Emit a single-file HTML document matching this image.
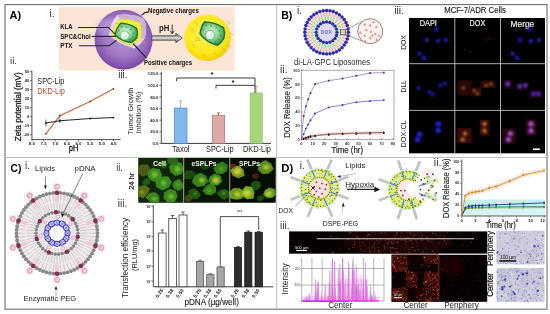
<!DOCTYPE html>
<html><head><meta charset="utf-8"><title>Liposome figure</title>
<style>
html,body{margin:0;padding:0;background:#fff;}
svg{display:block;font-family:'Liberation Sans', sans-serif;}
</style></head><body>
<svg width="550" height="314" viewBox="0 0 550 314">
<defs>
<filter id="b0" x="-5%" y="-5%" width="110%" height="110%"><feGaussianBlur stdDeviation="0.3"/></filter>
<filter id="b1" x="-20%" y="-20%" width="140%" height="140%"><feGaussianBlur stdDeviation="0.6"/></filter>
<filter id="b4" x="-40%" y="-40%" width="180%" height="180%"><feGaussianBlur stdDeviation="0.9"/></filter>
<filter id="b2" x="-20%" y="-20%" width="140%" height="140%"><feGaussianBlur stdDeviation="1.2"/></filter>
<filter id="b3" x="-20%" y="-20%" width="140%" height="140%"><feGaussianBlur stdDeviation="2.2"/></filter>
<radialGradient id="gPurple" cx="0.5" cy="0.45" r="0.55">
 <stop offset="0" stop-color="#b898d6"/><stop offset="0.6" stop-color="#a078c4"/><stop offset="0.9" stop-color="#8656b0"/><stop offset="1" stop-color="#7444a0"/>
</radialGradient>
<radialGradient id="gYellow" cx="0.45" cy="0.4" r="0.6">
 <stop offset="0" stop-color="#fff35a"/><stop offset="0.7" stop-color="#ffe81c"/><stop offset="1" stop-color="#f1d400"/>
</radialGradient>
<radialGradient id="gGreen" cx="0.45" cy="0.45" r="0.6">
 <stop offset="0" stop-color="#def4de"/><stop offset="0.4" stop-color="#a4dca0"/><stop offset="0.75" stop-color="#58b45e"/><stop offset="1" stop-color="#2c8a3e"/>
</radialGradient>
<linearGradient id="gArrow" x1="0" y1="0" x2="0" y2="1">
 <stop offset="0" stop-color="#555"/><stop offset="0.5" stop-color="#ddd"/><stop offset="1" stop-color="#555"/>
</linearGradient>
<clipPath id="cC1"><rect x="138.5" y="158" width="45" height="44.5"/></clipPath>
<clipPath id="cC2"><rect x="184" y="158" width="45.6" height="44.5"/></clipPath>
<clipPath id="cC3"><rect x="230" y="158" width="45.5" height="44.5"/></clipPath>
<clipPath id="cStrip"><rect x="289.1" y="231.4" width="198.2" height="22.3"/></clipPath>
<clipPath id="cCen"><rect x="391.5" y="254.8" width="47.4" height="47"/></clipPath>
<clipPath id="cPer"><rect x="439" y="254.8" width="48.2" height="47"/></clipPath>
<clipPath id="cM1"><rect x="496.4" y="230.8" width="48" height="33.5"/></clipPath>
<clipPath id="cM2"><rect x="496.5" y="268" width="48.5" height="34"/></clipPath>
<clipPath id="cInt"><rect x="302" y="257" width="82" height="45"/></clipPath>
</defs>
<rect x="0.00" y="0.00" width="550.00" height="314.00" fill="#fff" />
<rect x="5" y="4.6" width="542" height="304.6" fill="none" stroke="#6e6e6e" stroke-width="1.1"/>
<line x1="276.70" y1="5.00" x2="276.70" y2="309.00" stroke="#b9b9b9" stroke-width="0.9" />
<line x1="5.00" y1="157.50" x2="547.00" y2="157.50" stroke="#b9b9b9" stroke-width="0.9" />
<text font-size="11.4" fill="#000" font-weight="bold" textLength="11.6" lengthAdjust="spacingAndGlyphs" x="9.5" y="18.9" >A)</text>
<text font-size="10" fill="#333" x="49.6" y="16.5" >i.</text>
<rect x="59.00" y="7.00" width="175.80" height="63.50" fill="#fbe5d6" />
<ellipse cx="123.6" cy="39.6" rx="29" ry="29.8" fill="url(#gPurple)"/>
<g transform="translate(-2.6,-0.4) translate(124,40) scale(1.0,0.98) translate(-124,-40)">
<ellipse cx="112" cy="27" rx="14" ry="9" fill="#cdb6e6" opacity="0.45" filter="url(#b3)"/>
<path d="M111.5 35.5 Q113 22 120 15 Q133 12.5 146 18.5 Q151 28 147 39.5 Q143 45.5 137 49 Q122 45 111.5 35.5 Z" fill="#e6d9ee"/>
<path d="M120 15 Q133 12.5 146 18.5 Q151 28 147 39.5 L143 38 Q145 27 142 22.5 Q132 19 122.4 19.6 Z" fill="#cdb3df"/>
<path d="M114.5 36 Q116 26 122 19.3 Q133 18.5 142.5 23 Q145.5 31 143.3 38.6 Q140 43 135 45.6 Q123 43 114.5 36 Z" fill="#f1ee3c" stroke="#dcd028" stroke-width="0.5"/>
<path d="M117.6 35.6 Q118.6 28.5 123.4 23.3 Q132 23.5 139.3 28.5 Q141 33.5 139.3 38.6 Q137 41.5 133.8 43.2 Q124 41.5 117.6 35.6 Z" fill="url(#gGreen)" stroke="#1c6e30" stroke-width="1.3" stroke-linejoin="round"/>
<circle cx="127.30" cy="35.80" r="4.6" fill="#d9efe0" stroke="#5aa86a" stroke-width="0.7"/>
<circle cx="126.20" cy="34.60" r="2.2" fill="#f2faf4" opacity="0.8"/>
<circle cx="124.50" cy="27.20" r="0.7" fill="#2a78c8" />
<circle cx="129.00" cy="27.50" r="0.7" fill="#2a78c8" />
<circle cx="133.50" cy="29.50" r="0.7" fill="#2a78c8" />
<circle cx="135.80" cy="33.50" r="0.7" fill="#2a78c8" />
<circle cx="135.50" cy="37.50" r="0.7" fill="#2a78c8" />
<circle cx="132.50" cy="40.20" r="0.7" fill="#2a78c8" />
<circle cx="121.50" cy="31.00" r="0.7" fill="#2a78c8" />
<path d="M118 24 q1.5 -1.5 3 0 q1 1.5 -0.5 2.5" stroke="#d9a21a" stroke-width="0.6" fill="none"/>
<path d="M126 17 q1.5 -1.5 3 0 q1 1.5 -0.5 2.5" stroke="#d9a21a" stroke-width="0.6" fill="none"/>
<path d="M137 19 q1.5 -1.5 3 0 q1 1.5 -0.5 2.5" stroke="#d9a21a" stroke-width="0.6" fill="none"/>
<path d="M145 27 q1.5 -1.5 3 0 q1 1.5 -0.5 2.5" stroke="#d9a21a" stroke-width="0.6" fill="none"/>
<path d="M144 42 q1.5 -1.5 3 0 q1 1.5 -0.5 2.5" stroke="#d9a21a" stroke-width="0.6" fill="none"/>
<path d="M138 47 q1.5 -1.5 3 0 q1 1.5 -0.5 2.5" stroke="#d9a21a" stroke-width="0.6" fill="none"/>
</g>
<text font-size="6.3" fill="#111" font-weight="bold" textLength="12.2" lengthAdjust="spacingAndGlyphs" x="60.3" y="29.3" >KLA</text>
<text font-size="6.3" fill="#111" font-weight="bold" textLength="30.5" lengthAdjust="spacingAndGlyphs" x="60.3" y="38.7" >SPC&amp;Chol</text>
<text font-size="6.3" fill="#111" font-weight="bold" textLength="12.2" lengthAdjust="spacingAndGlyphs" x="60.3" y="48.3" >PTX</text>
<polyline points="77.90,27.50 108.50,27.50 114.80,33.90" fill="none" stroke="#2a2040" stroke-width="1.1" />
<polyline points="91.60,36.40 116.00,36.40" fill="none" stroke="#2a2040" stroke-width="1.1" />
<polyline points="79.00,45.80 109.40,45.80 116.50,40.30" fill="none" stroke="#2a2040" stroke-width="1.1" />
<text font-size="6.3" fill="#111" font-weight="bold" textLength="50.8" lengthAdjust="spacingAndGlyphs" x="148" y="13.2" >Negative charges</text>
<polyline points="148.30,11.90 145.00,12.60 141.50,15.30" fill="none" stroke="#2a2040" stroke-width="1.1" />
<text font-size="6.3" fill="#111" font-weight="bold" textLength="48" lengthAdjust="spacingAndGlyphs" x="144" y="64.8" >Positive charges</text>
<polyline points="146.40,57.80 133.00,43.50" fill="none" stroke="#2a2040" stroke-width="1.1" />
<path d="M151.8 35.8 L175.8 35.8 L175.8 33.4 L182.4 38 L175.8 42.6 L175.8 40.2 L151.8 40.2 Z" fill="url(#gArrow)" stroke="#333" stroke-width="0.7"/>
<text font-size="9.3" fill="#222" font-weight="bold" textLength="10.4" lengthAdjust="spacingAndGlyphs" x="159" y="31.2" >pH</text>
<path d="M172.2 24.5 L172.2 33.4 M170.2 30.8 L172.2 33.9 L174.2 30.8" stroke="#222" stroke-width="0.9" fill="none"/>
<circle cx="207.50" cy="37.80" r="23.2" fill="url(#gYellow)" />
<path d="M198.8 34 Q199.5 26 203.5 21 Q215 20.5 225.2 26.5 Q227.5 33 226 39.5 Q223 44.5 218.5 47.8 Q206 44 198.8 34 Z" fill="#dde35a" opacity="0.75"/>
<path d="M200 33.8 Q200.8 26.8 204.4 21.8 Q214.5 22 223.6 27.6 Q225.5 33 223.9 38.5 Q221.5 42.5 217.6 45.3 Q206.5 42.5 200 33.8 Z" fill="url(#gGreen)" stroke="#1c6e30" stroke-width="1.3" stroke-linejoin="round"/>
<circle cx="210.00" cy="35.00" r="4.8" fill="#d9efe0" stroke="#5aa86a" stroke-width="0.7"/>
<circle cx="209.00" cy="33.80" r="2.3" fill="#f2faf4" opacity="0.8"/>
<circle cx="206.00" cy="25.50" r="0.7" fill="#2a78c8" />
<circle cx="211.00" cy="26.00" r="0.7" fill="#2a78c8" />
<circle cx="216.00" cy="27.80" r="0.7" fill="#2a78c8" />
<circle cx="219.50" cy="31.00" r="0.7" fill="#2a78c8" />
<circle cx="220.50" cy="35.50" r="0.7" fill="#2a78c8" />
<circle cx="218.50" cy="39.50" r="0.7" fill="#2a78c8" />
<circle cx="215.50" cy="42.00" r="0.7" fill="#2a78c8" />
<circle cx="203.20" cy="29.50" r="0.7" fill="#2a78c8" />
<path d="M190 30 q1.5 -1.5 3 0 q1 1.5 -0.5 2.5" stroke="#e0a81a" stroke-width="0.6" fill="none"/>
<path d="M194 23 q1.5 -1.5 3 0 q1 1.5 -0.5 2.5" stroke="#e0a81a" stroke-width="0.6" fill="none"/>
<path d="M226 22 q1.5 -1.5 3 0 q1 1.5 -0.5 2.5" stroke="#e0a81a" stroke-width="0.6" fill="none"/>
<path d="M229 34 q1.5 -1.5 3 0 q1 1.5 -0.5 2.5" stroke="#e0a81a" stroke-width="0.6" fill="none"/>
<path d="M227 46 q1.5 -1.5 3 0 q1 1.5 -0.5 2.5" stroke="#e0a81a" stroke-width="0.6" fill="none"/>
<path d="M191 45 q1.5 -1.5 3 0 q1 1.5 -0.5 2.5" stroke="#e0a81a" stroke-width="0.6" fill="none"/>
<path d="M213 54 q1.5 -1.5 3 0 q1 1.5 -0.5 2.5" stroke="#e0a81a" stroke-width="0.6" fill="none"/>
<path d="M202 55 q1.5 -1.5 3 0 q1 1.5 -0.5 2.5" stroke="#e0a81a" stroke-width="0.6" fill="none"/>
<path d="M196 38 q1.5 -1.5 3 0 q1 1.5 -0.5 2.5" stroke="#e0a81a" stroke-width="0.6" fill="none"/>
<path d="M222 50 q1.5 -1.5 3 0 q1 1.5 -0.5 2.5" stroke="#e0a81a" stroke-width="0.6" fill="none"/>
<path d="M195 41 q3 -2 6 0" stroke="#9ad84a" stroke-width="0.8" fill="none"/>
<text font-size="9.5" fill="#333" textLength="7" lengthAdjust="spacingAndGlyphs" x="10" y="64.2" >ii.</text>
<line x1="31.90" y1="71.00" x2="31.90" y2="139.60" stroke="#222" stroke-width="0.8" />
<line x1="31.90" y1="139.60" x2="120.50" y2="139.60" stroke="#222" stroke-width="0.8" />
<line x1="29.90" y1="71.70" x2="31.90" y2="71.70" stroke="#222" stroke-width="0.6" />
<text font-size="4" fill="#222" font-weight="bold" text-anchor="end" x="29.2" y="73.2" >50</text>
<line x1="29.90" y1="80.70" x2="31.90" y2="80.70" stroke="#222" stroke-width="0.6" />
<text font-size="4" fill="#222" font-weight="bold" text-anchor="end" x="29.2" y="82.2" >40</text>
<line x1="29.90" y1="89.70" x2="31.90" y2="89.70" stroke="#222" stroke-width="0.6" />
<text font-size="4" fill="#222" font-weight="bold" text-anchor="end" x="29.2" y="91.2" >30</text>
<line x1="29.90" y1="98.70" x2="31.90" y2="98.70" stroke="#222" stroke-width="0.6" />
<text font-size="4" fill="#222" font-weight="bold" text-anchor="end" x="29.2" y="100.2" >20</text>
<line x1="29.90" y1="107.70" x2="31.90" y2="107.70" stroke="#222" stroke-width="0.6" />
<text font-size="4" fill="#222" font-weight="bold" text-anchor="end" x="29.2" y="109.2" >10</text>
<line x1="29.90" y1="116.70" x2="31.90" y2="116.70" stroke="#222" stroke-width="0.6" />
<text font-size="4" fill="#222" font-weight="bold" text-anchor="end" x="29.2" y="118.2" >0</text>
<line x1="29.90" y1="125.70" x2="31.90" y2="125.70" stroke="#222" stroke-width="0.6" />
<text font-size="4" fill="#222" font-weight="bold" text-anchor="end" x="29.2" y="127.2" >-10</text>
<line x1="29.90" y1="134.70" x2="31.90" y2="134.70" stroke="#222" stroke-width="0.6" />
<text font-size="4" fill="#222" font-weight="bold" text-anchor="end" x="29.2" y="136.2" >-20</text>
<line x1="31.90" y1="139.60" x2="31.90" y2="141.30" stroke="#222" stroke-width="0.6" />
<text font-size="4.4" fill="#222" font-weight="bold" text-anchor="middle" x="31.9" y="144.9" >8.0</text>
<line x1="43.55" y1="139.60" x2="43.55" y2="141.30" stroke="#222" stroke-width="0.6" />
<text font-size="4.4" fill="#222" font-weight="bold" text-anchor="middle" x="43.55" y="144.9" >7.5</text>
<line x1="55.20" y1="139.60" x2="55.20" y2="141.30" stroke="#222" stroke-width="0.6" />
<text font-size="4.4" fill="#222" font-weight="bold" text-anchor="middle" x="55.2" y="144.9" >7.0</text>
<line x1="66.85" y1="139.60" x2="66.85" y2="141.30" stroke="#222" stroke-width="0.6" />
<text font-size="4.4" fill="#222" font-weight="bold" text-anchor="middle" x="66.85" y="144.9" >6.5</text>
<line x1="78.50" y1="139.60" x2="78.50" y2="141.30" stroke="#222" stroke-width="0.6" />
<text font-size="4.4" fill="#222" font-weight="bold" text-anchor="middle" x="78.5" y="144.9" >6.0</text>
<line x1="90.15" y1="139.60" x2="90.15" y2="141.30" stroke="#222" stroke-width="0.6" />
<text font-size="4.4" fill="#222" font-weight="bold" text-anchor="middle" x="90.15" y="144.9" >5.5</text>
<line x1="101.80" y1="139.60" x2="101.80" y2="141.30" stroke="#222" stroke-width="0.6" />
<text font-size="4.4" fill="#222" font-weight="bold" text-anchor="middle" x="101.80000000000001" y="144.9" >5.0</text>
<line x1="113.45" y1="139.60" x2="113.45" y2="141.30" stroke="#222" stroke-width="0.6" />
<text font-size="4.4" fill="#222" font-weight="bold" text-anchor="middle" x="113.44999999999999" y="144.9" >4.5</text>
<polyline points="45.88,133.80 59.86,115.80 90.15,101.40 113.45,88.80" fill="none" stroke="#bf6a48" stroke-width="1.1" />
<polyline points="45.88,123.00 59.86,120.75 90.15,118.50 113.45,117.60" fill="none" stroke="#222" stroke-width="1.0" />
<circle cx="45.88" cy="123.00" r="0.9" fill="#111" />
<circle cx="59.86" cy="120.75" r="0.9" fill="#111" />
<circle cx="90.15" cy="118.50" r="0.9" fill="#111" />
<circle cx="113.45" cy="117.60" r="0.9" fill="#111" />
<circle cx="45.88" cy="133.80" r="0.9" fill="#8c2f14" />
<circle cx="59.86" cy="115.80" r="0.9" fill="#8c2f14" />
<circle cx="90.15" cy="101.40" r="0.9" fill="#8c2f14" />
<circle cx="113.45" cy="88.80" r="0.9" fill="#8c2f14" />
<line x1="45.88" y1="119.40" x2="45.88" y2="126.60" stroke="#222" stroke-width="0.6" />
<line x1="59.86" y1="118.50" x2="59.86" y2="123.00" stroke="#222" stroke-width="0.6" />
<line x1="59.86" y1="113.55" x2="59.86" y2="118.05" stroke="#b5532f" stroke-width="0.6" />
<text font-size="8.4" fill="#222" textLength="27" lengthAdjust="spacingAndGlyphs" x="37.3" y="83.7" >SPC-Lip</text>
<text font-size="8.4" fill="#b04a30" textLength="27.5" lengthAdjust="spacingAndGlyphs" x="37.3" y="94.3" >DKD-Lip</text>
<text font-size="8.4" fill="#222" textLength="69" lengthAdjust="spacingAndGlyphs" transform="translate(20.5,141.3) rotate(-90)" stroke="#222" stroke-width="0.3">Zeta potential (mV)</text>
<text font-size="9" fill="#222" textLength="9.7" lengthAdjust="spacingAndGlyphs" x="68.7" y="150.5" stroke="#222" stroke-width="0.35">pH</text>
<text font-size="10" fill="#333" textLength="9.2" lengthAdjust="spacingAndGlyphs" x="118.3" y="78" >iii.</text>
<line x1="161.30" y1="72.00" x2="161.30" y2="143.40" stroke="#222" stroke-width="0.8" />
<line x1="161.30" y1="143.40" x2="271.00" y2="143.40" stroke="#222" stroke-width="0.9" />
<line x1="159.30" y1="143.40" x2="161.30" y2="143.40" stroke="#222" stroke-width="0.6" />
<text font-size="4.2" fill="#222" font-weight="bold" text-anchor="end" x="158.3" y="144.9" >0.0</text>
<line x1="159.30" y1="131.80" x2="161.30" y2="131.80" stroke="#222" stroke-width="0.6" />
<text font-size="4.2" fill="#222" font-weight="bold" text-anchor="end" x="158.3" y="133.3" >20.0</text>
<line x1="159.30" y1="120.20" x2="161.30" y2="120.20" stroke="#222" stroke-width="0.6" />
<text font-size="4.2" fill="#222" font-weight="bold" text-anchor="end" x="158.3" y="121.7" >40.0</text>
<line x1="159.30" y1="108.60" x2="161.30" y2="108.60" stroke="#222" stroke-width="0.6" />
<text font-size="4.2" fill="#222" font-weight="bold" text-anchor="end" x="158.3" y="110.10000000000001" >60.0</text>
<line x1="159.30" y1="97.00" x2="161.30" y2="97.00" stroke="#222" stroke-width="0.6" />
<text font-size="4.2" fill="#222" font-weight="bold" text-anchor="end" x="158.3" y="98.5" >80.0</text>
<line x1="159.30" y1="85.40" x2="161.30" y2="85.40" stroke="#222" stroke-width="0.6" />
<text font-size="4.2" fill="#222" font-weight="bold" text-anchor="end" x="158.3" y="86.9" >100.0</text>
<line x1="159.30" y1="73.80" x2="161.30" y2="73.80" stroke="#222" stroke-width="0.6" />
<text font-size="4.2" fill="#222" font-weight="bold" text-anchor="end" x="158.3" y="75.30000000000001" >120.0</text>
<rect x="174.30" y="108.02" width="12.70" height="35.38" fill="#7db9ea" stroke="#5f7fd0" stroke-width="0.7"/>
<line x1="180.60" y1="108.02" x2="180.60" y2="101.06" stroke="#6aa9dc" stroke-width="0.8" />
<line x1="178.90" y1="101.06" x2="182.30" y2="101.06" stroke="#6aa9dc" stroke-width="0.8" />
<rect x="212.30" y="115.56" width="12.40" height="27.84" fill="#dcaaa4" stroke="#b56c66" stroke-width="0.7"/>
<line x1="218.50" y1="115.56" x2="218.50" y2="112.95" stroke="#c0392b" stroke-width="0.8" />
<line x1="216.80" y1="112.95" x2="220.20" y2="112.95" stroke="#c0392b" stroke-width="0.8" />
<rect x="250.00" y="92.94" width="12.40" height="50.46" fill="#a8d47c" stroke="#86b95a" stroke-width="0.5"/>
<line x1="256.20" y1="92.94" x2="256.20" y2="86.27" stroke="#8cc05e" stroke-width="0.8" />
<line x1="254.50" y1="86.27" x2="258.00" y2="86.27" stroke="#8cc05e" stroke-width="0.8" />
<polyline points="176.70,81.20 176.70,78.00 255.00,78.00 255.00,93.00" fill="none" stroke="#222" stroke-width="0.9" />
<polyline points="216.00,88.40 216.00,85.30 255.00,85.30" fill="none" stroke="#222" stroke-width="0.9" />
<text font-size="8" fill="#111" font-weight="bold" text-anchor="middle" x="212" y="77.2" >*</text>
<text font-size="8" fill="#111" font-weight="bold" text-anchor="middle" x="233" y="84.6" >*</text>
<text font-size="8.6" fill="#222" textLength="17.5" lengthAdjust="spacingAndGlyphs" x="172" y="152.2" >Taxol</text>
<text font-size="8.6" fill="#222" textLength="27.5" lengthAdjust="spacingAndGlyphs" x="206" y="152.2" >SPC-Lip</text>
<text font-size="8.6" fill="#222" textLength="28" lengthAdjust="spacingAndGlyphs" x="243" y="152.2" >DKD-Lip</text>
<text font-size="7.4" fill="#222" textLength="47" lengthAdjust="spacingAndGlyphs" transform="translate(133.4,134.7) rotate(-90)" >Tumor Growth</text>
<text font-size="7.4" fill="#222" textLength="41.5" lengthAdjust="spacingAndGlyphs" transform="translate(141.4,133.2) rotate(-90)" >Inhibition (%)</text>
<text font-size="11.2" fill="#000" font-weight="bold" textLength="11.2" lengthAdjust="spacingAndGlyphs" x="281.2" y="18.7" >B)</text>
<text font-size="10" fill="#333" x="296.9" y="13.8" >i.</text>
<text font-size="10" fill="#333" textLength="9.6" lengthAdjust="spacingAndGlyphs" x="394.2" y="14" >iii.</text>
<circle cx="326.60" cy="32.30" r="22" fill="#f6e3df" />
<circle cx="326.60" cy="32.30" r="16.2" fill="#dcecd0" />
<circle cx="326.60" cy="32.30" r="10.5" fill="#dedcf4" />
<line x1="346.90" y1="32.30" x2="343.00" y2="32.30" stroke="#e8a29c" stroke-width="1.0" />
<line x1="346.65" y1="35.48" x2="342.80" y2="34.87" stroke="#e8a29c" stroke-width="1.0" />
<line x1="345.91" y1="38.57" x2="342.20" y2="37.37" stroke="#e8a29c" stroke-width="1.0" />
<line x1="344.69" y1="41.52" x2="341.21" y2="39.75" stroke="#e8a29c" stroke-width="1.0" />
<line x1="343.02" y1="44.23" x2="339.87" y2="41.94" stroke="#e8a29c" stroke-width="1.0" />
<line x1="340.95" y1="46.65" x2="338.20" y2="43.90" stroke="#e8a29c" stroke-width="1.0" />
<line x1="338.53" y1="48.72" x2="336.24" y2="45.57" stroke="#e8a29c" stroke-width="1.0" />
<line x1="335.82" y1="50.39" x2="334.05" y2="46.91" stroke="#e8a29c" stroke-width="1.0" />
<line x1="332.87" y1="51.61" x2="331.67" y2="47.90" stroke="#e8a29c" stroke-width="1.0" />
<line x1="329.78" y1="52.35" x2="329.17" y2="48.50" stroke="#e8a29c" stroke-width="1.0" />
<line x1="326.60" y1="52.60" x2="326.60" y2="48.70" stroke="#e8a29c" stroke-width="1.0" />
<line x1="323.42" y1="52.35" x2="324.03" y2="48.50" stroke="#e8a29c" stroke-width="1.0" />
<line x1="320.33" y1="51.61" x2="321.53" y2="47.90" stroke="#e8a29c" stroke-width="1.0" />
<line x1="317.38" y1="50.39" x2="319.15" y2="46.91" stroke="#e8a29c" stroke-width="1.0" />
<line x1="314.67" y1="48.72" x2="316.96" y2="45.57" stroke="#e8a29c" stroke-width="1.0" />
<line x1="312.25" y1="46.65" x2="315.00" y2="43.90" stroke="#e8a29c" stroke-width="1.0" />
<line x1="310.18" y1="44.23" x2="313.33" y2="41.94" stroke="#e8a29c" stroke-width="1.0" />
<line x1="308.51" y1="41.52" x2="311.99" y2="39.75" stroke="#e8a29c" stroke-width="1.0" />
<line x1="307.29" y1="38.57" x2="311.00" y2="37.37" stroke="#e8a29c" stroke-width="1.0" />
<line x1="306.55" y1="35.48" x2="310.40" y2="34.87" stroke="#e8a29c" stroke-width="1.0" />
<line x1="306.30" y1="32.30" x2="310.20" y2="32.30" stroke="#e8a29c" stroke-width="1.0" />
<line x1="306.55" y1="29.12" x2="310.40" y2="29.73" stroke="#e8a29c" stroke-width="1.0" />
<line x1="307.29" y1="26.03" x2="311.00" y2="27.23" stroke="#e8a29c" stroke-width="1.0" />
<line x1="308.51" y1="23.08" x2="311.99" y2="24.85" stroke="#e8a29c" stroke-width="1.0" />
<line x1="310.18" y1="20.37" x2="313.33" y2="22.66" stroke="#e8a29c" stroke-width="1.0" />
<line x1="312.25" y1="17.95" x2="315.00" y2="20.70" stroke="#e8a29c" stroke-width="1.0" />
<line x1="314.67" y1="15.88" x2="316.96" y2="19.03" stroke="#e8a29c" stroke-width="1.0" />
<line x1="317.38" y1="14.21" x2="319.15" y2="17.69" stroke="#e8a29c" stroke-width="1.0" />
<line x1="320.33" y1="12.99" x2="321.53" y2="16.70" stroke="#e8a29c" stroke-width="1.0" />
<line x1="323.42" y1="12.25" x2="324.03" y2="16.10" stroke="#e8a29c" stroke-width="1.0" />
<line x1="326.60" y1="12.00" x2="326.60" y2="15.90" stroke="#e8a29c" stroke-width="1.0" />
<line x1="329.78" y1="12.25" x2="329.17" y2="16.10" stroke="#e8a29c" stroke-width="1.0" />
<line x1="332.87" y1="12.99" x2="331.67" y2="16.70" stroke="#e8a29c" stroke-width="1.0" />
<line x1="335.82" y1="14.21" x2="334.05" y2="17.69" stroke="#e8a29c" stroke-width="1.0" />
<line x1="338.53" y1="15.88" x2="336.24" y2="19.03" stroke="#e8a29c" stroke-width="1.0" />
<line x1="340.95" y1="17.95" x2="338.20" y2="20.70" stroke="#e8a29c" stroke-width="1.0" />
<line x1="343.02" y1="20.37" x2="339.87" y2="22.66" stroke="#e8a29c" stroke-width="1.0" />
<line x1="344.69" y1="23.08" x2="341.21" y2="24.85" stroke="#e8a29c" stroke-width="1.0" />
<line x1="345.91" y1="26.03" x2="342.20" y2="27.23" stroke="#e8a29c" stroke-width="1.0" />
<line x1="346.65" y1="29.12" x2="342.80" y2="29.73" stroke="#e8a29c" stroke-width="1.0" />
<line x1="342.60" y1="32.30" x2="338.80" y2="32.30" stroke="#9fcb8e" stroke-width="1.0" />
<line x1="342.25" y1="35.63" x2="338.53" y2="34.84" stroke="#9fcb8e" stroke-width="1.0" />
<line x1="341.22" y1="38.81" x2="337.75" y2="37.26" stroke="#9fcb8e" stroke-width="1.0" />
<line x1="339.54" y1="41.70" x2="336.47" y2="39.47" stroke="#9fcb8e" stroke-width="1.0" />
<line x1="337.31" y1="44.19" x2="334.76" y2="41.37" stroke="#9fcb8e" stroke-width="1.0" />
<line x1="334.60" y1="46.16" x2="332.70" y2="42.87" stroke="#9fcb8e" stroke-width="1.0" />
<line x1="331.54" y1="47.52" x2="330.37" y2="43.90" stroke="#9fcb8e" stroke-width="1.0" />
<line x1="328.27" y1="48.21" x2="327.88" y2="44.43" stroke="#9fcb8e" stroke-width="1.0" />
<line x1="324.93" y1="48.21" x2="325.32" y2="44.43" stroke="#9fcb8e" stroke-width="1.0" />
<line x1="321.66" y1="47.52" x2="322.83" y2="43.90" stroke="#9fcb8e" stroke-width="1.0" />
<line x1="318.60" y1="46.16" x2="320.50" y2="42.87" stroke="#9fcb8e" stroke-width="1.0" />
<line x1="315.89" y1="44.19" x2="318.44" y2="41.37" stroke="#9fcb8e" stroke-width="1.0" />
<line x1="313.66" y1="41.70" x2="316.73" y2="39.47" stroke="#9fcb8e" stroke-width="1.0" />
<line x1="311.98" y1="38.81" x2="315.45" y2="37.26" stroke="#9fcb8e" stroke-width="1.0" />
<line x1="310.95" y1="35.63" x2="314.67" y2="34.84" stroke="#9fcb8e" stroke-width="1.0" />
<line x1="310.60" y1="32.30" x2="314.40" y2="32.30" stroke="#9fcb8e" stroke-width="1.0" />
<line x1="310.95" y1="28.97" x2="314.67" y2="29.76" stroke="#9fcb8e" stroke-width="1.0" />
<line x1="311.98" y1="25.79" x2="315.45" y2="27.34" stroke="#9fcb8e" stroke-width="1.0" />
<line x1="313.66" y1="22.90" x2="316.73" y2="25.13" stroke="#9fcb8e" stroke-width="1.0" />
<line x1="315.89" y1="20.41" x2="318.44" y2="23.23" stroke="#9fcb8e" stroke-width="1.0" />
<line x1="318.60" y1="18.44" x2="320.50" y2="21.73" stroke="#9fcb8e" stroke-width="1.0" />
<line x1="321.66" y1="17.08" x2="322.83" y2="20.70" stroke="#9fcb8e" stroke-width="1.0" />
<line x1="324.93" y1="16.39" x2="325.32" y2="20.17" stroke="#9fcb8e" stroke-width="1.0" />
<line x1="328.27" y1="16.39" x2="327.88" y2="20.17" stroke="#9fcb8e" stroke-width="1.0" />
<line x1="331.54" y1="17.08" x2="330.37" y2="20.70" stroke="#9fcb8e" stroke-width="1.0" />
<line x1="334.60" y1="18.44" x2="332.70" y2="21.73" stroke="#9fcb8e" stroke-width="1.0" />
<line x1="337.31" y1="20.41" x2="334.76" y2="23.23" stroke="#9fcb8e" stroke-width="1.0" />
<line x1="339.54" y1="22.90" x2="336.47" y2="25.13" stroke="#9fcb8e" stroke-width="1.0" />
<line x1="341.22" y1="25.79" x2="337.75" y2="27.34" stroke="#9fcb8e" stroke-width="1.0" />
<line x1="342.25" y1="28.97" x2="338.53" y2="29.76" stroke="#9fcb8e" stroke-width="1.0" />
<circle cx="348.40" cy="32.30" r="1.75" fill="#2a2ab4" />
<circle cx="348.13" cy="35.71" r="1.75" fill="#2a2ab4" />
<circle cx="347.33" cy="39.04" r="1.75" fill="#2a2ab4" />
<circle cx="346.02" cy="42.20" r="1.75" fill="#2a2ab4" />
<circle cx="344.24" cy="45.11" r="1.75" fill="#2a2ab4" />
<circle cx="342.01" cy="47.71" r="1.75" fill="#2a2ab4" />
<circle cx="339.41" cy="49.94" r="1.75" fill="#2a2ab4" />
<circle cx="336.50" cy="51.72" r="1.75" fill="#2a2ab4" />
<circle cx="333.34" cy="53.03" r="1.75" fill="#2a2ab4" />
<circle cx="330.01" cy="53.83" r="1.75" fill="#2a2ab4" />
<circle cx="326.60" cy="54.10" r="1.75" fill="#2a2ab4" />
<circle cx="323.19" cy="53.83" r="1.75" fill="#2a2ab4" />
<circle cx="319.86" cy="53.03" r="1.75" fill="#2a2ab4" />
<circle cx="316.70" cy="51.72" r="1.75" fill="#2a2ab4" />
<circle cx="313.79" cy="49.94" r="1.75" fill="#2a2ab4" />
<circle cx="311.19" cy="47.71" r="1.75" fill="#2a2ab4" />
<circle cx="308.96" cy="45.11" r="1.75" fill="#2a2ab4" />
<circle cx="307.18" cy="42.20" r="1.75" fill="#2a2ab4" />
<circle cx="305.87" cy="39.04" r="1.75" fill="#2a2ab4" />
<circle cx="305.07" cy="35.71" r="1.75" fill="#2a2ab4" />
<circle cx="304.80" cy="32.30" r="1.75" fill="#2a2ab4" />
<circle cx="305.07" cy="28.89" r="1.75" fill="#2a2ab4" />
<circle cx="305.87" cy="25.56" r="1.75" fill="#2a2ab4" />
<circle cx="307.18" cy="22.40" r="1.75" fill="#2a2ab4" />
<circle cx="308.96" cy="19.49" r="1.75" fill="#2a2ab4" />
<circle cx="311.19" cy="16.89" r="1.75" fill="#2a2ab4" />
<circle cx="313.79" cy="14.66" r="1.75" fill="#2a2ab4" />
<circle cx="316.70" cy="12.88" r="1.75" fill="#2a2ab4" />
<circle cx="319.86" cy="11.57" r="1.75" fill="#2a2ab4" />
<circle cx="323.19" cy="10.77" r="1.75" fill="#2a2ab4" />
<circle cx="326.60" cy="10.50" r="1.75" fill="#2a2ab4" />
<circle cx="330.01" cy="10.77" r="1.75" fill="#2a2ab4" />
<circle cx="333.34" cy="11.57" r="1.75" fill="#2a2ab4" />
<circle cx="336.50" cy="12.88" r="1.75" fill="#2a2ab4" />
<circle cx="339.41" cy="14.66" r="1.75" fill="#2a2ab4" />
<circle cx="342.01" cy="16.89" r="1.75" fill="#2a2ab4" />
<circle cx="344.24" cy="19.49" r="1.75" fill="#2a2ab4" />
<circle cx="346.02" cy="22.40" r="1.75" fill="#2a2ab4" />
<circle cx="347.33" cy="25.56" r="1.75" fill="#2a2ab4" />
<circle cx="348.13" cy="28.89" r="1.75" fill="#2a2ab4" />
<circle cx="337.00" cy="32.30" r="1.65" fill="#2a2ab4" />
<circle cx="336.49" cy="35.51" r="1.65" fill="#2a2ab4" />
<circle cx="335.01" cy="38.41" r="1.65" fill="#2a2ab4" />
<circle cx="332.71" cy="40.71" r="1.65" fill="#2a2ab4" />
<circle cx="329.81" cy="42.19" r="1.65" fill="#2a2ab4" />
<circle cx="326.60" cy="42.70" r="1.65" fill="#2a2ab4" />
<circle cx="323.39" cy="42.19" r="1.65" fill="#2a2ab4" />
<circle cx="320.49" cy="40.71" r="1.65" fill="#2a2ab4" />
<circle cx="318.19" cy="38.41" r="1.65" fill="#2a2ab4" />
<circle cx="316.71" cy="35.51" r="1.65" fill="#2a2ab4" />
<circle cx="316.20" cy="32.30" r="1.65" fill="#2a2ab4" />
<circle cx="316.71" cy="29.09" r="1.65" fill="#2a2ab4" />
<circle cx="318.19" cy="26.19" r="1.65" fill="#2a2ab4" />
<circle cx="320.49" cy="23.89" r="1.65" fill="#2a2ab4" />
<circle cx="323.39" cy="22.41" r="1.65" fill="#2a2ab4" />
<circle cx="326.60" cy="21.90" r="1.65" fill="#2a2ab4" />
<circle cx="329.81" cy="22.41" r="1.65" fill="#2a2ab4" />
<circle cx="332.71" cy="23.89" r="1.65" fill="#2a2ab4" />
<circle cx="335.01" cy="26.19" r="1.65" fill="#2a2ab4" />
<circle cx="336.49" cy="29.09" r="1.65" fill="#2a2ab4" />
<text font-size="4.8" fill="#6a6ad0" font-weight="bold" text-anchor="middle" textLength="11" lengthAdjust="spacingAndGlyphs" x="326.3" y="34.099999999999994" >DOX</text>
<rect x="340.5" y="29.9" width="5.2" height="4.6" fill="none" stroke="#333" stroke-width="0.6"/>
<line x1="345.70" y1="29.90" x2="362.50" y2="21.20" stroke="#555" stroke-width="0.6" />
<line x1="345.70" y1="34.50" x2="362.50" y2="41.20" stroke="#555" stroke-width="0.6" />
<circle cx="370.2" cy="31.2" r="12.5" fill="#fdf1ef" stroke="#555" stroke-width="0.7"/>
<path d="M363.7 25.4 l1 -2.2 l1 2.2 z" fill="#dd8d80" stroke="#cf7468" stroke-width="0.3"/>
<path d="M369.2 26.2 l1 -2.2 l1 2.2 z" fill="#dd8d80" stroke="#cf7468" stroke-width="0.3"/>
<path d="M372.4 23.0 l1 -2.2 l1 2.2 z" fill="#dd8d80" stroke="#cf7468" stroke-width="0.3"/>
<path d="M375.3 27.8 l1 -2.2 l1 2.2 z" fill="#dd8d80" stroke="#cf7468" stroke-width="0.3"/>
<path d="M359.4 33.4 l1 -2.2 l1 2.2 z" fill="#dd8d80" stroke="#cf7468" stroke-width="0.3"/>
<path d="M365.3 31.0 l1 -2.2 l1 2.2 z" fill="#dd8d80" stroke="#cf7468" stroke-width="0.3"/>
<path d="M370.0 32.6 l1 -2.2 l1 2.2 z" fill="#dd8d80" stroke="#cf7468" stroke-width="0.3"/>
<path d="M374.3 35.0 l1 -2.2 l1 2.2 z" fill="#dd8d80" stroke="#cf7468" stroke-width="0.3"/>
<path d="M378.0 36.6 l1 -2.2 l1 2.2 z" fill="#dd8d80" stroke="#cf7468" stroke-width="0.3"/>
<path d="M363.7 36.6 l1 -2.2 l1 2.2 z" fill="#dd8d80" stroke="#cf7468" stroke-width="0.3"/>
<path d="M369.2 39.0 l1 -2.2 l1 2.2 z" fill="#dd8d80" stroke="#cf7468" stroke-width="0.3"/>
<path d="M375.6 40.5 l1 -2.2 l1 2.2 z" fill="#dd8d80" stroke="#cf7468" stroke-width="0.3"/>
<path d="M364.1 42.1 l1 -2.2 l1 2.2 z" fill="#dd8d80" stroke="#cf7468" stroke-width="0.3"/>
<path d="M371.3 36.6 l1 -2.2 l1 2.2 z" fill="#dd8d80" stroke="#cf7468" stroke-width="0.3"/>
<text font-size="8.8" fill="#222" textLength="76" lengthAdjust="spacingAndGlyphs" x="294" y="65" >di-LA-GPC Liposomes</text>
<text font-size="10.3" fill="#333" textLength="7.4" lengthAdjust="spacingAndGlyphs" x="280.1" y="73.2" >ii.</text>
<rect x="301.3" y="70.2" width="92.69999999999999" height="69.49999999999999" fill="#fff" stroke="#8a7fa8" stroke-width="0.7"/>
<line x1="301.30" y1="139.70" x2="303.10" y2="139.70" stroke="#555" stroke-width="0.5" />
<text font-size="4" fill="#333" font-weight="bold" text-anchor="end" x="299.8" y="141.1" >0</text>
<line x1="301.30" y1="125.80" x2="303.10" y2="125.80" stroke="#555" stroke-width="0.5" />
<text font-size="4" fill="#333" font-weight="bold" text-anchor="end" x="299.8" y="127.19999999999999" >20</text>
<line x1="301.30" y1="111.90" x2="303.10" y2="111.90" stroke="#555" stroke-width="0.5" />
<text font-size="4" fill="#333" font-weight="bold" text-anchor="end" x="299.8" y="113.3" >40</text>
<line x1="301.30" y1="98.00" x2="303.10" y2="98.00" stroke="#555" stroke-width="0.5" />
<text font-size="4" fill="#333" font-weight="bold" text-anchor="end" x="299.8" y="99.4" >60</text>
<line x1="301.30" y1="84.10" x2="303.10" y2="84.10" stroke="#555" stroke-width="0.5" />
<text font-size="4" fill="#333" font-weight="bold" text-anchor="end" x="299.8" y="85.5" >80</text>
<line x1="301.30" y1="70.20" x2="303.10" y2="70.20" stroke="#555" stroke-width="0.5" />
<text font-size="4" fill="#333" font-weight="bold" text-anchor="end" x="299.8" y="71.6" >100</text>
<line x1="301.30" y1="139.70" x2="301.30" y2="137.90" stroke="#555" stroke-width="0.5" />
<text font-size="4" fill="#333" font-weight="bold" text-anchor="middle" x="301.3" y="144.89999999999998" >0</text>
<line x1="312.76" y1="139.70" x2="312.76" y2="137.90" stroke="#555" stroke-width="0.5" />
<text font-size="4" fill="#333" font-weight="bold" text-anchor="middle" x="312.76" y="144.89999999999998" >10</text>
<line x1="324.22" y1="139.70" x2="324.22" y2="137.90" stroke="#555" stroke-width="0.5" />
<text font-size="4" fill="#333" font-weight="bold" text-anchor="middle" x="324.22" y="144.89999999999998" >20</text>
<line x1="335.68" y1="139.70" x2="335.68" y2="137.90" stroke="#555" stroke-width="0.5" />
<text font-size="4" fill="#333" font-weight="bold" text-anchor="middle" x="335.68" y="144.89999999999998" >30</text>
<line x1="347.14" y1="139.70" x2="347.14" y2="137.90" stroke="#555" stroke-width="0.5" />
<text font-size="4" fill="#333" font-weight="bold" text-anchor="middle" x="347.14" y="144.89999999999998" >40</text>
<line x1="358.60" y1="139.70" x2="358.60" y2="137.90" stroke="#555" stroke-width="0.5" />
<text font-size="4" fill="#333" font-weight="bold" text-anchor="middle" x="358.6" y="144.89999999999998" >50</text>
<line x1="370.06" y1="139.70" x2="370.06" y2="137.90" stroke="#555" stroke-width="0.5" />
<text font-size="4" fill="#333" font-weight="bold" text-anchor="middle" x="370.06" y="144.89999999999998" >60</text>
<line x1="381.52" y1="139.70" x2="381.52" y2="137.90" stroke="#555" stroke-width="0.5" />
<text font-size="4" fill="#333" font-weight="bold" text-anchor="middle" x="381.52" y="144.89999999999998" >70</text>
<line x1="392.98" y1="139.70" x2="392.98" y2="137.90" stroke="#555" stroke-width="0.5" />
<text font-size="4" fill="#333" font-weight="bold" text-anchor="middle" x="392.98" y="144.89999999999998" >80</text>
<polygon points="301.3,139.7 303.6,136.9 305.9,135.9 308.2,135.2 310.5,134.5 315.1,133.4 328.8,132.1 342.6,131.4 356.3,131.0 370.1,130.7 383.8,130.7 383.8,134.8 370.1,134.8 356.3,135.2 342.6,135.2 328.8,135.5 315.1,136.9 310.5,137.6 308.2,138.3 305.9,139.0 303.6,139.7 301.3,139.7" fill="#f7d9dc" opacity="0.7"/>
<polyline points="301.30,139.70 303.59,116.07 305.88,106.34 308.18,99.39 310.47,93.13 315.05,84.10 328.80,80.62 342.56,78.54 356.31,75.76 370.06,72.98 383.81,72.63" fill="none" stroke="#8068c8" stroke-width="0.7" />
<polyline points="301.30,139.70 303.59,134.14 305.88,128.58 308.18,124.41 310.47,120.24 315.05,113.43 328.80,107.38 342.56,104.95 356.31,102.17 370.06,101.06 383.81,100.08" fill="none" stroke="#4a50d8" stroke-width="0.7" />
<polyline points="301.30,139.70 303.59,138.31 305.88,137.61 308.18,136.92 310.47,136.22 315.05,135.53 328.80,134.14 342.56,133.44 356.31,133.10 370.06,132.75 383.81,132.40" fill="none" stroke="#a03030" stroke-width="0.6" />
<polyline points="301.30,139.70 303.59,138.66 305.88,137.96 308.18,137.27 310.47,136.57 315.05,135.88 328.80,134.49 342.56,133.79 356.31,133.44 370.06,133.10 383.81,132.75" fill="none" stroke="#555" stroke-width="0.5" />
<rect x="302.69" y="115.17" width="1.80" height="1.80" fill="#7a2a3a" />
<rect x="304.98" y="105.44" width="1.80" height="1.80" fill="#7a2a3a" />
<rect x="307.28" y="98.49" width="1.80" height="1.80" fill="#7a2a3a" />
<rect x="309.57" y="92.23" width="1.80" height="1.80" fill="#7a2a3a" />
<rect x="314.15" y="83.20" width="1.80" height="1.80" fill="#7a2a3a" />
<rect x="327.90" y="79.72" width="1.80" height="1.80" fill="#7a2a3a" />
<rect x="341.66" y="77.64" width="1.80" height="1.80" fill="#7a2a3a" />
<rect x="355.41" y="74.86" width="1.80" height="1.80" fill="#7a2a3a" />
<rect x="369.16" y="72.08" width="1.80" height="1.80" fill="#7a2a3a" />
<rect x="382.91" y="71.73" width="1.80" height="1.80" fill="#7a2a3a" />
<circle cx="303.59" cy="134.14" r="0.95" fill="#2a30c8" />
<circle cx="305.88" cy="128.58" r="0.95" fill="#2a30c8" />
<circle cx="308.18" cy="124.41" r="0.95" fill="#2a30c8" />
<circle cx="310.47" cy="120.24" r="0.95" fill="#2a30c8" />
<circle cx="315.05" cy="113.43" r="0.95" fill="#2a30c8" />
<circle cx="328.80" cy="107.38" r="0.95" fill="#2a30c8" />
<circle cx="342.56" cy="104.95" r="0.95" fill="#2a30c8" />
<circle cx="356.31" cy="102.17" r="0.95" fill="#2a30c8" />
<circle cx="370.06" cy="101.06" r="0.95" fill="#2a30c8" />
<circle cx="383.81" cy="100.08" r="0.95" fill="#2a30c8" />
<circle cx="303.59" cy="138.31" r="0.9" fill="#5a1a10" />
<path d="M302.6 139.9 l1 -1.8 l1 1.8 z" fill="#111"/>
<circle cx="305.88" cy="137.61" r="0.9" fill="#5a1a10" />
<path d="M304.9 139.2 l1 -1.8 l1 1.8 z" fill="#111"/>
<circle cx="308.18" cy="136.92" r="0.9" fill="#5a1a10" />
<path d="M307.2 138.6 l1 -1.8 l1 1.8 z" fill="#111"/>
<circle cx="310.47" cy="136.22" r="0.9" fill="#5a1a10" />
<path d="M309.5 137.9 l1 -1.8 l1 1.8 z" fill="#111"/>
<circle cx="315.05" cy="135.53" r="0.9" fill="#5a1a10" />
<path d="M314.1 137.2 l1 -1.8 l1 1.8 z" fill="#111"/>
<circle cx="328.80" cy="134.14" r="0.9" fill="#5a1a10" />
<path d="M327.8 135.8 l1 -1.8 l1 1.8 z" fill="#111"/>
<circle cx="342.56" cy="133.44" r="0.9" fill="#5a1a10" />
<path d="M341.6 135.1 l1 -1.8 l1 1.8 z" fill="#111"/>
<circle cx="356.31" cy="133.10" r="0.9" fill="#5a1a10" />
<path d="M355.3 134.7 l1 -1.8 l1 1.8 z" fill="#111"/>
<circle cx="370.06" cy="132.75" r="0.9" fill="#5a1a10" />
<path d="M369.1 134.4 l1 -1.8 l1 1.8 z" fill="#111"/>
<circle cx="383.81" cy="132.40" r="0.9" fill="#5a1a10" />
<path d="M382.8 134.0 l1 -1.8 l1 1.8 z" fill="#111"/>
<text font-size="8.3" fill="#222" textLength="60.4" lengthAdjust="spacingAndGlyphs" transform="translate(289.9,137.7) rotate(-90)" stroke="#222" stroke-width="0.12">DOX Release (%)</text>
<text font-size="9" fill="#222" textLength="31.5" lengthAdjust="spacingAndGlyphs" x="331.5" y="152.7" stroke="#222" stroke-width="0.2">Time (hr)</text>
<text font-size="8.5" fill="#1a1a1a" textLength="61.5" lengthAdjust="spacingAndGlyphs" x="444.3" y="13" stroke="#222" stroke-width="0.15">MCF-7/ADR Cells</text>
<rect x="409.00" y="18.00" width="136.00" height="135.30" fill="#000" />
<line x1="454.80" y1="18.00" x2="454.80" y2="153.30" stroke="#d8d8d8" stroke-width="0.8" />
<line x1="500.50" y1="18.00" x2="500.50" y2="153.30" stroke="#d8d8d8" stroke-width="0.8" />
<line x1="409.00" y1="63.70" x2="545.00" y2="63.70" stroke="#d8d8d8" stroke-width="0.8" />
<line x1="409.00" y1="110.40" x2="545.00" y2="110.40" stroke="#d8d8d8" stroke-width="0.8" />
<text font-size="8.6" fill="#eee" textLength="17.2" lengthAdjust="spacingAndGlyphs" x="419.7" y="26.4" stroke="#eee" stroke-width="0.2">DAPI</text>
<text font-size="8.6" fill="#eee" textLength="15.6" lengthAdjust="spacingAndGlyphs" x="469.6" y="26.4" stroke="#eee" stroke-width="0.2">DOX</text>
<text font-size="8.6" fill="#eee" textLength="23.6" lengthAdjust="spacingAndGlyphs" x="510.6" y="26.6" stroke="#eee" stroke-width="0.2">Merge</text>
<text font-size="7.4" fill="#222" text-anchor="middle" textLength="14.7" lengthAdjust="spacingAndGlyphs" transform="translate(406.3,42.5) rotate(-90)" >DOX</text>
<text font-size="7.4" fill="#222" text-anchor="middle" textLength="12.2" lengthAdjust="spacingAndGlyphs" transform="translate(406.3,86.3) rotate(-90)" >DLL</text>
<text font-size="7.4" fill="#222" text-anchor="middle" textLength="27.3" lengthAdjust="spacingAndGlyphs" transform="translate(406.3,133.8) rotate(-90)" >DOX-CL</text>
<circle cx="436.3" cy="29.5" r="2.2" fill="#1e1eb8" filter="url(#b4)"/>
<circle cx="529.3" cy="29.5" r="2.2" fill="#261eb8" filter="url(#b4)"/>
<circle cx="427.0" cy="40.0" r="2.2" fill="#1e1eb8" filter="url(#b4)"/>
<circle cx="520.0" cy="40.0" r="2.2" fill="#261eb8" filter="url(#b4)"/>
<circle cx="438.0" cy="41.0" r="2.2" fill="#1e1eb8" filter="url(#b4)"/>
<circle cx="531.0" cy="41.0" r="2.2" fill="#261eb8" filter="url(#b4)"/>
<circle cx="446.0" cy="40.0" r="2.2" fill="#1e1eb8" filter="url(#b4)"/>
<circle cx="539.0" cy="40.0" r="2.2" fill="#261eb8" filter="url(#b4)"/>
<circle cx="419.6" cy="53.7" r="2.2" fill="#1e1eb8" filter="url(#b4)"/>
<circle cx="512.6" cy="53.7" r="2.2" fill="#261eb8" filter="url(#b4)"/>
<circle cx="424.0" cy="58.0" r="2.2" fill="#1e1eb8" filter="url(#b4)"/>
<circle cx="517.0" cy="58.0" r="2.2" fill="#261eb8" filter="url(#b4)"/>
<circle cx="486.0" cy="40.0" r="1.6" fill="#1c0c04" filter="url(#b1)"/>
<circle cx="489.5" cy="38.5" r="1.6" fill="#1c0c04" filter="url(#b1)"/>
<circle cx="465.0" cy="50.0" r="1.6" fill="#1c0c04" filter="url(#b1)"/>
<circle cx="470.0" cy="52.0" r="1.6" fill="#1c0c04" filter="url(#b1)"/>
<circle cx="418.5" cy="88.0" r="2.1" fill="#1c1cac" filter="url(#b4)"/>
<circle cx="429.5" cy="92.0" r="2.1" fill="#1c1cac" filter="url(#b4)"/>
<circle cx="432.5" cy="94.3" r="2.1" fill="#1c1cac" filter="url(#b4)"/>
<circle cx="440.4" cy="85.4" r="2.1" fill="#1c1cac" filter="url(#b4)"/>
<circle cx="445.0" cy="83.7" r="2.1" fill="#1c1cac" filter="url(#b4)"/>
<rect x="457.30" y="80.50" width="14.20" height="15.00" fill="#2a0706" />
<rect x="471.50" y="87.30" width="9.80" height="9.00" fill="#2a0706" />
<rect x="480.40" y="80.50" width="15.00" height="7.50" fill="#2a0706" />
<circle cx="463.3" cy="88.0" r="1.7" fill="#8e5c1c" filter="url(#b4)"/>
<circle cx="474.2" cy="90.8" r="1.7" fill="#8e5c1c" filter="url(#b4)"/>
<circle cx="477.7" cy="93.5" r="1.7" fill="#8e5c1c" filter="url(#b4)"/>
<circle cx="486.0" cy="85.4" r="1.7" fill="#8e5c1c" filter="url(#b4)"/>
<circle cx="490.8" cy="84.0" r="1.7" fill="#8e5c1c" filter="url(#b4)"/>
<rect x="504.00" y="80.00" width="8.50" height="9.00" fill="#16040c" />
<rect x="516.00" y="83.00" width="12.00" height="7.00" fill="#16040c" />
<rect x="529.00" y="90.00" width="13.00" height="8.00" fill="#16040c" />
<circle cx="507.7" cy="84.0" r="2.4" fill="#8030c0" filter="url(#b4)"/>
<circle cx="520.0" cy="86.5" r="2.4" fill="#6228b8" filter="url(#b4)"/>
<circle cx="525.4" cy="85.4" r="2.4" fill="#6228b8" filter="url(#b4)"/>
<circle cx="533.6" cy="94.0" r="2.4" fill="#5224b8" filter="url(#b4)"/>
<circle cx="538.5" cy="94.0" r="2.4" fill="#5224b8" filter="url(#b4)"/>
<circle cx="438.2" cy="124.0" r="2.8" fill="#2222d0" filter="url(#b4)"/>
<circle cx="438.2" cy="130.4" r="2.8" fill="#2222d0" filter="url(#b4)"/>
<circle cx="419.6" cy="134.4" r="2.8" fill="#2222d0" filter="url(#b4)"/>
<circle cx="417.7" cy="139.6" r="2.8" fill="#2222d0" filter="url(#b4)"/>
<rect x="479.60" y="120.00" width="9.80" height="15.50" fill="#3a0a08" />
<rect x="457.30" y="128.00" width="14.20" height="15.00" fill="#3a0a08" />
<circle cx="484.5" cy="124.0" r="2.2" fill="#b07428" filter="url(#b4)"/>
<circle cx="484.5" cy="130.7" r="2.2" fill="#b07428" filter="url(#b4)"/>
<circle cx="465.0" cy="133.6" r="2.2" fill="#b07428" filter="url(#b4)"/>
<circle cx="462.7" cy="139.6" r="2.2" fill="#b07428" filter="url(#b4)"/>
<rect x="526.00" y="119.50" width="10.00" height="15.50" fill="#2a0612" />
<rect x="503.00" y="128.50" width="13.00" height="15.00" fill="#2a0612" />
<circle cx="531.0" cy="124.0" r="2.7" fill="#a048c8" filter="url(#b4)"/>
<circle cx="531.0" cy="130.7" r="2.7" fill="#a048c8" filter="url(#b4)"/>
<circle cx="510.4" cy="133.6" r="2.7" fill="#a048c8" filter="url(#b4)"/>
<circle cx="508.5" cy="139.6" r="2.7" fill="#a048c8" filter="url(#b4)"/>
<rect x="533.00" y="148.40" width="6.80" height="1.70" fill="#fff" />
<text font-size="11.6" fill="#000" font-weight="bold" textLength="10.8" lengthAdjust="spacingAndGlyphs" x="10.6" y="171.8" >C)</text>
<text font-size="10" fill="#333" x="24.9" y="169.2" >i.</text>
<text font-size="7.8" fill="#222" textLength="20" lengthAdjust="spacingAndGlyphs" x="35.1" y="171" >Lipids</text>
<text font-size="7.8" fill="#222" textLength="21" lengthAdjust="spacingAndGlyphs" x="74.6" y="171" >pDNA</text>
<circle cx="57.00" cy="233.20" r="40.5" fill="#efe9ec" />
<circle cx="57.00" cy="233.20" r="23" fill="#fff" />
<circle cx="57.00" cy="233.20" r="21" fill="#efe9ec" />
<circle cx="57.00" cy="233.20" r="14.5" fill="#fff" />
<line x1="96.00" y1="233.20" x2="89.00" y2="233.20" stroke="#b4aeb2" stroke-width="0.5" />
<line x1="79.50" y1="233.20" x2="87.50" y2="233.20" stroke="#b4aeb2" stroke-width="0.5" />
<line x1="95.79" y1="237.28" x2="88.82" y2="236.54" stroke="#b4aeb2" stroke-width="0.5" />
<line x1="79.38" y1="235.55" x2="87.33" y2="236.39" stroke="#b4aeb2" stroke-width="0.5" />
<line x1="95.15" y1="241.31" x2="88.30" y2="239.85" stroke="#b4aeb2" stroke-width="0.5" />
<line x1="79.01" y1="237.88" x2="86.83" y2="239.54" stroke="#b4aeb2" stroke-width="0.5" />
<line x1="94.09" y1="245.25" x2="87.43" y2="243.09" stroke="#b4aeb2" stroke-width="0.5" />
<line x1="78.40" y1="240.15" x2="86.01" y2="242.63" stroke="#b4aeb2" stroke-width="0.5" />
<line x1="92.63" y1="249.06" x2="86.23" y2="246.22" stroke="#b4aeb2" stroke-width="0.5" />
<line x1="77.55" y1="242.35" x2="84.86" y2="245.61" stroke="#b4aeb2" stroke-width="0.5" />
<line x1="90.77" y1="252.70" x2="84.71" y2="249.20" stroke="#b4aeb2" stroke-width="0.5" />
<line x1="76.49" y1="244.45" x2="83.41" y2="248.45" stroke="#b4aeb2" stroke-width="0.5" />
<line x1="88.55" y1="256.12" x2="82.89" y2="252.01" stroke="#b4aeb2" stroke-width="0.5" />
<line x1="75.20" y1="246.43" x2="81.68" y2="251.13" stroke="#b4aeb2" stroke-width="0.5" />
<line x1="85.98" y1="259.30" x2="80.78" y2="254.61" stroke="#b4aeb2" stroke-width="0.5" />
<line x1="73.72" y1="248.26" x2="79.67" y2="253.61" stroke="#b4aeb2" stroke-width="0.5" />
<line x1="83.10" y1="262.18" x2="78.41" y2="256.98" stroke="#b4aeb2" stroke-width="0.5" />
<line x1="72.06" y1="249.92" x2="77.41" y2="255.87" stroke="#b4aeb2" stroke-width="0.5" />
<line x1="79.92" y1="264.75" x2="75.81" y2="259.09" stroke="#b4aeb2" stroke-width="0.5" />
<line x1="70.23" y1="251.40" x2="74.93" y2="257.88" stroke="#b4aeb2" stroke-width="0.5" />
<line x1="76.50" y1="266.97" x2="73.00" y2="260.91" stroke="#b4aeb2" stroke-width="0.5" />
<line x1="68.25" y1="252.69" x2="72.25" y2="259.61" stroke="#b4aeb2" stroke-width="0.5" />
<line x1="72.86" y1="268.83" x2="70.02" y2="262.43" stroke="#b4aeb2" stroke-width="0.5" />
<line x1="66.15" y1="253.75" x2="69.41" y2="261.06" stroke="#b4aeb2" stroke-width="0.5" />
<line x1="69.05" y1="270.29" x2="66.89" y2="263.63" stroke="#b4aeb2" stroke-width="0.5" />
<line x1="63.95" y1="254.60" x2="66.43" y2="262.21" stroke="#b4aeb2" stroke-width="0.5" />
<line x1="65.11" y1="271.35" x2="63.65" y2="264.50" stroke="#b4aeb2" stroke-width="0.5" />
<line x1="61.68" y1="255.21" x2="63.34" y2="263.03" stroke="#b4aeb2" stroke-width="0.5" />
<line x1="61.08" y1="271.99" x2="60.34" y2="265.02" stroke="#b4aeb2" stroke-width="0.5" />
<line x1="59.35" y1="255.58" x2="60.19" y2="263.53" stroke="#b4aeb2" stroke-width="0.5" />
<line x1="57.00" y1="272.20" x2="57.00" y2="265.20" stroke="#b4aeb2" stroke-width="0.5" />
<line x1="57.00" y1="255.70" x2="57.00" y2="263.70" stroke="#b4aeb2" stroke-width="0.5" />
<line x1="52.92" y1="271.99" x2="53.66" y2="265.02" stroke="#b4aeb2" stroke-width="0.5" />
<line x1="54.65" y1="255.58" x2="53.81" y2="263.53" stroke="#b4aeb2" stroke-width="0.5" />
<line x1="48.89" y1="271.35" x2="50.35" y2="264.50" stroke="#b4aeb2" stroke-width="0.5" />
<line x1="52.32" y1="255.21" x2="50.66" y2="263.03" stroke="#b4aeb2" stroke-width="0.5" />
<line x1="44.95" y1="270.29" x2="47.11" y2="263.63" stroke="#b4aeb2" stroke-width="0.5" />
<line x1="50.05" y1="254.60" x2="47.57" y2="262.21" stroke="#b4aeb2" stroke-width="0.5" />
<line x1="41.14" y1="268.83" x2="43.98" y2="262.43" stroke="#b4aeb2" stroke-width="0.5" />
<line x1="47.85" y1="253.75" x2="44.59" y2="261.06" stroke="#b4aeb2" stroke-width="0.5" />
<line x1="37.50" y1="266.97" x2="41.00" y2="260.91" stroke="#b4aeb2" stroke-width="0.5" />
<line x1="45.75" y1="252.69" x2="41.75" y2="259.61" stroke="#b4aeb2" stroke-width="0.5" />
<line x1="34.08" y1="264.75" x2="38.19" y2="259.09" stroke="#b4aeb2" stroke-width="0.5" />
<line x1="43.77" y1="251.40" x2="39.07" y2="257.88" stroke="#b4aeb2" stroke-width="0.5" />
<line x1="30.90" y1="262.18" x2="35.59" y2="256.98" stroke="#b4aeb2" stroke-width="0.5" />
<line x1="41.94" y1="249.92" x2="36.59" y2="255.87" stroke="#b4aeb2" stroke-width="0.5" />
<line x1="28.02" y1="259.30" x2="33.22" y2="254.61" stroke="#b4aeb2" stroke-width="0.5" />
<line x1="40.28" y1="248.26" x2="34.33" y2="253.61" stroke="#b4aeb2" stroke-width="0.5" />
<line x1="25.45" y1="256.12" x2="31.11" y2="252.01" stroke="#b4aeb2" stroke-width="0.5" />
<line x1="38.80" y1="246.43" x2="32.32" y2="251.13" stroke="#b4aeb2" stroke-width="0.5" />
<line x1="23.23" y1="252.70" x2="29.29" y2="249.20" stroke="#b4aeb2" stroke-width="0.5" />
<line x1="37.51" y1="244.45" x2="30.59" y2="248.45" stroke="#b4aeb2" stroke-width="0.5" />
<line x1="21.37" y1="249.06" x2="27.77" y2="246.22" stroke="#b4aeb2" stroke-width="0.5" />
<line x1="36.45" y1="242.35" x2="29.14" y2="245.61" stroke="#b4aeb2" stroke-width="0.5" />
<line x1="19.91" y1="245.25" x2="26.57" y2="243.09" stroke="#b4aeb2" stroke-width="0.5" />
<line x1="35.60" y1="240.15" x2="27.99" y2="242.63" stroke="#b4aeb2" stroke-width="0.5" />
<line x1="18.85" y1="241.31" x2="25.70" y2="239.85" stroke="#b4aeb2" stroke-width="0.5" />
<line x1="34.99" y1="237.88" x2="27.17" y2="239.54" stroke="#b4aeb2" stroke-width="0.5" />
<line x1="18.21" y1="237.28" x2="25.18" y2="236.54" stroke="#b4aeb2" stroke-width="0.5" />
<line x1="34.62" y1="235.55" x2="26.67" y2="236.39" stroke="#b4aeb2" stroke-width="0.5" />
<line x1="18.00" y1="233.20" x2="25.00" y2="233.20" stroke="#b4aeb2" stroke-width="0.5" />
<line x1="34.50" y1="233.20" x2="26.50" y2="233.20" stroke="#b4aeb2" stroke-width="0.5" />
<line x1="18.21" y1="229.12" x2="25.18" y2="229.86" stroke="#b4aeb2" stroke-width="0.5" />
<line x1="34.62" y1="230.85" x2="26.67" y2="230.01" stroke="#b4aeb2" stroke-width="0.5" />
<line x1="18.85" y1="225.09" x2="25.70" y2="226.55" stroke="#b4aeb2" stroke-width="0.5" />
<line x1="34.99" y1="228.52" x2="27.17" y2="226.86" stroke="#b4aeb2" stroke-width="0.5" />
<line x1="19.91" y1="221.15" x2="26.57" y2="223.31" stroke="#b4aeb2" stroke-width="0.5" />
<line x1="35.60" y1="226.25" x2="27.99" y2="223.77" stroke="#b4aeb2" stroke-width="0.5" />
<line x1="21.37" y1="217.34" x2="27.77" y2="220.18" stroke="#b4aeb2" stroke-width="0.5" />
<line x1="36.45" y1="224.05" x2="29.14" y2="220.79" stroke="#b4aeb2" stroke-width="0.5" />
<line x1="23.23" y1="213.70" x2="29.29" y2="217.20" stroke="#b4aeb2" stroke-width="0.5" />
<line x1="37.51" y1="221.95" x2="30.59" y2="217.95" stroke="#b4aeb2" stroke-width="0.5" />
<line x1="25.45" y1="210.28" x2="31.11" y2="214.39" stroke="#b4aeb2" stroke-width="0.5" />
<line x1="38.80" y1="219.97" x2="32.32" y2="215.27" stroke="#b4aeb2" stroke-width="0.5" />
<line x1="28.02" y1="207.10" x2="33.22" y2="211.79" stroke="#b4aeb2" stroke-width="0.5" />
<line x1="40.28" y1="218.14" x2="34.33" y2="212.79" stroke="#b4aeb2" stroke-width="0.5" />
<line x1="30.90" y1="204.22" x2="35.59" y2="209.42" stroke="#b4aeb2" stroke-width="0.5" />
<line x1="41.94" y1="216.48" x2="36.59" y2="210.53" stroke="#b4aeb2" stroke-width="0.5" />
<line x1="34.08" y1="201.65" x2="38.19" y2="207.31" stroke="#b4aeb2" stroke-width="0.5" />
<line x1="43.77" y1="215.00" x2="39.07" y2="208.52" stroke="#b4aeb2" stroke-width="0.5" />
<line x1="37.50" y1="199.43" x2="41.00" y2="205.49" stroke="#b4aeb2" stroke-width="0.5" />
<line x1="45.75" y1="213.71" x2="41.75" y2="206.79" stroke="#b4aeb2" stroke-width="0.5" />
<line x1="41.14" y1="197.57" x2="43.98" y2="203.97" stroke="#b4aeb2" stroke-width="0.5" />
<line x1="47.85" y1="212.65" x2="44.59" y2="205.34" stroke="#b4aeb2" stroke-width="0.5" />
<line x1="44.95" y1="196.11" x2="47.11" y2="202.77" stroke="#b4aeb2" stroke-width="0.5" />
<line x1="50.05" y1="211.80" x2="47.57" y2="204.19" stroke="#b4aeb2" stroke-width="0.5" />
<line x1="48.89" y1="195.05" x2="50.35" y2="201.90" stroke="#b4aeb2" stroke-width="0.5" />
<line x1="52.32" y1="211.19" x2="50.66" y2="203.37" stroke="#b4aeb2" stroke-width="0.5" />
<line x1="52.92" y1="194.41" x2="53.66" y2="201.38" stroke="#b4aeb2" stroke-width="0.5" />
<line x1="54.65" y1="210.82" x2="53.81" y2="202.87" stroke="#b4aeb2" stroke-width="0.5" />
<line x1="57.00" y1="194.20" x2="57.00" y2="201.20" stroke="#b4aeb2" stroke-width="0.5" />
<line x1="57.00" y1="210.70" x2="57.00" y2="202.70" stroke="#b4aeb2" stroke-width="0.5" />
<line x1="61.08" y1="194.41" x2="60.34" y2="201.38" stroke="#b4aeb2" stroke-width="0.5" />
<line x1="59.35" y1="210.82" x2="60.19" y2="202.87" stroke="#b4aeb2" stroke-width="0.5" />
<line x1="65.11" y1="195.05" x2="63.65" y2="201.90" stroke="#b4aeb2" stroke-width="0.5" />
<line x1="61.68" y1="211.19" x2="63.34" y2="203.37" stroke="#b4aeb2" stroke-width="0.5" />
<line x1="69.05" y1="196.11" x2="66.89" y2="202.77" stroke="#b4aeb2" stroke-width="0.5" />
<line x1="63.95" y1="211.80" x2="66.43" y2="204.19" stroke="#b4aeb2" stroke-width="0.5" />
<line x1="72.86" y1="197.57" x2="70.02" y2="203.97" stroke="#b4aeb2" stroke-width="0.5" />
<line x1="66.15" y1="212.65" x2="69.41" y2="205.34" stroke="#b4aeb2" stroke-width="0.5" />
<line x1="76.50" y1="199.43" x2="73.00" y2="205.49" stroke="#b4aeb2" stroke-width="0.5" />
<line x1="68.25" y1="213.71" x2="72.25" y2="206.79" stroke="#b4aeb2" stroke-width="0.5" />
<line x1="79.92" y1="201.65" x2="75.81" y2="207.31" stroke="#b4aeb2" stroke-width="0.5" />
<line x1="70.23" y1="215.00" x2="74.93" y2="208.52" stroke="#b4aeb2" stroke-width="0.5" />
<line x1="83.10" y1="204.22" x2="78.41" y2="209.42" stroke="#b4aeb2" stroke-width="0.5" />
<line x1="72.06" y1="216.48" x2="77.41" y2="210.53" stroke="#b4aeb2" stroke-width="0.5" />
<line x1="85.98" y1="207.10" x2="80.78" y2="211.79" stroke="#b4aeb2" stroke-width="0.5" />
<line x1="73.72" y1="218.14" x2="79.67" y2="212.79" stroke="#b4aeb2" stroke-width="0.5" />
<line x1="88.55" y1="210.28" x2="82.89" y2="214.39" stroke="#b4aeb2" stroke-width="0.5" />
<line x1="75.20" y1="219.97" x2="81.68" y2="215.27" stroke="#b4aeb2" stroke-width="0.5" />
<line x1="90.77" y1="213.70" x2="84.71" y2="217.20" stroke="#b4aeb2" stroke-width="0.5" />
<line x1="76.49" y1="221.95" x2="83.41" y2="217.95" stroke="#b4aeb2" stroke-width="0.5" />
<line x1="92.63" y1="217.34" x2="86.23" y2="220.18" stroke="#b4aeb2" stroke-width="0.5" />
<line x1="77.55" y1="224.05" x2="84.86" y2="220.79" stroke="#b4aeb2" stroke-width="0.5" />
<line x1="94.09" y1="221.15" x2="87.43" y2="223.31" stroke="#b4aeb2" stroke-width="0.5" />
<line x1="78.40" y1="226.25" x2="86.01" y2="223.77" stroke="#b4aeb2" stroke-width="0.5" />
<line x1="95.15" y1="225.09" x2="88.30" y2="226.55" stroke="#b4aeb2" stroke-width="0.5" />
<line x1="79.01" y1="228.52" x2="86.83" y2="226.86" stroke="#b4aeb2" stroke-width="0.5" />
<line x1="95.79" y1="229.12" x2="88.82" y2="229.86" stroke="#b4aeb2" stroke-width="0.5" />
<line x1="79.38" y1="230.85" x2="87.33" y2="230.01" stroke="#b4aeb2" stroke-width="0.5" />
<circle cx="57.00" cy="186.70" r="4.2" fill="#f9d6e4" opacity="0.75" filter="url(#b1)"/>
<circle cx="57.0" cy="186.7" r="2.3" fill="#fbeaf1" stroke="#c0708f" stroke-width="0.7"/>
<circle cx="56.5" cy="186.4" r="0.8" fill="none" stroke="#c97a9a" stroke-width="0.4"/>
<line x1="55.62" y1="193.72" x2="55.93" y2="202.72" stroke="#f0a0c0" stroke-width="0.6" />
<line x1="58.38" y1="193.72" x2="58.07" y2="202.72" stroke="#f0a0c0" stroke-width="0.6" />
<circle cx="84.33" cy="195.58" r="4.2" fill="#f9d6e4" opacity="0.75" filter="url(#b1)"/>
<circle cx="84.3" cy="195.6" r="2.3" fill="#fbeaf1" stroke="#c0708f" stroke-width="0.7"/>
<circle cx="83.8" cy="195.3" r="0.8" fill="none" stroke="#c97a9a" stroke-width="0.4"/>
<line x1="79.09" y1="200.45" x2="74.05" y2="207.91" stroke="#f0a0c0" stroke-width="0.6" />
<line x1="81.32" y1="202.08" x2="75.78" y2="209.17" stroke="#f0a0c0" stroke-width="0.6" />
<circle cx="101.22" cy="218.83" r="4.2" fill="#f9d6e4" opacity="0.75" filter="url(#b1)"/>
<circle cx="101.2" cy="218.8" r="2.3" fill="#fbeaf1" stroke="#c0708f" stroke-width="0.7"/>
<circle cx="100.7" cy="218.5" r="0.8" fill="none" stroke="#c97a9a" stroke-width="0.4"/>
<line x1="94.12" y1="219.69" x2="85.66" y2="222.77" stroke="#f0a0c0" stroke-width="0.6" />
<line x1="94.97" y1="222.32" x2="86.32" y2="224.80" stroke="#f0a0c0" stroke-width="0.6" />
<circle cx="101.22" cy="247.57" r="4.2" fill="#f9d6e4" opacity="0.75" filter="url(#b1)"/>
<circle cx="101.2" cy="247.6" r="2.3" fill="#fbeaf1" stroke="#c0708f" stroke-width="0.7"/>
<circle cx="100.7" cy="247.3" r="0.8" fill="none" stroke="#c97a9a" stroke-width="0.4"/>
<line x1="94.97" y1="244.08" x2="86.32" y2="241.60" stroke="#f0a0c0" stroke-width="0.6" />
<line x1="94.12" y1="246.71" x2="85.66" y2="243.63" stroke="#f0a0c0" stroke-width="0.6" />
<circle cx="84.33" cy="270.82" r="4.2" fill="#f9d6e4" opacity="0.75" filter="url(#b1)"/>
<circle cx="84.3" cy="270.8" r="2.3" fill="#fbeaf1" stroke="#c0708f" stroke-width="0.7"/>
<circle cx="83.8" cy="270.5" r="0.8" fill="none" stroke="#c97a9a" stroke-width="0.4"/>
<line x1="81.32" y1="264.32" x2="75.78" y2="257.23" stroke="#f0a0c0" stroke-width="0.6" />
<line x1="79.09" y1="265.95" x2="74.05" y2="258.49" stroke="#f0a0c0" stroke-width="0.6" />
<circle cx="57.00" cy="279.70" r="4.2" fill="#f9d6e4" opacity="0.75" filter="url(#b1)"/>
<circle cx="57.0" cy="279.7" r="2.3" fill="#fbeaf1" stroke="#c0708f" stroke-width="0.7"/>
<circle cx="56.5" cy="279.4" r="0.8" fill="none" stroke="#c97a9a" stroke-width="0.4"/>
<line x1="58.38" y1="272.68" x2="58.07" y2="263.68" stroke="#f0a0c0" stroke-width="0.6" />
<line x1="55.62" y1="272.68" x2="55.93" y2="263.68" stroke="#f0a0c0" stroke-width="0.6" />
<circle cx="29.67" cy="270.82" r="4.2" fill="#f9d6e4" opacity="0.75" filter="url(#b1)"/>
<circle cx="29.7" cy="270.8" r="2.3" fill="#fbeaf1" stroke="#c0708f" stroke-width="0.7"/>
<circle cx="29.2" cy="270.5" r="0.8" fill="none" stroke="#c97a9a" stroke-width="0.4"/>
<line x1="34.91" y1="265.95" x2="39.95" y2="258.49" stroke="#f0a0c0" stroke-width="0.6" />
<line x1="32.68" y1="264.32" x2="38.22" y2="257.23" stroke="#f0a0c0" stroke-width="0.6" />
<circle cx="12.78" cy="247.57" r="4.2" fill="#f9d6e4" opacity="0.75" filter="url(#b1)"/>
<circle cx="12.8" cy="247.6" r="2.3" fill="#fbeaf1" stroke="#c0708f" stroke-width="0.7"/>
<circle cx="12.3" cy="247.3" r="0.8" fill="none" stroke="#c97a9a" stroke-width="0.4"/>
<line x1="19.88" y1="246.71" x2="28.34" y2="243.63" stroke="#f0a0c0" stroke-width="0.6" />
<line x1="19.03" y1="244.08" x2="27.68" y2="241.60" stroke="#f0a0c0" stroke-width="0.6" />
<circle cx="12.78" cy="218.83" r="4.2" fill="#f9d6e4" opacity="0.75" filter="url(#b1)"/>
<circle cx="12.8" cy="218.8" r="2.3" fill="#fbeaf1" stroke="#c0708f" stroke-width="0.7"/>
<circle cx="12.3" cy="218.5" r="0.8" fill="none" stroke="#c97a9a" stroke-width="0.4"/>
<line x1="19.03" y1="222.32" x2="27.68" y2="224.80" stroke="#f0a0c0" stroke-width="0.6" />
<line x1="19.88" y1="219.69" x2="28.34" y2="222.77" stroke="#f0a0c0" stroke-width="0.6" />
<circle cx="29.67" cy="195.58" r="4.2" fill="#f9d6e4" opacity="0.75" filter="url(#b1)"/>
<circle cx="29.7" cy="195.6" r="2.3" fill="#fbeaf1" stroke="#c0708f" stroke-width="0.7"/>
<circle cx="29.2" cy="195.3" r="0.8" fill="none" stroke="#c97a9a" stroke-width="0.4"/>
<line x1="32.68" y1="202.08" x2="38.22" y2="209.17" stroke="#f0a0c0" stroke-width="0.6" />
<line x1="34.91" y1="200.45" x2="39.95" y2="207.91" stroke="#f0a0c0" stroke-width="0.6" />
<circle cx="97.50" cy="233.20" r="1.9" fill="#878787" />
<circle cx="97.35" cy="236.73" r="1.9" fill="#878787" />
<circle cx="96.88" cy="240.23" r="1.9" fill="#878787" />
<circle cx="96.12" cy="243.68" r="1.9" fill="#878787" />
<circle cx="95.06" cy="247.05" r="1.9" fill="#878787" />
<circle cx="93.71" cy="250.32" r="1.9" fill="#878787" />
<circle cx="92.07" cy="253.45" r="1.9" fill="#878787" />
<circle cx="90.18" cy="256.43" r="1.9" fill="#878787" />
<circle cx="88.02" cy="259.23" r="1.9" fill="#878787" />
<circle cx="85.64" cy="261.84" r="1.9" fill="#878787" />
<circle cx="83.03" cy="264.22" r="1.9" fill="#878787" />
<circle cx="80.23" cy="266.38" r="1.9" fill="#878787" />
<circle cx="77.25" cy="268.27" r="1.9" fill="#878787" />
<circle cx="74.12" cy="269.91" r="1.9" fill="#878787" />
<circle cx="70.85" cy="271.26" r="1.9" fill="#878787" />
<circle cx="67.48" cy="272.32" r="1.9" fill="#878787" />
<circle cx="64.03" cy="273.08" r="1.9" fill="#878787" />
<circle cx="60.53" cy="273.55" r="1.9" fill="#878787" />
<circle cx="57.00" cy="273.70" r="1.9" fill="#878787" />
<circle cx="53.47" cy="273.55" r="1.9" fill="#878787" />
<circle cx="49.97" cy="273.08" r="1.9" fill="#878787" />
<circle cx="46.52" cy="272.32" r="1.9" fill="#878787" />
<circle cx="43.15" cy="271.26" r="1.9" fill="#878787" />
<circle cx="39.88" cy="269.91" r="1.9" fill="#878787" />
<circle cx="36.75" cy="268.27" r="1.9" fill="#878787" />
<circle cx="33.77" cy="266.38" r="1.9" fill="#878787" />
<circle cx="30.97" cy="264.22" r="1.9" fill="#878787" />
<circle cx="28.36" cy="261.84" r="1.9" fill="#878787" />
<circle cx="25.98" cy="259.23" r="1.9" fill="#878787" />
<circle cx="23.82" cy="256.43" r="1.9" fill="#878787" />
<circle cx="21.93" cy="253.45" r="1.9" fill="#878787" />
<circle cx="20.29" cy="250.32" r="1.9" fill="#878787" />
<circle cx="18.94" cy="247.05" r="1.9" fill="#878787" />
<circle cx="17.88" cy="243.68" r="1.9" fill="#878787" />
<circle cx="17.12" cy="240.23" r="1.9" fill="#878787" />
<circle cx="16.65" cy="236.73" r="1.9" fill="#878787" />
<circle cx="16.50" cy="233.20" r="1.9" fill="#878787" />
<circle cx="16.65" cy="229.67" r="1.9" fill="#878787" />
<circle cx="17.12" cy="226.17" r="1.9" fill="#878787" />
<circle cx="17.88" cy="222.72" r="1.9" fill="#878787" />
<circle cx="18.94" cy="219.35" r="1.9" fill="#878787" />
<circle cx="20.29" cy="216.08" r="1.9" fill="#878787" />
<circle cx="21.93" cy="212.95" r="1.9" fill="#878787" />
<circle cx="23.82" cy="209.97" r="1.9" fill="#878787" />
<circle cx="25.98" cy="207.17" r="1.9" fill="#878787" />
<circle cx="28.36" cy="204.56" r="1.9" fill="#878787" />
<circle cx="30.97" cy="202.18" r="1.9" fill="#878787" />
<circle cx="33.77" cy="200.02" r="1.9" fill="#878787" />
<circle cx="36.75" cy="198.13" r="1.9" fill="#878787" />
<circle cx="39.88" cy="196.49" r="1.9" fill="#878787" />
<circle cx="43.15" cy="195.14" r="1.9" fill="#878787" />
<circle cx="46.52" cy="194.08" r="1.9" fill="#878787" />
<circle cx="49.97" cy="193.32" r="1.9" fill="#878787" />
<circle cx="53.47" cy="192.85" r="1.9" fill="#878787" />
<circle cx="57.00" cy="192.70" r="1.9" fill="#878787" />
<circle cx="60.53" cy="192.85" r="1.9" fill="#878787" />
<circle cx="64.03" cy="193.32" r="1.9" fill="#878787" />
<circle cx="67.48" cy="194.08" r="1.9" fill="#878787" />
<circle cx="70.85" cy="195.14" r="1.9" fill="#878787" />
<circle cx="74.12" cy="196.49" r="1.9" fill="#878787" />
<circle cx="77.25" cy="198.13" r="1.9" fill="#878787" />
<circle cx="80.23" cy="200.02" r="1.9" fill="#878787" />
<circle cx="83.03" cy="202.18" r="1.9" fill="#878787" />
<circle cx="85.64" cy="204.56" r="1.9" fill="#878787" />
<circle cx="88.02" cy="207.17" r="1.9" fill="#878787" />
<circle cx="90.18" cy="209.97" r="1.9" fill="#878787" />
<circle cx="92.07" cy="212.95" r="1.9" fill="#878787" />
<circle cx="93.71" cy="216.08" r="1.9" fill="#878787" />
<circle cx="95.06" cy="219.35" r="1.9" fill="#878787" />
<circle cx="96.12" cy="222.72" r="1.9" fill="#878787" />
<circle cx="96.88" cy="226.17" r="1.9" fill="#878787" />
<circle cx="97.35" cy="229.67" r="1.9" fill="#878787" />
<circle cx="57.00" cy="192.70" r="2.3" fill="#8a2a52" />
<circle cx="80.81" cy="200.43" r="2.3" fill="#8a2a52" />
<circle cx="95.52" cy="220.68" r="2.3" fill="#8a2a52" />
<circle cx="95.52" cy="245.72" r="2.3" fill="#8a2a52" />
<circle cx="80.81" cy="265.97" r="2.3" fill="#8a2a52" />
<circle cx="57.00" cy="273.70" r="2.3" fill="#8a2a52" />
<circle cx="33.19" cy="265.97" r="2.3" fill="#8a2a52" />
<circle cx="18.48" cy="245.72" r="2.3" fill="#8a2a52" />
<circle cx="18.48" cy="220.68" r="2.3" fill="#8a2a52" />
<circle cx="33.19" cy="200.43" r="2.3" fill="#8a2a52" />
<circle cx="78.00" cy="233.20" r="1.8" fill="#878787" />
<line x1="76.40" y1="233.20" x2="72.00" y2="233.20" stroke="#cfc8cc" stroke-width="0.4" />
<circle cx="77.71" cy="236.66" r="1.8" fill="#878787" />
<line x1="76.14" y1="236.39" x2="71.80" y2="235.67" stroke="#cfc8cc" stroke-width="0.4" />
<circle cx="76.86" cy="240.02" r="1.8" fill="#878787" />
<line x1="75.35" y1="239.50" x2="71.19" y2="238.07" stroke="#cfc8cc" stroke-width="0.4" />
<circle cx="75.47" cy="243.19" r="1.8" fill="#878787" />
<line x1="74.06" y1="242.43" x2="70.19" y2="240.34" stroke="#cfc8cc" stroke-width="0.4" />
<circle cx="73.57" cy="246.10" r="1.8" fill="#878787" />
<line x1="72.31" y1="245.12" x2="68.84" y2="242.41" stroke="#cfc8cc" stroke-width="0.4" />
<circle cx="71.22" cy="248.65" r="1.8" fill="#878787" />
<line x1="70.14" y1="247.47" x2="67.16" y2="244.24" stroke="#cfc8cc" stroke-width="0.4" />
<circle cx="68.49" cy="250.78" r="1.8" fill="#878787" />
<line x1="67.61" y1="249.44" x2="65.20" y2="245.76" stroke="#cfc8cc" stroke-width="0.4" />
<circle cx="65.44" cy="252.43" r="1.8" fill="#878787" />
<line x1="64.79" y1="250.97" x2="63.03" y2="246.94" stroke="#cfc8cc" stroke-width="0.4" />
<circle cx="62.16" cy="253.56" r="1.8" fill="#878787" />
<line x1="61.76" y1="252.01" x2="60.68" y2="247.74" stroke="#cfc8cc" stroke-width="0.4" />
<circle cx="58.73" cy="254.13" r="1.8" fill="#878787" />
<line x1="58.60" y1="252.53" x2="58.24" y2="248.15" stroke="#cfc8cc" stroke-width="0.4" />
<circle cx="55.27" cy="254.13" r="1.8" fill="#878787" />
<line x1="55.40" y1="252.53" x2="55.76" y2="248.15" stroke="#cfc8cc" stroke-width="0.4" />
<circle cx="51.84" cy="253.56" r="1.8" fill="#878787" />
<line x1="52.24" y1="252.01" x2="53.32" y2="247.74" stroke="#cfc8cc" stroke-width="0.4" />
<circle cx="48.56" cy="252.43" r="1.8" fill="#878787" />
<line x1="49.21" y1="250.97" x2="50.97" y2="246.94" stroke="#cfc8cc" stroke-width="0.4" />
<circle cx="45.51" cy="250.78" r="1.8" fill="#878787" />
<line x1="46.39" y1="249.44" x2="48.80" y2="245.76" stroke="#cfc8cc" stroke-width="0.4" />
<circle cx="42.78" cy="248.65" r="1.8" fill="#878787" />
<line x1="43.86" y1="247.47" x2="46.84" y2="244.24" stroke="#cfc8cc" stroke-width="0.4" />
<circle cx="40.43" cy="246.10" r="1.8" fill="#878787" />
<line x1="41.69" y1="245.12" x2="45.16" y2="242.41" stroke="#cfc8cc" stroke-width="0.4" />
<circle cx="38.53" cy="243.19" r="1.8" fill="#878787" />
<line x1="39.94" y1="242.43" x2="43.81" y2="240.34" stroke="#cfc8cc" stroke-width="0.4" />
<circle cx="37.14" cy="240.02" r="1.8" fill="#878787" />
<line x1="38.65" y1="239.50" x2="42.81" y2="238.07" stroke="#cfc8cc" stroke-width="0.4" />
<circle cx="36.29" cy="236.66" r="1.8" fill="#878787" />
<line x1="37.86" y1="236.39" x2="42.20" y2="235.67" stroke="#cfc8cc" stroke-width="0.4" />
<circle cx="36.00" cy="233.20" r="1.8" fill="#878787" />
<line x1="37.60" y1="233.20" x2="42.00" y2="233.20" stroke="#cfc8cc" stroke-width="0.4" />
<circle cx="36.29" cy="229.74" r="1.8" fill="#878787" />
<line x1="37.86" y1="230.01" x2="42.20" y2="230.73" stroke="#cfc8cc" stroke-width="0.4" />
<circle cx="37.14" cy="226.38" r="1.8" fill="#878787" />
<line x1="38.65" y1="226.90" x2="42.81" y2="228.33" stroke="#cfc8cc" stroke-width="0.4" />
<circle cx="38.53" cy="223.21" r="1.8" fill="#878787" />
<line x1="39.94" y1="223.97" x2="43.81" y2="226.06" stroke="#cfc8cc" stroke-width="0.4" />
<circle cx="40.43" cy="220.30" r="1.8" fill="#878787" />
<line x1="41.69" y1="221.28" x2="45.16" y2="223.99" stroke="#cfc8cc" stroke-width="0.4" />
<circle cx="42.78" cy="217.75" r="1.8" fill="#878787" />
<line x1="43.86" y1="218.93" x2="46.84" y2="222.16" stroke="#cfc8cc" stroke-width="0.4" />
<circle cx="45.51" cy="215.62" r="1.8" fill="#878787" />
<line x1="46.39" y1="216.96" x2="48.80" y2="220.64" stroke="#cfc8cc" stroke-width="0.4" />
<circle cx="48.56" cy="213.97" r="1.8" fill="#878787" />
<line x1="49.21" y1="215.43" x2="50.97" y2="219.46" stroke="#cfc8cc" stroke-width="0.4" />
<circle cx="51.84" cy="212.84" r="1.8" fill="#878787" />
<line x1="52.24" y1="214.39" x2="53.32" y2="218.66" stroke="#cfc8cc" stroke-width="0.4" />
<circle cx="55.27" cy="212.27" r="1.8" fill="#878787" />
<line x1="55.40" y1="213.87" x2="55.76" y2="218.25" stroke="#cfc8cc" stroke-width="0.4" />
<circle cx="58.73" cy="212.27" r="1.8" fill="#878787" />
<line x1="58.60" y1="213.87" x2="58.24" y2="218.25" stroke="#cfc8cc" stroke-width="0.4" />
<circle cx="62.16" cy="212.84" r="1.8" fill="#878787" />
<line x1="61.76" y1="214.39" x2="60.68" y2="218.66" stroke="#cfc8cc" stroke-width="0.4" />
<circle cx="65.44" cy="213.97" r="1.8" fill="#878787" />
<line x1="64.79" y1="215.43" x2="63.03" y2="219.46" stroke="#cfc8cc" stroke-width="0.4" />
<circle cx="68.49" cy="215.62" r="1.8" fill="#878787" />
<line x1="67.61" y1="216.96" x2="65.20" y2="220.64" stroke="#cfc8cc" stroke-width="0.4" />
<circle cx="71.22" cy="217.75" r="1.8" fill="#878787" />
<line x1="70.14" y1="218.93" x2="67.16" y2="222.16" stroke="#cfc8cc" stroke-width="0.4" />
<circle cx="73.57" cy="220.30" r="1.8" fill="#878787" />
<line x1="72.31" y1="221.28" x2="68.84" y2="223.99" stroke="#cfc8cc" stroke-width="0.4" />
<circle cx="75.47" cy="223.21" r="1.8" fill="#878787" />
<line x1="74.06" y1="223.97" x2="70.19" y2="226.06" stroke="#cfc8cc" stroke-width="0.4" />
<circle cx="76.86" cy="226.38" r="1.8" fill="#878787" />
<line x1="75.35" y1="226.90" x2="71.19" y2="228.33" stroke="#cfc8cc" stroke-width="0.4" />
<circle cx="77.71" cy="229.74" r="1.8" fill="#878787" />
<line x1="76.14" y1="230.01" x2="71.80" y2="230.73" stroke="#cfc8cc" stroke-width="0.4" />
<circle cx="55.95" cy="212.23" r="2.2" fill="#8a2a52" />
<circle cx="58.15" cy="216.84" r="2.6" fill="#f9d6e4" opacity="0.7"/>
<circle cx="58.1" cy="216.8" r="1.6" fill="#fbeaf1" stroke="#c97a9a" stroke-width="0.5"/>
<circle cx="72.74" cy="219.30" r="2.2" fill="#8a2a52" />
<circle cx="70.51" cy="223.90" r="2.6" fill="#f9d6e4" opacity="0.7"/>
<circle cx="70.5" cy="223.9" r="1.6" fill="#fbeaf1" stroke="#c97a9a" stroke-width="0.5"/>
<circle cx="77.68" cy="236.84" r="2.2" fill="#8a2a52" />
<circle cx="72.69" cy="237.96" r="2.6" fill="#f9d6e4" opacity="0.7"/>
<circle cx="72.7" cy="238.0" r="1.6" fill="#fbeaf1" stroke="#c97a9a" stroke-width="0.5"/>
<circle cx="67.05" cy="251.64" r="2.2" fill="#8a2a52" />
<circle cx="63.06" cy="248.44" r="2.6" fill="#f9d6e4" opacity="0.7"/>
<circle cx="63.1" cy="248.4" r="1.6" fill="#fbeaf1" stroke="#c97a9a" stroke-width="0.5"/>
<circle cx="48.85" cy="252.55" r="2.2" fill="#8a2a52" />
<circle cx="48.87" cy="247.44" r="2.6" fill="#f9d6e4" opacity="0.7"/>
<circle cx="48.9" cy="247.4" r="1.6" fill="#fbeaf1" stroke="#c97a9a" stroke-width="0.5"/>
<circle cx="36.79" cy="238.89" r="2.2" fill="#8a2a52" />
<circle cx="40.80" cy="235.72" r="2.6" fill="#f9d6e4" opacity="0.7"/>
<circle cx="40.8" cy="235.7" r="1.6" fill="#fbeaf1" stroke="#c97a9a" stroke-width="0.5"/>
<circle cx="39.95" cy="220.94" r="2.2" fill="#8a2a52" />
<circle cx="44.92" cy="222.10" r="2.6" fill="#f9d6e4" opacity="0.7"/>
<circle cx="44.9" cy="222.1" r="1.6" fill="#fbeaf1" stroke="#c97a9a" stroke-width="0.5"/>
<ellipse cx="67.6" cy="233.2" rx="3.2" ry="2.6" transform="rotate(90 67.6 233.2)" fill="#e4e4ff" stroke="#2626cc" stroke-width="1"/>
<path d="M66.0 231.6 L69.2 234.8 M69.2 231.6 L66.0 234.8" stroke="#2626cc" stroke-width="0.6"/>
<ellipse cx="66.2" cy="238.5" rx="3.2" ry="2.6" transform="rotate(120 66.2 238.5)" fill="#e4e4ff" stroke="#2626cc" stroke-width="1"/>
<path d="M64.6 236.9 L67.8 240.1 M67.8 236.9 L64.6 240.1" stroke="#2626cc" stroke-width="0.6"/>
<ellipse cx="62.3" cy="242.4" rx="3.2" ry="2.6" transform="rotate(150 62.3 242.4)" fill="#e4e4ff" stroke="#2626cc" stroke-width="1"/>
<path d="M60.7 240.8 L63.9 244.0 M63.9 240.8 L60.7 244.0" stroke="#2626cc" stroke-width="0.6"/>
<ellipse cx="57.0" cy="243.8" rx="3.2" ry="2.6" transform="rotate(180 57.0 243.8)" fill="#e4e4ff" stroke="#2626cc" stroke-width="1"/>
<path d="M55.4 242.2 L58.6 245.4 M58.6 242.2 L55.4 245.4" stroke="#2626cc" stroke-width="0.6"/>
<ellipse cx="51.7" cy="242.4" rx="3.2" ry="2.6" transform="rotate(210 51.7 242.4)" fill="#e4e4ff" stroke="#2626cc" stroke-width="1"/>
<path d="M50.1 240.8 L53.3 244.0 M53.3 240.8 L50.1 244.0" stroke="#2626cc" stroke-width="0.6"/>
<ellipse cx="47.8" cy="238.5" rx="3.2" ry="2.6" transform="rotate(240 47.8 238.5)" fill="#e4e4ff" stroke="#2626cc" stroke-width="1"/>
<path d="M46.2 236.9 L49.4 240.1 M49.4 236.9 L46.2 240.1" stroke="#2626cc" stroke-width="0.6"/>
<ellipse cx="46.4" cy="233.2" rx="3.2" ry="2.6" transform="rotate(270 46.4 233.2)" fill="#e4e4ff" stroke="#2626cc" stroke-width="1"/>
<path d="M44.8 231.6 L48.0 234.8 M48.0 231.6 L44.8 234.8" stroke="#2626cc" stroke-width="0.6"/>
<ellipse cx="47.8" cy="227.9" rx="3.2" ry="2.6" transform="rotate(300 47.8 227.9)" fill="#e4e4ff" stroke="#2626cc" stroke-width="1"/>
<path d="M46.2 226.3 L49.4 229.5 M49.4 226.3 L46.2 229.5" stroke="#2626cc" stroke-width="0.6"/>
<ellipse cx="51.7" cy="224.0" rx="3.2" ry="2.6" transform="rotate(330 51.7 224.0)" fill="#e4e4ff" stroke="#2626cc" stroke-width="1"/>
<path d="M50.1 222.4 L53.3 225.6 M53.3 222.4 L50.1 225.6" stroke="#2626cc" stroke-width="0.6"/>
<ellipse cx="57.0" cy="222.6" rx="3.2" ry="2.6" transform="rotate(360 57.0 222.6)" fill="#e4e4ff" stroke="#2626cc" stroke-width="1"/>
<path d="M55.4 221.0 L58.6 224.2 M58.6 221.0 L55.4 224.2" stroke="#2626cc" stroke-width="0.6"/>
<ellipse cx="62.3" cy="224.0" rx="3.2" ry="2.6" transform="rotate(390 62.3 224.0)" fill="#e4e4ff" stroke="#2626cc" stroke-width="1"/>
<path d="M60.7 222.4 L63.9 225.6 M63.9 222.4 L60.7 225.6" stroke="#2626cc" stroke-width="0.6"/>
<ellipse cx="66.2" cy="227.9" rx="3.2" ry="2.6" transform="rotate(420 66.2 227.9)" fill="#e4e4ff" stroke="#2626cc" stroke-width="1"/>
<path d="M64.6 226.3 L67.8 229.5 M67.8 226.3 L64.6 229.5" stroke="#2626cc" stroke-width="0.6"/>
<circle cx="57.00" cy="233.20" r="7" fill="#fff" />
<line x1="45.40" y1="176.40" x2="45.40" y2="186.50" stroke="#333" stroke-width="0.6" />
<path d="M43.9 185.5 L45.4 189.5 L46.9 185.5 Z" fill="#222"/>
<line x1="82.80" y1="173.50" x2="63.20" y2="213.50" stroke="#333" stroke-width="0.6" />
<path d="M61 213.6 L62 217.6 L64.4 214.6 Z" fill="#222"/>
<line x1="56.00" y1="287.50" x2="56.00" y2="296.30" stroke="#333" stroke-width="0.6" stroke-dasharray="1 0.6"/>
<path d="M54.6 289.4 L56 285.8 L57.4 289.4 Z" fill="#222"/>
<text font-size="8" fill="#222" textLength="52.7" lengthAdjust="spacingAndGlyphs" x="23.5" y="301" >Enzymatic PEG</text>
<text font-size="10" fill="#333" textLength="6.6" lengthAdjust="spacingAndGlyphs" x="116.3" y="170.6" >ii.</text>
<text font-size="7.6" fill="#222" text-anchor="middle" textLength="17" lengthAdjust="spacingAndGlyphs" transform="translate(134.2,181.3) rotate(-90)" stroke="#222" stroke-width="0.2">24 hr</text>
<rect x="138.50" y="158.00" width="137.00" height="44.50" fill="#030501" />
<g clip-path="url(#cC1)">
<rect x="137.50" y="158.00" width="47.00" height="45.00" fill="#10260a" />
<polygon points="148.6,175.1 142.2,176.6 138.0,172.7 137.2,167.6 141.7,164.2 147.7,164.7 151.0,169.6" fill="#5a6a14" opacity="0.8" filter="url(#b1)"/>
<polygon points="147.6,194.1 143.2,198.4 137.3,195.4 134.6,190.0 139.4,186.3 145.1,184.9 150.0,188.8" fill="#6a7a18" opacity="0.85" filter="url(#b1)"/>
<polygon points="143.7,190.8 143.9,192.7 142.2,194.2 139.6,193.4 139.8,191.0 141.7,189.9" fill="#98a828" opacity="0.85" filter="url(#b4)"/>
<polygon points="148.3,178.0 147.5,172.3 152.3,167.9 159.5,168.9 162.1,174.7 159.5,180.2 153.1,181.7" fill="#3c8e1e" opacity="0.95" filter="url(#b1)"/>
<polygon points="158.3,175.1 155.8,177.6 152.2,177.2 151.3,174.2 152.9,171.2 156.8,171.8" fill="#7cc43c" opacity="0.85" filter="url(#b4)"/>
<polygon points="168.9,187.6 162.8,190.6 156.5,187.2 154.9,180.5 160.8,176.6 168.0,176.2 171.8,182.0" fill="#3c8e1e" opacity="0.95" filter="url(#b1)"/>
<polygon points="165.6,181.1 166.0,184.0 163.8,185.9 161.3,184.7 160.5,182.4 162.4,180.3" fill="#7cc43c" opacity="0.85" filter="url(#b4)"/>
<polygon points="170.5,172.2 169.0,166.5 173.9,161.8 181.1,162.7 184.0,168.4 181.8,174.0 175.4,176.0" fill="#3c8e1e" opacity="0.95" filter="url(#b1)"/>
<polygon points="174.6,170.8 174.6,168.2 176.7,166.6 179.7,167.1 180.5,170.3 177.5,172.0" fill="#7cc43c" opacity="0.85" filter="url(#b4)"/>
<polygon points="168.5,163.9 166.9,159.8 169.6,155.5 175.3,155.9 178.2,159.8 177.6,164.7 172.5,165.7" fill="#2a6e16" opacity="0.9" filter="url(#b1)"/>
<polygon points="145.6,197.4 149.6,192.8 155.5,192.2 159.4,196.0 159.5,201.2 154.6,205.1 149.6,201.7" fill="#3c8e1e" opacity="0.9" filter="url(#b1)"/>
<polygon points="156.2,197.0 156.8,199.5 154.6,201.0 152.1,200.2 151.7,197.9 153.6,196.7" fill="#7cc43c" opacity="0.85" filter="url(#b4)"/>
<polygon points="176.0,190.7 177.5,196.5 174.9,201.9 168.2,202.7 163.5,198.4 164.1,192.6 169.3,188.9" fill="#3c8e1e" opacity="0.95" filter="url(#b1)"/>
<polygon points="168.2,196.9 168.7,194.4 171.5,193.8 173.9,195.4 173.3,198.5 169.8,199.3" fill="#7cc43c" opacity="0.85" filter="url(#b4)"/>
<polygon points="179.5,179.0 182.8,183.1 183.6,188.1 178.5,190.9 173.9,188.6 172.3,184.7 174.5,181.1" fill="#3c8e1e" opacity="0.9" filter="url(#b1)"/>
<polygon points="180.0,186.0 177.6,186.6 176.0,185.2 176.3,183.2 178.4,182.3 180.1,183.8" fill="#58aa2c" opacity="0.85" filter="url(#b4)"/>
<polygon points="162.8,168.5 159.5,166.1 159.4,162.6 162.1,160.0 165.7,161.1 168.0,163.7 166.6,167.0" fill="#2a6e16" opacity="0.8" filter="url(#b1)"/>
<polygon points="147.9,185.0 144.2,185.8 142.3,182.6 143.7,179.7 146.8,178.1 150.3,179.6 149.9,182.9" fill="#2a6e16" opacity="0.7" filter="url(#b1)"/>
</g>
<g clip-path="url(#cC2)">
<rect x="183.30" y="158.00" width="47.00" height="45.00" fill="#081604" />
<polygon points="195.7,173.3 193.3,177.5 189.6,179.4 184.5,178.9 183.1,174.1 186.3,170.2 191.4,170.5" fill="#2a6e16" opacity="0.6" filter="url(#b1)"/>
<polygon points="194.4,175.5 200.7,172.7 206.2,176.1 208.3,181.5 204.2,186.1 197.2,186.9 191.8,181.9" fill="#3c8e1e" opacity="0.9" filter="url(#b1)"/>
<polygon points="198.9,181.0 199.6,178.5 202.2,177.7 204.7,179.1 204.0,181.8 201.2,182.8" fill="#c8cc34" opacity="0.85" filter="url(#b4)"/>
<polygon points="220.6,175.8 222.1,181.4 217.8,185.4 212.2,185.0 208.1,181.4 209.7,176.4 214.7,173.4" fill="#3c8e1e" opacity="0.95" filter="url(#b1)"/>
<polygon points="217.4,183.5 213.6,183.1 212.1,180.0 214.2,177.2 217.9,177.6 219.5,180.7" fill="#d4d038" opacity="0.85" filter="url(#b4)"/>
<polygon points="216.4,173.7 213.3,168.2 217.3,163.8 222.7,161.4 227.7,165.0 227.3,170.5 222.9,174.0" fill="#3c8e1e" opacity="0.85" filter="url(#b1)"/>
<polygon points="218.3,168.8 220.0,166.9 222.7,166.6 224.1,168.9 222.5,170.9 219.8,170.9" fill="#58aa2c" opacity="0.85" filter="url(#b4)"/>
<polygon points="216.1,186.8 216.0,192.3 211.4,195.3 206.0,194.7 202.4,190.4 205.7,186.0 211.0,183.1" fill="#3c8e1e" opacity="0.85" filter="url(#b1)"/>
<polygon points="208.2,193.2 206.7,191.2 207.7,189.1 210.1,188.8 211.7,190.5 210.8,192.6" fill="#58aa2c" opacity="0.85" filter="url(#b4)"/>
<polygon points="192.2,198.7 188.2,195.6 188.4,190.2 193.9,188.1 198.3,190.8 201.2,195.0 197.6,199.3" fill="#2a6e16" opacity="0.7" filter="url(#b1)"/>
<polygon points="195.1,191.9 196.9,192.4 196.7,194.2 195.2,195.0 193.2,194.5 193.6,192.7" fill="#5a9a22" opacity="0.85" filter="url(#b4)"/>
<polygon points="216.7,193.1 220.8,189.6 225.7,189.2 230.5,192.0 228.8,197.1 224.3,200.1 219.9,197.3" fill="#2a6e16" opacity="0.75" filter="url(#b1)"/>
<polygon points="222.6,192.0 224.7,191.6 225.1,193.4 224.4,195.1 222.5,194.6 221.6,193.3" fill="#6aa828" opacity="0.85" filter="url(#b4)"/>
<polygon points="205.9,162.5 208.3,165.0 208.4,168.6 204.5,170.1 201.3,168.4 198.8,165.2 202.3,162.7" fill="#2a6e16" opacity="0.5" filter="url(#b1)"/>
<polygon points="192.2,198.8 190.2,201.5 186.3,201.7 184.8,198.7 185.2,195.8 188.3,194.8 191.5,195.7" fill="#6a6a18" opacity="0.6" filter="url(#b1)"/>
</g>
<g clip-path="url(#cC3)">
<rect x="229.70" y="158.00" width="47.00" height="45.00" fill="#050c02" />
<polygon points="238.4,178.2 232.7,175.8 230.3,170.5 234.0,165.5 240.1,166.3 243.6,169.9 244.6,175.7" fill="#8aa824" opacity="0.9" filter="url(#b1)"/>
<polygon points="241.1,170.9 239.6,174.2 235.5,174.0 233.3,171.1 235.6,168.4 239.2,167.8" fill="#d8d838" opacity="0.85" filter="url(#b4)"/>
<polygon points="234.8,163.9 236.1,166.2 234.6,168.5 231.9,168.3 229.5,167.2 229.9,164.6 232.2,163.4" fill="#7a2a10" opacity="0.7" filter="url(#b1)"/>
<polygon points="273.8,169.1 269.1,173.5 262.5,174.2 257.6,169.6 259.4,163.4 265.5,160.1 271.1,163.6" fill="#6aa020" opacity="0.85" filter="url(#b1)"/>
<polygon points="269.8,166.2 268.6,169.2 266.0,170.2 263.5,168.7 263.1,165.5 266.7,164.6" fill="#b8cc30" opacity="0.85" filter="url(#b4)"/>
<polygon points="253.3,173.8 256.1,172.7 258.7,174.3 259.0,177.1 256.9,179.2 253.7,178.9 251.5,176.4" fill="#6a2410" opacity="0.6" filter="url(#b1)"/>
<polygon points="233.3,188.0 240.1,188.2 244.4,192.9 242.2,198.6 236.5,199.8 230.5,198.6 228.9,192.7" fill="#7aa822" opacity="0.9" filter="url(#b1)"/>
<polygon points="236.8,192.0 240.0,192.3 240.6,195.4 238.1,197.1 235.4,196.2 234.0,193.6" fill="#c4d432" opacity="0.85" filter="url(#b4)"/>
<polygon points="254.3,192.6 253.5,198.4 246.9,199.3 242.4,195.9 241.7,190.7 245.7,186.1 252.7,186.9" fill="#7ab024" opacity="0.95" filter="url(#b1)"/>
<polygon points="251.0,194.3 247.9,196.4 244.0,195.9 242.8,192.1 246.2,189.9 250.3,190.4" fill="#d8d838" opacity="0.85" filter="url(#b4)"/>
<polygon points="267.6,197.9 263.0,194.9 265.0,190.1 269.2,187.5 274.5,189.0 276.7,194.0 272.7,197.7" fill="#6aa822" opacity="0.9" filter="url(#b1)"/>
<polygon points="267.3,196.8 265.2,194.1 266.9,191.5 270.0,191.1 272.0,193.4 270.8,196.1" fill="#c4d432" opacity="0.85" filter="url(#b4)"/>
<polygon points="251.3,182.8 255.3,180.6 260.1,181.8 260.9,186.2 258.3,189.5 253.6,190.2 251.1,186.8" fill="#2a6e16" opacity="0.7" filter="url(#b1)"/>
<polygon points="259.4,201.7 257.2,199.2 257.5,196.3 260.3,195.3 263.2,195.7 264.5,198.3 262.4,200.3" fill="#2a6e16" opacity="0.6" filter="url(#b1)"/>
</g>
<line x1="183.70" y1="158.00" x2="183.70" y2="202.50" stroke="#e8e8e8" stroke-width="0.7" />
<line x1="229.80" y1="158.00" x2="229.80" y2="202.50" stroke="#e8e8e8" stroke-width="0.7" />
<text font-size="8" fill="#f4f4e8" font-weight="bold" textLength="13" lengthAdjust="spacingAndGlyphs" x="153" y="165.6" >Cell</text>
<text font-size="8" fill="#f4f4e8" font-weight="bold" textLength="25" lengthAdjust="spacingAndGlyphs" x="191.6" y="165.6" >eSPLPs</text>
<text font-size="8" fill="#f4f4e8" font-weight="bold" textLength="21" lengthAdjust="spacingAndGlyphs" x="239" y="165.6" >SPLPs</text>
<text font-size="10" fill="#333" textLength="9.5" lengthAdjust="spacingAndGlyphs" x="117.8" y="206.9" >iii.</text>
<line x1="153.30" y1="205.00" x2="153.30" y2="286.80" stroke="#222" stroke-width="0.8" />
<line x1="153.30" y1="286.80" x2="273.00" y2="286.80" stroke="#222" stroke-width="0.9" />
<line x1="151.30" y1="206.50" x2="153.30" y2="206.50" stroke="#222" stroke-width="0.6" />
<text font-size="3.4" fill="#222" font-weight="bold" text-anchor="end" x="150.10000000000002" y="207.8" >10</text>
<text font-size="2" fill="#222" x="150.10000000000002" y="205.9" >9</text>
<line x1="151.30" y1="221.90" x2="153.30" y2="221.90" stroke="#222" stroke-width="0.6" />
<text font-size="3.4" fill="#222" font-weight="bold" text-anchor="end" x="150.10000000000002" y="223.20000000000002" >10</text>
<text font-size="2" fill="#222" x="150.10000000000002" y="221.3" >8</text>
<line x1="151.30" y1="236.60" x2="153.30" y2="236.60" stroke="#222" stroke-width="0.6" />
<text font-size="3.4" fill="#222" font-weight="bold" text-anchor="end" x="150.10000000000002" y="237.9" >10</text>
<text font-size="2" fill="#222" x="150.10000000000002" y="236.0" >7</text>
<line x1="151.30" y1="251.10" x2="153.30" y2="251.10" stroke="#222" stroke-width="0.6" />
<text font-size="3.4" fill="#222" font-weight="bold" text-anchor="end" x="150.10000000000002" y="252.4" >10</text>
<text font-size="2" fill="#222" x="150.10000000000002" y="250.5" >6</text>
<line x1="151.30" y1="266.30" x2="153.30" y2="266.30" stroke="#222" stroke-width="0.6" />
<text font-size="3.4" fill="#222" font-weight="bold" text-anchor="end" x="150.10000000000002" y="267.6" >10</text>
<text font-size="2" fill="#222" x="150.10000000000002" y="265.7" >5</text>
<line x1="151.30" y1="281.20" x2="153.30" y2="281.20" stroke="#222" stroke-width="0.6" />
<text font-size="3.4" fill="#222" font-weight="bold" text-anchor="end" x="150.10000000000002" y="282.5" >10</text>
<text font-size="2" fill="#222" x="150.10000000000002" y="280.59999999999997" >4</text>
<rect x="158.6" y="233" width="7.5" height="53.8" fill="#fff" stroke="#222" stroke-width="0.7"/>
<line x1="162.35" y1="233.00" x2="162.35" y2="230.00" stroke="#222" stroke-width="0.7" />
<line x1="160.65" y1="230.00" x2="164.05" y2="230.00" stroke="#222" stroke-width="0.7" />
<rect x="168.8" y="218.5" width="7.6" height="68.3" fill="#fff" stroke="#222" stroke-width="0.7"/>
<line x1="172.60" y1="218.50" x2="172.60" y2="215.50" stroke="#222" stroke-width="0.7" />
<line x1="170.90" y1="215.50" x2="174.30" y2="215.50" stroke="#222" stroke-width="0.7" />
<rect x="179" y="215" width="8" height="71.8" fill="#fff" stroke="#222" stroke-width="0.7"/>
<line x1="183.00" y1="215.00" x2="183.00" y2="212.00" stroke="#222" stroke-width="0.7" />
<line x1="181.30" y1="212.00" x2="184.70" y2="212.00" stroke="#222" stroke-width="0.7" />
<rect x="196.5" y="261.4" width="7.2" height="25.4" fill="#a6a6a6" stroke="#444" stroke-width="0.7"/>
<line x1="200.10" y1="261.40" x2="200.10" y2="260.20" stroke="#444" stroke-width="0.7" />
<line x1="198.40" y1="260.20" x2="201.80" y2="260.20" stroke="#444" stroke-width="0.7" />
<rect x="206.7" y="274.7" width="7.3" height="12.1" fill="#a6a6a6" stroke="#444" stroke-width="0.7"/>
<line x1="210.35" y1="274.70" x2="210.35" y2="273.70" stroke="#444" stroke-width="0.7" />
<line x1="208.65" y1="273.70" x2="212.05" y2="273.70" stroke="#444" stroke-width="0.7" />
<rect x="217" y="267" width="7.2" height="19.8" fill="#a6a6a6" stroke="#444" stroke-width="0.7"/>
<line x1="220.60" y1="267.00" x2="220.60" y2="266.20" stroke="#444" stroke-width="0.7" />
<line x1="218.90" y1="266.20" x2="222.30" y2="266.20" stroke="#444" stroke-width="0.7" />
<rect x="234.4" y="247.4" width="7.2" height="39.4" fill="#2e2e2e" stroke="#111" stroke-width="0.7"/>
<line x1="238.00" y1="247.40" x2="238.00" y2="246.60" stroke="#111" stroke-width="0.7" />
<line x1="236.30" y1="246.60" x2="239.70" y2="246.60" stroke="#111" stroke-width="0.7" />
<rect x="244.7" y="232.2" width="7.2" height="54.6" fill="#2e2e2e" stroke="#111" stroke-width="0.7"/>
<line x1="248.30" y1="232.20" x2="248.30" y2="231.00" stroke="#111" stroke-width="0.7" />
<line x1="246.60" y1="231.00" x2="250.00" y2="231.00" stroke="#111" stroke-width="0.7" />
<rect x="255" y="232.2" width="7.5" height="54.6" fill="#2e2e2e" stroke="#111" stroke-width="0.7"/>
<line x1="258.75" y1="232.20" x2="258.75" y2="231.60" stroke="#111" stroke-width="0.7" />
<line x1="257.05" y1="231.60" x2="260.45" y2="231.60" stroke="#111" stroke-width="0.7" />
<polyline points="220.30,265.00 220.30,216.60 258.70,216.60 258.70,230.00" fill="none" stroke="#222" stroke-width="0.8" />
<text font-size="4.5" fill="#333" text-anchor="middle" x="239.7" y="213.5" >***</text>
<text font-size="5" fill="#222" font-weight="bold" text-anchor="end" transform="translate(163.5,290.2) rotate(-55)" >0.25</text>
<text font-size="5" fill="#222" font-weight="bold" text-anchor="end" transform="translate(173.79999999999998,290.2) rotate(-55)" >0.38</text>
<text font-size="5" fill="#222" font-weight="bold" text-anchor="end" transform="translate(184.2,290.2) rotate(-55)" >0.50</text>
<text font-size="5" fill="#222" font-weight="bold" text-anchor="end" transform="translate(201.29999999999998,290.2) rotate(-55)" >0.25</text>
<text font-size="5" fill="#222" font-weight="bold" text-anchor="end" transform="translate(211.5,290.2) rotate(-55)" >0.38</text>
<text font-size="5" fill="#222" font-weight="bold" text-anchor="end" transform="translate(221.79999999999998,290.2) rotate(-55)" >0.50</text>
<text font-size="5" fill="#222" font-weight="bold" text-anchor="end" transform="translate(239.2,290.2) rotate(-55)" >0.25</text>
<text font-size="5" fill="#222" font-weight="bold" text-anchor="end" transform="translate(249.5,290.2) rotate(-55)" >0.38</text>
<text font-size="5" fill="#222" font-weight="bold" text-anchor="end" transform="translate(259.9,290.2) rotate(-55)" >0.50</text>
<text font-size="8.4" fill="#222" textLength="54.5" lengthAdjust="spacingAndGlyphs" x="184.4" y="305.3" stroke="#222" stroke-width="0.12">pDNA (µg/well)</text>
<text font-size="8.2" fill="#222" textLength="80" lengthAdjust="spacingAndGlyphs" transform="translate(128.3,298) rotate(-90)" >Transfection efficiency</text>
<text font-size="7.9" fill="#222" textLength="32" lengthAdjust="spacingAndGlyphs" transform="translate(137.2,271) rotate(-90)" >(RLU/mg)</text>
<text font-size="11.6" fill="#000" font-weight="bold" textLength="12" lengthAdjust="spacingAndGlyphs" x="281.2" y="171.5" >D)</text>
<text font-size="10" fill="#333" x="299.8" y="168.8" >i.</text>
<line x1="312.86" y1="172.55" x2="307.39" y2="159.66" stroke="#d6d9dc" stroke-width="2.6" />
<line x1="312.86" y1="172.55" x2="307.39" y2="159.66" stroke="#b0b4ba" stroke-width="2.6" stroke-dasharray="0.75 0.5"/>
<line x1="326.14" y1="172.55" x2="331.61" y2="159.66" stroke="#d6d9dc" stroke-width="2.6" />
<line x1="326.14" y1="172.55" x2="331.61" y2="159.66" stroke="#b0b4ba" stroke-width="2.6" stroke-dasharray="0.75 0.5"/>
<line x1="335.26" y1="181.83" x2="348.24" y2="176.59" stroke="#d6d9dc" stroke-width="2.6" />
<line x1="335.26" y1="181.83" x2="348.24" y2="176.59" stroke="#b0b4ba" stroke-width="2.6" stroke-dasharray="0.75 0.5"/>
<line x1="335.47" y1="194.01" x2="348.63" y2="198.80" stroke="#d6d9dc" stroke-width="2.6" />
<line x1="335.47" y1="194.01" x2="348.63" y2="198.80" stroke="#b0b4ba" stroke-width="2.6" stroke-dasharray="0.75 0.5"/>
<line x1="326.41" y1="203.73" x2="332.11" y2="216.52" stroke="#d6d9dc" stroke-width="2.6" />
<line x1="326.41" y1="203.73" x2="332.11" y2="216.52" stroke="#b0b4ba" stroke-width="2.6" stroke-dasharray="0.75 0.5"/>
<line x1="313.13" y1="203.96" x2="307.89" y2="216.94" stroke="#d6d9dc" stroke-width="2.6" />
<line x1="313.13" y1="203.96" x2="307.89" y2="216.94" stroke="#b0b4ba" stroke-width="2.6" stroke-dasharray="0.75 0.5"/>
<line x1="303.74" y1="194.57" x2="290.76" y2="199.81" stroke="#d6d9dc" stroke-width="2.6" />
<line x1="303.74" y1="194.57" x2="290.76" y2="199.81" stroke="#b0b4ba" stroke-width="2.6" stroke-dasharray="0.75 0.5"/>
<line x1="303.63" y1="182.11" x2="290.56" y2="177.09" stroke="#d6d9dc" stroke-width="2.6" />
<line x1="303.63" y1="182.11" x2="290.56" y2="177.09" stroke="#b0b4ba" stroke-width="2.6" stroke-dasharray="0.75 0.5"/>
<path d="M334.1 188.5 A14.6 14.6 0 1 1 334.1 187.9 Z" fill="none" stroke="#e4f6f4" stroke-width="11.6"/>
<circle cx="338.09" cy="188.81" r="2.6" fill="#c6f0ee" opacity="0.9"/>
<circle cx="331.92" cy="202.04" r="2.6" fill="#c6f0ee" opacity="0.9"/>
<circle cx="317.27" cy="206.67" r="2.6" fill="#c6f0ee" opacity="0.9"/>
<circle cx="302.08" cy="194.72" r="2.6" fill="#c6f0ee" opacity="0.9"/>
<circle cx="301.76" cy="182.62" r="2.6" fill="#c6f0ee" opacity="0.9"/>
<circle cx="316.30" cy="169.88" r="2.6" fill="#c6f0ee" opacity="0.9"/>
<circle cx="330.47" cy="173.18" r="2.6" fill="#c6f0ee" opacity="0.9"/>
<circle cx="337.80" cy="188.20" r="1.55" fill="#dde754" />
<circle cx="330.04" cy="189.31" r="1.3" fill="#dde754" />
<circle cx="337.40" cy="192.00" r="1.55" fill="#dde754" />
<circle cx="329.58" cy="191.48" r="1.3" fill="#dde754" />
<circle cx="336.22" cy="195.64" r="1.55" fill="#dde754" />
<circle cx="328.68" cy="193.50" r="1.3" fill="#dde754" />
<circle cx="334.31" cy="198.96" r="1.55" fill="#dde754" />
<circle cx="327.38" cy="195.29" r="1.3" fill="#dde754" />
<circle cx="331.75" cy="201.80" r="1.55" fill="#dde754" />
<circle cx="325.73" cy="196.78" r="1.3" fill="#dde754" />
<circle cx="328.65" cy="204.05" r="1.55" fill="#dde754" />
<circle cx="323.81" cy="197.88" r="1.3" fill="#dde754" />
<circle cx="325.16" cy="205.60" r="1.55" fill="#dde754" />
<circle cx="321.70" cy="198.57" r="1.3" fill="#dde754" />
<circle cx="321.41" cy="206.40" r="1.55" fill="#dde754" />
<circle cx="319.50" cy="198.80" r="1.3" fill="#dde754" />
<circle cx="317.59" cy="206.40" r="1.55" fill="#dde754" />
<circle cx="317.30" cy="198.57" r="1.3" fill="#dde754" />
<circle cx="313.84" cy="205.60" r="1.55" fill="#dde754" />
<circle cx="315.19" cy="197.88" r="1.3" fill="#dde754" />
<circle cx="310.35" cy="204.05" r="1.55" fill="#dde754" />
<circle cx="313.27" cy="196.78" r="1.3" fill="#dde754" />
<circle cx="307.25" cy="201.80" r="1.55" fill="#dde754" />
<circle cx="311.62" cy="195.29" r="1.3" fill="#dde754" />
<circle cx="304.69" cy="198.96" r="1.55" fill="#dde754" />
<circle cx="310.32" cy="193.50" r="1.3" fill="#dde754" />
<circle cx="302.78" cy="195.64" r="1.55" fill="#dde754" />
<circle cx="309.42" cy="191.48" r="1.3" fill="#dde754" />
<circle cx="301.60" cy="192.00" r="1.55" fill="#dde754" />
<circle cx="308.96" cy="189.31" r="1.3" fill="#dde754" />
<circle cx="301.20" cy="188.20" r="1.55" fill="#dde754" />
<circle cx="308.96" cy="187.09" r="1.3" fill="#dde754" />
<circle cx="301.60" cy="184.40" r="1.55" fill="#dde754" />
<circle cx="309.42" cy="184.92" r="1.3" fill="#dde754" />
<circle cx="302.78" cy="180.76" r="1.55" fill="#dde754" />
<circle cx="310.32" cy="182.90" r="1.3" fill="#dde754" />
<circle cx="304.69" cy="177.44" r="1.55" fill="#dde754" />
<circle cx="311.62" cy="181.11" r="1.3" fill="#dde754" />
<circle cx="307.25" cy="174.60" r="1.55" fill="#dde754" />
<circle cx="313.27" cy="179.62" r="1.3" fill="#dde754" />
<circle cx="310.35" cy="172.35" r="1.55" fill="#dde754" />
<circle cx="315.19" cy="178.52" r="1.3" fill="#dde754" />
<circle cx="313.84" cy="170.80" r="1.55" fill="#dde754" />
<circle cx="317.30" cy="177.83" r="1.3" fill="#dde754" />
<circle cx="317.59" cy="170.00" r="1.55" fill="#dde754" />
<circle cx="319.50" cy="177.60" r="1.3" fill="#dde754" />
<circle cx="321.41" cy="170.00" r="1.55" fill="#dde754" />
<circle cx="321.70" cy="177.83" r="1.3" fill="#dde754" />
<circle cx="325.16" cy="170.80" r="1.55" fill="#dde754" />
<circle cx="323.81" cy="178.52" r="1.3" fill="#dde754" />
<circle cx="328.65" cy="172.35" r="1.55" fill="#dde754" />
<circle cx="325.73" cy="179.62" r="1.3" fill="#dde754" />
<circle cx="331.75" cy="174.60" r="1.55" fill="#dde754" />
<circle cx="327.38" cy="181.11" r="1.3" fill="#dde754" />
<circle cx="334.31" cy="177.44" r="1.55" fill="#dde754" />
<circle cx="328.68" cy="182.90" r="1.3" fill="#dde754" />
<circle cx="336.22" cy="180.76" r="1.55" fill="#dde754" />
<circle cx="329.58" cy="184.92" r="1.3" fill="#dde754" />
<circle cx="337.40" cy="184.40" r="1.55" fill="#dde754" />
<circle cx="330.04" cy="187.09" r="1.3" fill="#dde754" />
<path d="M334.1 188.5 A14.6 14.6 0 1 1 334.1 187.9 Z" fill="none" stroke="#dde754" stroke-width="8.6" stroke-dasharray="1.9 0.9"/>
<path d="M337.7 188.5 A18.2 18.2 0 1 1 337.7 187.9 Z" fill="none" stroke="#4a5520" stroke-width="1.2" stroke-dasharray="0.9 2.45"/>
<path d="M330.5 188.4 A11 11 0 1 1 330.5 188.0 Z" fill="none" stroke="#4a5520" stroke-width="1.1" stroke-dasharray="0.8 1.22"/>
<circle cx="327.16" cy="203.95" r="1.3732831285809328" fill="#c4efec" opacity="0.85"/>
<circle cx="304.28" cy="184.50" r="1.2596381816265294" fill="#c4efec" opacity="0.85"/>
<circle cx="310.08" cy="178.82" r="1.3452808064877166" fill="#c4efec" opacity="0.85"/>
<circle cx="331.86" cy="198.50" r="1.4574871873949273" fill="#c4efec" opacity="0.85"/>
<circle cx="335.21" cy="182.58" r="1.259089343346891" fill="#c4efec" opacity="0.85"/>
<circle cx="326.92" cy="202.88" r="1.0212447404508855" fill="#c4efec" opacity="0.85"/>
<circle cx="334.40" cy="183.84" r="1.2610437214575665" fill="#c4efec" opacity="0.85"/>
<circle cx="334.42" cy="188.33" r="1.4670621598406768" fill="#c4efec" opacity="0.85"/>
<circle cx="305.27" cy="188.28" r="1.1389560854612777" fill="#c4efec" opacity="0.85"/>
<circle cx="330.61" cy="182.89" r="1.2013238802366524" fill="#c4efec" opacity="0.85"/>
<circle cx="334.24" cy="186.89" r="1.0139249938336379" fill="#c4efec" opacity="0.85"/>
<circle cx="309.27" cy="196.51" r="1.23010391002977" fill="#c4efec" opacity="0.85"/>
<circle cx="316.67" cy="175.57" r="1.0529659509736924" fill="#c4efec" opacity="0.85"/>
<circle cx="303.32" cy="181.97" r="1.4615144761645227" fill="#c4efec" opacity="0.85"/>
<circle cx="308.43" cy="174.45" r="1.0929791377793137" fill="#c4efec" opacity="0.85"/>
<circle cx="317.25" cy="172.14" r="1.388551093003295" fill="#c4efec" opacity="0.85"/>
<circle cx="306.39" cy="195.48" r="0.55" fill="#3e4a1c" />
<circle cx="331.23" cy="182.00" r="0.55" fill="#3e4a1c" />
<circle cx="332.48" cy="183.75" r="0.55" fill="#3e4a1c" />
<circle cx="329.38" cy="175.00" r="0.55" fill="#3e4a1c" />
<circle cx="334.66" cy="189.05" r="0.55" fill="#3e4a1c" />
<circle cx="322.72" cy="171.67" r="0.55" fill="#3e4a1c" />
<circle cx="331.82" cy="192.23" r="0.55" fill="#3e4a1c" />
<circle cx="331.27" cy="177.04" r="0.55" fill="#3e4a1c" />
<circle cx="311.19" cy="196.83" r="0.55" fill="#3e4a1c" />
<circle cx="332.21" cy="187.18" r="0.55" fill="#3e4a1c" />
<circle cx="307.08" cy="199.44" r="0.55" fill="#3e4a1c" />
<circle cx="307.25" cy="197.81" r="0.55" fill="#3e4a1c" />
<circle cx="328.89" cy="174.22" r="0.55" fill="#3e4a1c" />
<circle cx="307.24" cy="181.61" r="0.55" fill="#3e4a1c" />
<circle cx="303.83" cy="180.21" r="0.55" fill="#3e4a1c" />
<circle cx="331.49" cy="189.40" r="0.55" fill="#3e4a1c" />
<circle cx="331.85" cy="195.38" r="0.55" fill="#3e4a1c" />
<circle cx="308.92" cy="196.35" r="0.55" fill="#3e4a1c" />
<circle cx="316.32" cy="202.77" r="0.55" fill="#3e4a1c" />
<circle cx="310.17" cy="176.18" r="0.55" fill="#3e4a1c" />
<circle cx="320.69" cy="200.23" r="0.55" fill="#3e4a1c" />
<circle cx="309.55" cy="202.64" r="0.55" fill="#3e4a1c" />
<circle cx="337.33" cy="192.57" r="0.55" fill="#3e4a1c" />
<circle cx="321.02" cy="199.86" r="0.55" fill="#3e4a1c" />
<circle cx="336.90" cy="192.64" r="0.55" fill="#3e4a1c" />
<circle cx="329.98" cy="196.11" r="0.55" fill="#3e4a1c" />
<circle cx="331.45" cy="181.53" r="0.55" fill="#3e4a1c" />
<circle cx="321.03" cy="170.53" r="0.55" fill="#3e4a1c" />
<circle cx="305.11" cy="192.87" r="0.55" fill="#3e4a1c" />
<circle cx="305.34" cy="189.49" r="0.55" fill="#3e4a1c" />
<line x1="315.01" y1="177.61" x2="311.88" y2="170.25" stroke="#4f86d0" stroke-width="1.2" />
<line x1="323.99" y1="177.61" x2="327.12" y2="170.25" stroke="#4f86d0" stroke-width="1.2" />
<line x1="330.16" y1="183.89" x2="337.58" y2="180.90" stroke="#4f86d0" stroke-width="1.2" />
<line x1="330.31" y1="192.13" x2="337.82" y2="194.87" stroke="#4f86d0" stroke-width="1.2" />
<line x1="324.18" y1="198.71" x2="327.43" y2="206.01" stroke="#4f86d0" stroke-width="1.2" />
<line x1="315.19" y1="198.86" x2="312.20" y2="206.28" stroke="#4f86d0" stroke-width="1.2" />
<line x1="308.84" y1="192.51" x2="301.42" y2="195.50" stroke="#4f86d0" stroke-width="1.2" />
<line x1="308.76" y1="184.08" x2="301.30" y2="181.21" stroke="#4f86d0" stroke-width="1.2" />
<circle cx="319.50" cy="188.20" r="9.7" fill="#fde2e6" />
<circle cx="316.40" cy="182.20" r="0.95" fill="#a0401a" />
<circle cx="322.00" cy="183.60" r="0.95" fill="#a0401a" />
<circle cx="314.20" cy="187.00" r="0.95" fill="#a0401a" />
<circle cx="319.80" cy="188.20" r="0.95" fill="#a0401a" />
<circle cx="325.40" cy="189.20" r="0.95" fill="#a0401a" />
<circle cx="316.40" cy="191.40" r="0.95" fill="#a0401a" />
<circle cx="322.00" cy="193.70" r="0.95" fill="#a0401a" />
<circle cx="314.20" cy="194.80" r="0.95" fill="#a0401a" />
<circle cx="326.40" cy="184.80" r="0.95" fill="#a0401a" />
<circle cx="318.70" cy="197.00" r="0.95" fill="#a0401a" />
<path d="M311.3 186.3 l3.4 3.4 M314.7 186.3 l-3.4 3.4" stroke="#111" stroke-width="0.9"/>
<line x1="402.55" y1="173.63" x2="398.22" y2="160.32" stroke="#d6d9dc" stroke-width="2.6" />
<line x1="402.55" y1="173.63" x2="398.22" y2="160.32" stroke="#b0b4ba" stroke-width="2.6" stroke-dasharray="0.75 0.5"/>
<line x1="414.44" y1="174.15" x2="419.91" y2="161.26" stroke="#d6d9dc" stroke-width="2.6" />
<line x1="414.44" y1="174.15" x2="419.91" y2="161.26" stroke="#b0b4ba" stroke-width="2.6" stroke-dasharray="0.75 0.5"/>
<line x1="423.87" y1="184.27" x2="437.11" y2="179.71" stroke="#d6d9dc" stroke-width="2.6" />
<line x1="423.87" y1="184.27" x2="437.11" y2="179.71" stroke="#b0b4ba" stroke-width="2.6" stroke-dasharray="0.75 0.5"/>
<line x1="423.87" y1="195.33" x2="437.11" y2="199.89" stroke="#d6d9dc" stroke-width="2.6" />
<line x1="423.87" y1="195.33" x2="437.11" y2="199.89" stroke="#b0b4ba" stroke-width="2.6" stroke-dasharray="0.75 0.5"/>
<line x1="412.77" y1="206.06" x2="416.86" y2="219.45" stroke="#d6d9dc" stroke-width="2.6" />
<line x1="412.77" y1="206.06" x2="416.86" y2="219.45" stroke="#b0b4ba" stroke-width="2.6" stroke-dasharray="0.75 0.5"/>
<line x1="402.27" y1="205.87" x2="397.71" y2="219.11" stroke="#d6d9dc" stroke-width="2.6" />
<line x1="402.27" y1="205.87" x2="397.71" y2="219.11" stroke="#b0b4ba" stroke-width="2.6" stroke-dasharray="0.75 0.5"/>
<line x1="391.83" y1="195.61" x2="378.67" y2="200.40" stroke="#d6d9dc" stroke-width="2.6" />
<line x1="391.83" y1="195.61" x2="378.67" y2="200.40" stroke="#b0b4ba" stroke-width="2.6" stroke-dasharray="0.75 0.5"/>
<line x1="391.83" y1="183.99" x2="378.67" y2="179.20" stroke="#d6d9dc" stroke-width="2.6" />
<line x1="391.83" y1="183.99" x2="378.67" y2="179.20" stroke="#b0b4ba" stroke-width="2.6" stroke-dasharray="0.75 0.5"/>
<path d="M418.3 199.9 A14.6 14.6 0 1 1 416.8 178.3" fill="none" stroke="#e4f6f4" stroke-width="11.6"/>
<circle cx="418.28" cy="205.16" r="2.6" fill="#c6f0ee" opacity="0.9"/>
<circle cx="404.51" cy="208.11" r="2.6" fill="#c6f0ee" opacity="0.9"/>
<circle cx="393.97" cy="202.24" r="2.6" fill="#c6f0ee" opacity="0.9"/>
<circle cx="389.21" cy="189.32" r="2.6" fill="#c6f0ee" opacity="0.9"/>
<circle cx="394.17" cy="177.15" r="2.6" fill="#c6f0ee" opacity="0.9"/>
<circle cx="405.97" cy="171.29" r="2.6" fill="#c6f0ee" opacity="0.9"/>
<circle cx="416.86" cy="173.56" r="2.6" fill="#c6f0ee" opacity="0.9"/>
<circle cx="420.05" cy="203.40" r="1.55" fill="#dde754" />
<circle cx="414.03" cy="198.38" r="1.3" fill="#dde754" />
<circle cx="416.95" cy="205.65" r="1.55" fill="#dde754" />
<circle cx="412.11" cy="199.48" r="1.3" fill="#dde754" />
<circle cx="413.46" cy="207.20" r="1.55" fill="#dde754" />
<circle cx="410.00" cy="200.17" r="1.3" fill="#dde754" />
<circle cx="409.71" cy="208.00" r="1.55" fill="#dde754" />
<circle cx="407.80" cy="200.40" r="1.3" fill="#dde754" />
<circle cx="405.89" cy="208.00" r="1.55" fill="#dde754" />
<circle cx="405.60" cy="200.17" r="1.3" fill="#dde754" />
<circle cx="402.14" cy="207.20" r="1.55" fill="#dde754" />
<circle cx="403.49" cy="199.48" r="1.3" fill="#dde754" />
<circle cx="398.65" cy="205.65" r="1.55" fill="#dde754" />
<circle cx="401.57" cy="198.38" r="1.3" fill="#dde754" />
<circle cx="395.55" cy="203.40" r="1.55" fill="#dde754" />
<circle cx="399.92" cy="196.89" r="1.3" fill="#dde754" />
<circle cx="392.99" cy="200.56" r="1.55" fill="#dde754" />
<circle cx="398.62" cy="195.10" r="1.3" fill="#dde754" />
<circle cx="391.08" cy="197.24" r="1.55" fill="#dde754" />
<circle cx="397.72" cy="193.08" r="1.3" fill="#dde754" />
<circle cx="389.90" cy="193.60" r="1.55" fill="#dde754" />
<circle cx="397.26" cy="190.91" r="1.3" fill="#dde754" />
<circle cx="389.50" cy="189.80" r="1.55" fill="#dde754" />
<circle cx="397.26" cy="188.69" r="1.3" fill="#dde754" />
<circle cx="389.90" cy="186.00" r="1.55" fill="#dde754" />
<circle cx="397.72" cy="186.52" r="1.3" fill="#dde754" />
<circle cx="391.08" cy="182.36" r="1.55" fill="#dde754" />
<circle cx="398.62" cy="184.50" r="1.3" fill="#dde754" />
<circle cx="392.99" cy="179.04" r="1.55" fill="#dde754" />
<circle cx="399.92" cy="182.71" r="1.3" fill="#dde754" />
<circle cx="395.55" cy="176.20" r="1.55" fill="#dde754" />
<circle cx="401.57" cy="181.22" r="1.3" fill="#dde754" />
<circle cx="398.65" cy="173.95" r="1.55" fill="#dde754" />
<circle cx="403.49" cy="180.12" r="1.3" fill="#dde754" />
<circle cx="402.14" cy="172.40" r="1.55" fill="#dde754" />
<circle cx="405.60" cy="179.43" r="1.3" fill="#dde754" />
<circle cx="405.89" cy="171.60" r="1.55" fill="#dde754" />
<circle cx="407.80" cy="179.20" r="1.3" fill="#dde754" />
<circle cx="409.71" cy="171.60" r="1.55" fill="#dde754" />
<circle cx="410.00" cy="179.43" r="1.3" fill="#dde754" />
<circle cx="413.46" cy="172.40" r="1.55" fill="#dde754" />
<circle cx="412.11" cy="180.12" r="1.3" fill="#dde754" />
<circle cx="416.95" cy="173.95" r="1.55" fill="#dde754" />
<circle cx="414.03" cy="181.22" r="1.3" fill="#dde754" />
<path d="M418.3 199.9 A14.6 14.6 0 1 1 416.8 178.3" fill="none" stroke="#dde754" stroke-width="8.6" stroke-dasharray="1.9 0.9"/>
<path d="M421.3 202.0 A18.2 18.2 0 1 1 419.5 175.9" fill="none" stroke="#4a5520" stroke-width="1.2" stroke-dasharray="0.9 2.45"/>
<path d="M415.4 197.7 A11 11 0 1 1 414.3 180.9" fill="none" stroke="#4a5520" stroke-width="1.1" stroke-dasharray="0.8 1.22"/>
<circle cx="398.53" cy="181.24" r="1.391747855931408" fill="#c4efec" opacity="0.85"/>
<circle cx="393.88" cy="186.99" r="1.3488244926557997" fill="#c4efec" opacity="0.85"/>
<circle cx="397.93" cy="178.46" r="0.942280788945544" fill="#c4efec" opacity="0.85"/>
<circle cx="392.16" cy="183.82" r="1.4463781166248655" fill="#c4efec" opacity="0.85"/>
<circle cx="413.41" cy="175.82" r="1.1761422512767856" fill="#c4efec" opacity="0.85"/>
<circle cx="404.76" cy="202.74" r="1.1450952979643239" fill="#c4efec" opacity="0.85"/>
<circle cx="405.18" cy="203.31" r="1.3520288897686819" fill="#c4efec" opacity="0.85"/>
<circle cx="391.73" cy="184.38" r="1.3030682174395154" fill="#c4efec" opacity="0.85"/>
<circle cx="404.28" cy="202.17" r="1.1189800210399319" fill="#c4efec" opacity="0.85"/>
<circle cx="407.50" cy="177.18" r="1.2527340066593404" fill="#c4efec" opacity="0.85"/>
<circle cx="413.59" cy="178.03" r="1.0541866359898564" fill="#c4efec" opacity="0.85"/>
<circle cx="395.36" cy="193.39" r="1.4715577002089453" fill="#c4efec" opacity="0.85"/>
<circle cx="403.82" cy="177.45" r="0.9380558010519069" fill="#c4efec" opacity="0.85"/>
<circle cx="405.43" cy="173.67" r="1.1035054920775622" fill="#c4efec" opacity="0.85"/>
<circle cx="415.22" cy="199.72" r="1.1197003322265693" fill="#c4efec" opacity="0.85"/>
<circle cx="415.99" cy="177.01" r="1.0019827468850295" fill="#c4efec" opacity="0.85"/>
<circle cx="402.67" cy="204.80" r="0.55" fill="#3e4a1c" />
<circle cx="399.16" cy="200.78" r="0.55" fill="#3e4a1c" />
<circle cx="417.47" cy="177.57" r="0.55" fill="#3e4a1c" />
<circle cx="397.56" cy="196.54" r="0.55" fill="#3e4a1c" />
<circle cx="395.05" cy="192.27" r="0.55" fill="#3e4a1c" />
<circle cx="413.18" cy="176.77" r="0.55" fill="#3e4a1c" />
<circle cx="396.99" cy="176.73" r="0.55" fill="#3e4a1c" />
<circle cx="411.26" cy="205.23" r="0.55" fill="#3e4a1c" />
<circle cx="415.69" cy="180.74" r="0.55" fill="#3e4a1c" />
<circle cx="410.63" cy="203.09" r="0.55" fill="#3e4a1c" />
<circle cx="402.07" cy="176.39" r="0.55" fill="#3e4a1c" />
<circle cx="394.29" cy="183.54" r="0.55" fill="#3e4a1c" />
<circle cx="415.27" cy="180.21" r="0.55" fill="#3e4a1c" />
<circle cx="397.23" cy="184.09" r="0.55" fill="#3e4a1c" />
<circle cx="412.63" cy="202.61" r="0.55" fill="#3e4a1c" />
<circle cx="405.72" cy="176.88" r="0.55" fill="#3e4a1c" />
<circle cx="396.16" cy="181.76" r="0.55" fill="#3e4a1c" />
<circle cx="419.82" cy="202.11" r="0.55" fill="#3e4a1c" />
<circle cx="395.86" cy="192.45" r="0.55" fill="#3e4a1c" />
<circle cx="403.28" cy="202.30" r="0.55" fill="#3e4a1c" />
<circle cx="391.46" cy="197.54" r="0.55" fill="#3e4a1c" />
<circle cx="395.79" cy="185.75" r="0.55" fill="#3e4a1c" />
<circle cx="403.18" cy="204.46" r="0.55" fill="#3e4a1c" />
<circle cx="401.10" cy="206.75" r="0.55" fill="#3e4a1c" />
<circle cx="391.56" cy="188.73" r="0.55" fill="#3e4a1c" />
<circle cx="407.70" cy="206.31" r="0.55" fill="#3e4a1c" />
<circle cx="403.58" cy="175.92" r="0.55" fill="#3e4a1c" />
<circle cx="415.06" cy="175.93" r="0.55" fill="#3e4a1c" />
<circle cx="396.10" cy="188.42" r="0.55" fill="#3e4a1c" />
<circle cx="414.89" cy="205.55" r="0.55" fill="#3e4a1c" />
<line x1="404.25" y1="178.86" x2="401.77" y2="171.25" stroke="#4f86d0" stroke-width="1.2" />
<line x1="412.29" y1="179.21" x2="415.42" y2="171.85" stroke="#4f86d0" stroke-width="1.2" />
<line x1="418.67" y1="186.06" x2="426.24" y2="183.45" stroke="#4f86d0" stroke-width="1.2" />
<line x1="418.67" y1="193.54" x2="426.24" y2="196.15" stroke="#4f86d0" stroke-width="1.2" />
<line x1="411.16" y1="200.80" x2="413.50" y2="208.45" stroke="#4f86d0" stroke-width="1.2" />
<line x1="404.06" y1="200.67" x2="401.45" y2="208.24" stroke="#4f86d0" stroke-width="1.2" />
<line x1="396.99" y1="193.73" x2="389.48" y2="196.47" stroke="#4f86d0" stroke-width="1.2" />
<line x1="396.99" y1="185.87" x2="389.48" y2="183.13" stroke="#4f86d0" stroke-width="1.2" />
<circle cx="407.30" cy="189.80" r="9.6" fill="#fde6ea" />
<circle cx="412.80" cy="188.80" r="6.5" fill="#fff" />
<circle cx="400.90" cy="190.60" r="0.95" fill="#8a3414" />
<circle cx="404.70" cy="190.60" r="0.95" fill="#8a3414" />
<circle cx="402.80" cy="195.40" r="0.95" fill="#8a3414" />
<circle cx="408.90" cy="199.20" r="0.95" fill="#8a3414" />
<ellipse cx="428" cy="173.5" rx="6" ry="5" fill="#fde6e8" opacity="0.8"/>
<ellipse cx="429" cy="181" rx="4.5" ry="2.5" fill="#cdf2f0" opacity="0.8"/>
<ellipse cx="430" cy="196" rx="4.5" ry="3" fill="#cdf2f0" opacity="0.7"/>
<line x1="424.50" y1="178.20" x2="427.98" y2="179.13" stroke="#dde754" stroke-width="1.7" />
<circle cx="424.50" cy="178.20" r="0.7" fill="#4a5520" />
<line x1="427.50" y1="181.50" x2="430.76" y2="179.98" stroke="#dde754" stroke-width="1.7" />
<circle cx="427.50" cy="181.50" r="0.7" fill="#4a5520" />
<line x1="431.00" y1="185.50" x2="433.76" y2="183.19" stroke="#dde754" stroke-width="1.7" />
<circle cx="431.00" cy="185.50" r="0.7" fill="#4a5520" />
<line x1="426.00" y1="193.00" x2="429.12" y2="194.80" stroke="#dde754" stroke-width="1.7" />
<circle cx="426.00" cy="193.00" r="0.7" fill="#4a5520" />
<line x1="429.00" y1="197.00" x2="432.38" y2="195.77" stroke="#dde754" stroke-width="1.7" />
<circle cx="429.00" cy="197.00" r="0.7" fill="#4a5520" />
<line x1="433.00" y1="199.50" x2="435.76" y2="201.81" stroke="#dde754" stroke-width="1.7" />
<circle cx="433.00" cy="199.50" r="0.7" fill="#4a5520" />
<line x1="423.00" y1="199.00" x2="424.23" y2="202.38" stroke="#dde754" stroke-width="1.7" />
<circle cx="423.00" cy="199.00" r="0.7" fill="#4a5520" />
<line x1="434.50" y1="180.50" x2="438.05" y2="181.13" stroke="#dde754" stroke-width="1.7" />
<circle cx="434.50" cy="180.50" r="0.7" fill="#4a5520" />
<line x1="430.00" y1="188.00" x2="433.12" y2="186.20" stroke="#4a9a3a" stroke-width="0.9" />
<line x1="434.50" y1="194.00" x2="436.30" y2="197.12" stroke="#4a9a3a" stroke-width="0.9" />
<line x1="426.50" y1="176.80" x2="430.09" y2="177.11" stroke="#4a9a3a" stroke-width="0.9" />
<circle cx="427.20" cy="174.30" r="0.95" fill="#8a3414" />
<circle cx="433.00" cy="174.30" r="0.95" fill="#8a3414" />
<circle cx="421.30" cy="180.00" r="0.95" fill="#8a3414" />
<circle cx="423.40" cy="183.90" r="0.95" fill="#8a3414" />
<circle cx="420.40" cy="189.60" r="0.95" fill="#8a3414" />
<circle cx="428.60" cy="190.20" r="0.95" fill="#8a3414" />
<circle cx="436.20" cy="192.90" r="0.95" fill="#8a3414" />
<circle cx="421.90" cy="195.40" r="0.95" fill="#8a3414" />
<circle cx="420.40" cy="201.10" r="0.95" fill="#8a3414" />
<circle cx="432.60" cy="186.50" r="0.95" fill="#8a3414" />
<text font-size="7.9" fill="#222" textLength="20.1" lengthAdjust="spacingAndGlyphs" x="345.3" y="168.3" >Lipids</text>
<line x1="355.60" y1="173.60" x2="340.50" y2="176.30" stroke="#444" stroke-width="0.5" stroke-dasharray="1.2 0.5"/>
<path d="M337 176.9 L340.4 175 L340.9 177.7 Z" fill="#222"/>
<text font-size="7.9" fill="#222" textLength="28.9" lengthAdjust="spacingAndGlyphs" x="345.3" y="186.8" >Hypoxia</text>
<line x1="345.30" y1="187.90" x2="374.20" y2="187.90" stroke="#222" stroke-width="0.5" />
<line x1="346.90" y1="189.50" x2="375.30" y2="189.50" stroke="#111" stroke-width="0.9" />
<path d="M374.4 186.8 L380.2 189.5 L374.4 192.2 Z" fill="#111"/>
<text font-size="8" fill="#222" textLength="14.5" lengthAdjust="spacingAndGlyphs" x="278.5" y="213.3" >DOX</text>
<line x1="295.30" y1="206.00" x2="312.00" y2="189.50" stroke="#333" stroke-width="0.5" />
<text font-size="8" fill="#222" textLength="35.5" lengthAdjust="spacingAndGlyphs" x="322.7" y="226" >DSPE-PEG</text>
<line x1="342.00" y1="212.60" x2="343.10" y2="205.50" stroke="#444" stroke-width="0.5" stroke-dasharray="1 0.7"/>
<path d="M341.7 206.3 L343.4 202.6 L344.5 206.7 Z" fill="#222"/>
<text font-size="10.3" fill="#333" textLength="7.6" lengthAdjust="spacingAndGlyphs" x="433.8" y="166.2" >ii.</text>
<rect x="463.30" y="199.59" width="81.70" height="16.41" fill="#d6f4f4" />
<rect x="463.30" y="199.59" width="81.70" height="7.66" fill="#c8f0f1" />
<line x1="461.80" y1="159.50" x2="461.80" y2="216.00" stroke="#333" stroke-width="0.8" />
<line x1="461.80" y1="216.00" x2="546.00" y2="216.00" stroke="#333" stroke-width="0.8" />
<line x1="460.00" y1="216.00" x2="461.80" y2="216.00" stroke="#333" stroke-width="0.5" />
<text font-size="3.6" fill="#222" font-weight="bold" text-anchor="end" x="459.3" y="217.3" >0</text>
<line x1="460.00" y1="205.06" x2="461.80" y2="205.06" stroke="#333" stroke-width="0.5" />
<text font-size="3.6" fill="#222" font-weight="bold" text-anchor="end" x="459.3" y="206.36" >20</text>
<line x1="460.00" y1="194.12" x2="461.80" y2="194.12" stroke="#333" stroke-width="0.5" />
<text font-size="3.6" fill="#222" font-weight="bold" text-anchor="end" x="459.3" y="195.42000000000002" >40</text>
<line x1="460.00" y1="183.18" x2="461.80" y2="183.18" stroke="#333" stroke-width="0.5" />
<text font-size="3.6" fill="#222" font-weight="bold" text-anchor="end" x="459.3" y="184.48000000000002" >60</text>
<line x1="460.00" y1="172.24" x2="461.80" y2="172.24" stroke="#333" stroke-width="0.5" />
<text font-size="3.6" fill="#222" font-weight="bold" text-anchor="end" x="459.3" y="173.54000000000002" >80</text>
<line x1="460.00" y1="161.30" x2="461.80" y2="161.30" stroke="#333" stroke-width="0.5" />
<text font-size="3.6" fill="#222" font-weight="bold" text-anchor="end" x="459.3" y="162.60000000000002" >100</text>
<line x1="461.80" y1="216.00" x2="461.80" y2="217.80" stroke="#333" stroke-width="0.5" />
<text font-size="4.3" fill="#222" font-weight="bold" text-anchor="middle" x="461.8" y="222.4" >0</text>
<line x1="475.52" y1="216.00" x2="475.52" y2="217.80" stroke="#333" stroke-width="0.5" />
<text font-size="4.3" fill="#222" font-weight="bold" text-anchor="middle" x="475.52000000000004" y="222.4" >2</text>
<line x1="489.24" y1="216.00" x2="489.24" y2="217.80" stroke="#333" stroke-width="0.5" />
<text font-size="4.3" fill="#222" font-weight="bold" text-anchor="middle" x="489.24" y="222.4" >4</text>
<line x1="502.96" y1="216.00" x2="502.96" y2="217.80" stroke="#333" stroke-width="0.5" />
<text font-size="4.3" fill="#222" font-weight="bold" text-anchor="middle" x="502.96000000000004" y="222.4" >6</text>
<line x1="516.68" y1="216.00" x2="516.68" y2="217.80" stroke="#333" stroke-width="0.5" />
<text font-size="4.3" fill="#222" font-weight="bold" text-anchor="middle" x="516.6800000000001" y="222.4" >8</text>
<line x1="530.40" y1="216.00" x2="530.40" y2="217.80" stroke="#333" stroke-width="0.5" />
<text font-size="4.3" fill="#222" font-weight="bold" text-anchor="middle" x="530.4" y="222.4" >10</text>
<line x1="544.12" y1="216.00" x2="544.12" y2="217.80" stroke="#333" stroke-width="0.5" />
<text font-size="4.3" fill="#222" font-weight="bold" text-anchor="middle" x="542.62" y="222.4" >12</text>
<polygon points="465.2,193.0 468.7,190.8 472.1,189.7 475.5,189.2 478.9,188.7 482.4,188.1 489.2,185.4 496.1,183.7 509.8,178.3 523.5,172.2 544.1,167.9 544.1,173.3 523.5,177.7 509.8,183.7 496.1,189.2 489.2,190.8 482.4,193.6 478.9,194.1 475.5,194.7 472.1,195.2 468.7,196.3 465.2,198.5" fill="#fde6df" opacity="0.8"/>
<polyline points="461.80,216.00 465.23,209.44 468.66,208.34 472.09,208.34 475.52,208.07 478.95,208.07 482.38,208.07 489.24,207.79 496.10,207.79 509.82,207.79 523.54,207.79 544.12,207.52" fill="none" stroke="#9a9a1a" stroke-width="0.8" />
<polyline points="461.80,216.00 465.23,208.62 468.66,207.79 472.09,207.52 475.52,207.25 478.95,207.25 482.38,207.25 489.24,206.97 496.10,206.97 509.82,206.70 523.54,206.43 544.12,206.43" fill="none" stroke="#2a9a5a" stroke-width="0.8" />
<polyline points="461.80,216.00 465.23,207.79 468.66,206.15 472.09,205.88 475.52,205.61 478.95,205.61 482.38,205.33 489.24,205.06 496.10,204.79 509.82,204.24 523.54,203.69 544.12,202.87" fill="none" stroke="#1a3a9a" stroke-width="0.9" />
<polyline points="461.80,216.00 465.23,195.76 468.66,193.57 472.09,192.48 475.52,191.93 478.95,191.38 482.38,190.84 489.24,188.10 496.10,186.46 509.82,180.99 523.54,174.97 544.12,170.60" fill="none" stroke="#e08a1a" stroke-width="0.9" />
<line x1="465.23" y1="193.57" x2="465.23" y2="197.95" stroke="#e8a040" stroke-width="0.5" />
<circle cx="465.23" cy="195.76" r="0.9" fill="#d87a10" />
<line x1="468.66" y1="191.38" x2="468.66" y2="195.76" stroke="#e8a040" stroke-width="0.5" />
<circle cx="468.66" cy="193.57" r="0.9" fill="#d87a10" />
<line x1="472.09" y1="190.29" x2="472.09" y2="194.67" stroke="#e8a040" stroke-width="0.5" />
<circle cx="472.09" cy="192.48" r="0.9" fill="#d87a10" />
<line x1="475.52" y1="189.74" x2="475.52" y2="194.12" stroke="#e8a040" stroke-width="0.5" />
<circle cx="475.52" cy="191.93" r="0.9" fill="#d87a10" />
<line x1="478.95" y1="189.20" x2="478.95" y2="193.57" stroke="#e8a040" stroke-width="0.5" />
<circle cx="478.95" cy="191.38" r="0.9" fill="#d87a10" />
<line x1="482.38" y1="188.65" x2="482.38" y2="193.03" stroke="#e8a040" stroke-width="0.5" />
<circle cx="482.38" cy="190.84" r="0.9" fill="#d87a10" />
<line x1="489.24" y1="185.91" x2="489.24" y2="190.29" stroke="#e8a040" stroke-width="0.5" />
<circle cx="489.24" cy="188.10" r="0.9" fill="#d87a10" />
<line x1="496.10" y1="184.27" x2="496.10" y2="188.65" stroke="#e8a040" stroke-width="0.5" />
<circle cx="496.10" cy="186.46" r="0.9" fill="#d87a10" />
<line x1="509.82" y1="178.80" x2="509.82" y2="183.18" stroke="#e8a040" stroke-width="0.5" />
<circle cx="509.82" cy="180.99" r="0.9" fill="#d87a10" />
<line x1="523.54" y1="172.79" x2="523.54" y2="177.16" stroke="#e8a040" stroke-width="0.5" />
<circle cx="523.54" cy="174.97" r="0.9" fill="#d87a10" />
<line x1="544.12" y1="168.41" x2="544.12" y2="172.79" stroke="#e8a040" stroke-width="0.5" />
<circle cx="544.12" cy="170.60" r="0.9" fill="#d87a10" />
<line x1="465.23" y1="205.88" x2="465.23" y2="209.71" stroke="#1a3a9a" stroke-width="0.5" />
<circle cx="465.23" cy="207.79" r="0.9" fill="#10287a" />
<line x1="468.66" y1="204.24" x2="468.66" y2="208.07" stroke="#1a3a9a" stroke-width="0.5" />
<circle cx="468.66" cy="206.15" r="0.9" fill="#10287a" />
<line x1="472.09" y1="203.97" x2="472.09" y2="207.79" stroke="#1a3a9a" stroke-width="0.5" />
<circle cx="472.09" cy="205.88" r="0.9" fill="#10287a" />
<line x1="475.52" y1="203.69" x2="475.52" y2="207.52" stroke="#1a3a9a" stroke-width="0.5" />
<circle cx="475.52" cy="205.61" r="0.9" fill="#10287a" />
<line x1="478.95" y1="203.69" x2="478.95" y2="207.52" stroke="#1a3a9a" stroke-width="0.5" />
<circle cx="478.95" cy="205.61" r="0.9" fill="#10287a" />
<line x1="482.38" y1="203.42" x2="482.38" y2="207.25" stroke="#1a3a9a" stroke-width="0.5" />
<circle cx="482.38" cy="205.33" r="0.9" fill="#10287a" />
<line x1="489.24" y1="203.15" x2="489.24" y2="206.97" stroke="#1a3a9a" stroke-width="0.5" />
<circle cx="489.24" cy="205.06" r="0.9" fill="#10287a" />
<line x1="496.10" y1="202.87" x2="496.10" y2="206.70" stroke="#1a3a9a" stroke-width="0.5" />
<circle cx="496.10" cy="204.79" r="0.9" fill="#10287a" />
<line x1="509.82" y1="202.32" x2="509.82" y2="206.15" stroke="#1a3a9a" stroke-width="0.5" />
<circle cx="509.82" cy="204.24" r="0.9" fill="#10287a" />
<line x1="523.54" y1="201.78" x2="523.54" y2="205.61" stroke="#1a3a9a" stroke-width="0.5" />
<circle cx="523.54" cy="203.69" r="0.9" fill="#10287a" />
<line x1="544.12" y1="200.96" x2="544.12" y2="204.79" stroke="#1a3a9a" stroke-width="0.5" />
<circle cx="544.12" cy="202.87" r="0.9" fill="#10287a" />
<circle cx="465.23" cy="208.62" r="0.8" fill="#1a7a4a" />
<circle cx="468.66" cy="207.79" r="0.8" fill="#1a7a4a" />
<circle cx="472.09" cy="207.52" r="0.8" fill="#1a7a4a" />
<circle cx="475.52" cy="207.25" r="0.8" fill="#1a7a4a" />
<circle cx="478.95" cy="207.25" r="0.8" fill="#1a7a4a" />
<circle cx="482.38" cy="207.25" r="0.8" fill="#1a7a4a" />
<circle cx="489.24" cy="206.97" r="0.8" fill="#1a7a4a" />
<circle cx="496.10" cy="206.97" r="0.8" fill="#1a7a4a" />
<circle cx="509.82" cy="206.70" r="0.8" fill="#1a7a4a" />
<circle cx="523.54" cy="206.43" r="0.8" fill="#1a7a4a" />
<circle cx="544.12" cy="206.43" r="0.8" fill="#1a7a4a" />
<circle cx="465.23" cy="209.44" r="0.7" fill="#7a7a10" />
<circle cx="468.66" cy="208.34" r="0.7" fill="#7a7a10" />
<circle cx="472.09" cy="208.34" r="0.7" fill="#7a7a10" />
<circle cx="475.52" cy="208.07" r="0.7" fill="#7a7a10" />
<circle cx="478.95" cy="208.07" r="0.7" fill="#7a7a10" />
<circle cx="482.38" cy="208.07" r="0.7" fill="#7a7a10" />
<circle cx="489.24" cy="207.79" r="0.7" fill="#7a7a10" />
<circle cx="496.10" cy="207.79" r="0.7" fill="#7a7a10" />
<circle cx="509.82" cy="207.79" r="0.7" fill="#7a7a10" />
<circle cx="523.54" cy="207.79" r="0.7" fill="#7a7a10" />
<circle cx="544.12" cy="207.52" r="0.7" fill="#7a7a10" />
<text font-size="8.3" fill="#222" textLength="59.5" lengthAdjust="spacingAndGlyphs" transform="translate(449.2,218) rotate(-90)" stroke="#222" stroke-width="0.12">DOX Release (%)</text>
<text font-size="9" fill="#222" textLength="30" lengthAdjust="spacingAndGlyphs" x="485.8" y="228" stroke="#222" stroke-width="0.2">Time (hr)</text>
<text font-size="10" fill="#333" textLength="9.5" lengthAdjust="spacingAndGlyphs" x="280.1" y="229.3" >iii.</text>
<rect x="289.10" y="231.40" width="198.20" height="22.30" fill="#060201" />
<g clip-path="url(#cStrip)">
<ellipse cx="398" cy="242" rx="55" ry="12" fill="#4a1008" opacity="0.3" filter="url(#b3)"/>
<circle cx="378.57" cy="251.79" r="0.55" fill="#c07a20" opacity="0.63"/>
<circle cx="405.30" cy="242.52" r="0.45" fill="#a03018" opacity="0.44"/>
<circle cx="349.07" cy="249.22" r="0.65" fill="#b03a1a" opacity="0.84"/>
<circle cx="410.88" cy="231.34" r="0.45" fill="#a03018" opacity="0.43"/>
<circle cx="391.79" cy="242.24" r="0.55" fill="#b03a1a" opacity="0.69"/>
<circle cx="369.54" cy="251.96" r="0.65" fill="#b03a1a" opacity="0.51"/>
<circle cx="346.60" cy="231.38" r="0.45" fill="#b03a1a" opacity="0.49"/>
<circle cx="446.81" cy="243.58" r="0.65" fill="#c07a20" opacity="0.49"/>
<circle cx="433.92" cy="245.48" r="0.55" fill="#b03a1a" opacity="0.59"/>
<circle cx="347.67" cy="233.03" r="0.65" fill="#a03018" opacity="0.51"/>
<circle cx="408.05" cy="241.20" r="0.55" fill="#a03018" opacity="0.77"/>
<circle cx="413.19" cy="236.14" r="0.45" fill="#a03018" opacity="0.73"/>
<circle cx="398.68" cy="239.73" r="0.65" fill="#c07a20" opacity="0.44"/>
<circle cx="390.45" cy="247.65" r="0.55" fill="#c07a20" opacity="0.59"/>
<circle cx="391.97" cy="252.99" r="0.45" fill="#c8501a" opacity="0.62"/>
<circle cx="418.39" cy="232.67" r="0.45" fill="#c8501a" opacity="0.74"/>
<circle cx="338.31" cy="237.34" r="0.65" fill="#a03018" opacity="0.84"/>
<circle cx="378.17" cy="247.49" r="0.65" fill="#a03018" opacity="0.83"/>
<circle cx="405.80" cy="241.68" r="0.65" fill="#8a2812" opacity="0.54"/>
<circle cx="350.59" cy="232.63" r="0.65" fill="#c07a20" opacity="0.57"/>
<circle cx="434.96" cy="252.68" r="0.55" fill="#8a2812" opacity="0.44"/>
<circle cx="382.71" cy="250.29" r="0.55" fill="#b03a1a" opacity="0.66"/>
<circle cx="412.74" cy="244.11" r="0.45" fill="#a03018" opacity="0.44"/>
<circle cx="404.03" cy="249.86" r="0.65" fill="#b03a1a" opacity="0.74"/>
<circle cx="384.23" cy="246.71" r="0.65" fill="#c07a20" opacity="0.70"/>
<circle cx="361.85" cy="244.76" r="0.45" fill="#a03018" opacity="0.74"/>
<circle cx="387.67" cy="240.11" r="0.45" fill="#8a2812" opacity="0.69"/>
<circle cx="423.29" cy="238.97" r="0.45" fill="#a03018" opacity="0.69"/>
<circle cx="369.23" cy="248.31" r="0.45" fill="#8a2812" opacity="0.75"/>
<circle cx="395.01" cy="239.30" r="0.65" fill="#b03a1a" opacity="0.49"/>
<circle cx="394.90" cy="236.10" r="0.65" fill="#8a2812" opacity="0.71"/>
<circle cx="392.04" cy="248.01" r="0.65" fill="#c07a20" opacity="0.81"/>
<circle cx="432.03" cy="241.20" r="0.55" fill="#b03a1a" opacity="0.65"/>
<circle cx="418.23" cy="249.44" r="0.55" fill="#8a2812" opacity="0.55"/>
<circle cx="372.44" cy="251.69" r="0.45" fill="#c8501a" opacity="0.59"/>
<circle cx="423.22" cy="250.80" r="0.65" fill="#a03018" opacity="0.44"/>
<circle cx="415.50" cy="249.98" r="0.55" fill="#a03018" opacity="0.54"/>
<circle cx="392.80" cy="235.52" r="0.45" fill="#a03018" opacity="0.63"/>
<circle cx="408.84" cy="252.81" r="0.55" fill="#a03018" opacity="0.64"/>
<circle cx="369.02" cy="242.09" r="0.55" fill="#8a2812" opacity="0.81"/>
<circle cx="392.95" cy="240.44" r="0.55" fill="#b03a1a" opacity="0.46"/>
<circle cx="443.30" cy="235.37" r="0.45" fill="#c8501a" opacity="0.71"/>
<circle cx="411.71" cy="247.45" r="0.65" fill="#b03a1a" opacity="0.68"/>
<circle cx="462.99" cy="245.24" r="0.65" fill="#a03018" opacity="0.47"/>
<circle cx="415.42" cy="250.15" r="0.65" fill="#a03018" opacity="0.79"/>
<circle cx="432.86" cy="233.18" r="0.65" fill="#c07a20" opacity="0.76"/>
<circle cx="424.67" cy="235.52" r="0.55" fill="#8a2812" opacity="0.45"/>
<circle cx="389.12" cy="242.31" r="0.45" fill="#c8501a" opacity="0.62"/>
<circle cx="384.29" cy="233.59" r="0.45" fill="#c8501a" opacity="0.85"/>
<circle cx="380.49" cy="238.35" r="0.55" fill="#c07a20" opacity="0.63"/>
<circle cx="374.16" cy="231.30" r="0.45" fill="#b03a1a" opacity="0.48"/>
<circle cx="378.88" cy="240.12" r="0.65" fill="#c8501a" opacity="0.47"/>
<circle cx="390.49" cy="251.10" r="0.65" fill="#c07a20" opacity="0.67"/>
<circle cx="381.83" cy="239.00" r="0.45" fill="#a03018" opacity="0.50"/>
<circle cx="401.78" cy="239.77" r="0.65" fill="#c07a20" opacity="0.50"/>
<circle cx="402.83" cy="233.43" r="0.55" fill="#c8501a" opacity="0.60"/>
<circle cx="388.94" cy="245.58" r="0.45" fill="#b03a1a" opacity="0.52"/>
<circle cx="396.02" cy="242.72" r="0.65" fill="#b03a1a" opacity="0.60"/>
<circle cx="416.64" cy="246.04" r="0.55" fill="#b03a1a" opacity="0.82"/>
<circle cx="410.01" cy="252.27" r="0.55" fill="#c07a20" opacity="0.64"/>
<circle cx="407.37" cy="237.43" r="0.65" fill="#8a2812" opacity="0.82"/>
<circle cx="404.99" cy="240.20" r="0.45" fill="#c07a20" opacity="0.80"/>
<circle cx="437.18" cy="253.25" r="0.45" fill="#8a2812" opacity="0.76"/>
<circle cx="359.63" cy="239.17" r="0.65" fill="#c8501a" opacity="0.59"/>
<circle cx="408.01" cy="246.35" r="0.65" fill="#8a2812" opacity="0.64"/>
<circle cx="434.39" cy="233.56" r="0.65" fill="#8a2812" opacity="0.68"/>
<circle cx="360.12" cy="246.41" r="0.65" fill="#a03018" opacity="0.67"/>
<circle cx="414.35" cy="235.27" r="0.65" fill="#c8501a" opacity="0.84"/>
<circle cx="412.42" cy="243.19" r="0.45" fill="#b03a1a" opacity="0.81"/>
<circle cx="359.11" cy="242.12" r="0.45" fill="#c8501a" opacity="0.76"/>
<circle cx="366.24" cy="234.45" r="0.55" fill="#a03018" opacity="0.53"/>
<circle cx="403.96" cy="238.29" r="0.45" fill="#a03018" opacity="0.59"/>
<circle cx="401.46" cy="241.43" r="0.45" fill="#b03a1a" opacity="0.54"/>
<circle cx="426.63" cy="248.19" r="0.55" fill="#8a2812" opacity="0.80"/>
<circle cx="406.76" cy="246.46" r="0.55" fill="#8a2812" opacity="0.64"/>
<circle cx="404.79" cy="247.62" r="0.55" fill="#8a2812" opacity="0.64"/>
<circle cx="396.74" cy="252.74" r="0.45" fill="#c07a20" opacity="0.66"/>
<circle cx="355.24" cy="233.37" r="0.45" fill="#8a2812" opacity="0.41"/>
<circle cx="418.40" cy="249.37" r="0.45" fill="#c07a20" opacity="0.72"/>
<circle cx="354.93" cy="241.98" r="0.65" fill="#b03a1a" opacity="0.68"/>
<circle cx="396.19" cy="239.15" r="0.45" fill="#b03a1a" opacity="0.59"/>
<circle cx="372.25" cy="247.68" r="0.65" fill="#c07a20" opacity="0.48"/>
<circle cx="442.64" cy="232.40" r="0.45" fill="#c07a20" opacity="0.66"/>
<circle cx="438.99" cy="243.34" r="0.55" fill="#a03018" opacity="0.78"/>
<circle cx="384.98" cy="252.50" r="0.45" fill="#a03018" opacity="0.62"/>
<circle cx="332.76" cy="252.32" r="0.65" fill="#c07a20" opacity="0.76"/>
<circle cx="441.84" cy="251.43" r="0.45" fill="#a03018" opacity="0.69"/>
<circle cx="394.85" cy="248.33" r="0.45" fill="#b03a1a" opacity="0.77"/>
<circle cx="430.87" cy="241.80" r="0.45" fill="#c07a20" opacity="0.83"/>
<circle cx="405.15" cy="237.83" r="0.55" fill="#c8501a" opacity="0.49"/>
<circle cx="376.16" cy="240.30" r="0.45" fill="#c07a20" opacity="0.83"/>
<circle cx="369.28" cy="253.44" r="0.55" fill="#b03a1a" opacity="0.43"/>
<circle cx="444.31" cy="241.02" r="0.65" fill="#c07a20" opacity="0.72"/>
<circle cx="379.70" cy="253.31" r="0.65" fill="#c8501a" opacity="0.47"/>
<circle cx="363.56" cy="237.97" r="0.65" fill="#8a2812" opacity="0.61"/>
<circle cx="415.78" cy="239.60" r="0.45" fill="#b03a1a" opacity="0.68"/>
<circle cx="428.38" cy="231.73" r="0.55" fill="#b03a1a" opacity="0.58"/>
<circle cx="373.55" cy="245.56" r="0.65" fill="#c8501a" opacity="0.57"/>
<circle cx="409.50" cy="238.45" r="0.55" fill="#8a2812" opacity="0.69"/>
<circle cx="389.85" cy="249.57" r="0.65" fill="#a03018" opacity="0.47"/>
<circle cx="397.55" cy="242.26" r="0.65" fill="#c8501a" opacity="0.72"/>
<circle cx="413.17" cy="232.87" r="0.55" fill="#c8501a" opacity="0.66"/>
<circle cx="427.03" cy="251.90" r="0.55" fill="#8a2812" opacity="0.61"/>
<circle cx="396.60" cy="243.61" r="0.45" fill="#8a2812" opacity="0.81"/>
<circle cx="408.10" cy="249.55" r="0.65" fill="#8a2812" opacity="0.80"/>
<circle cx="397.48" cy="231.72" r="0.65" fill="#c8501a" opacity="0.46"/>
<circle cx="415.78" cy="234.57" r="0.55" fill="#c07a20" opacity="0.41"/>
<circle cx="393.52" cy="240.13" r="0.65" fill="#8a2812" opacity="0.46"/>
<circle cx="368.83" cy="233.31" r="0.55" fill="#8a2812" opacity="0.80"/>
<circle cx="369.58" cy="251.01" r="0.65" fill="#c07a20" opacity="0.58"/>
<circle cx="374.92" cy="251.37" r="0.55" fill="#a03018" opacity="0.64"/>
<circle cx="352.50" cy="247.33" r="0.65" fill="#c07a20" opacity="0.57"/>
<circle cx="396.91" cy="252.16" r="0.65" fill="#b03a1a" opacity="0.83"/>
<circle cx="401.23" cy="233.22" r="0.45" fill="#c8501a" opacity="0.80"/>
<circle cx="403.03" cy="237.66" r="0.45" fill="#8a2812" opacity="0.55"/>
<circle cx="414.21" cy="250.80" r="0.65" fill="#b03a1a" opacity="0.45"/>
<circle cx="432.70" cy="251.26" r="0.65" fill="#c07a20" opacity="0.80"/>
<circle cx="388.28" cy="237.15" r="0.45" fill="#a03018" opacity="0.67"/>
<circle cx="376.19" cy="242.94" r="0.45" fill="#b03a1a" opacity="0.67"/>
<circle cx="448.04" cy="237.42" r="0.45" fill="#c8501a" opacity="0.48"/>
<circle cx="434.37" cy="248.78" r="0.45" fill="#c8501a" opacity="0.68"/>
<circle cx="394.27" cy="248.35" r="0.65" fill="#b03a1a" opacity="0.60"/>
<circle cx="421.35" cy="236.76" r="0.55" fill="#c8501a" opacity="0.62"/>
<circle cx="387.79" cy="244.43" r="0.65" fill="#b03a1a" opacity="0.60"/>
<circle cx="409.44" cy="249.14" r="0.55" fill="#a03018" opacity="0.73"/>
<circle cx="458.62" cy="233.57" r="0.65" fill="#c8501a" opacity="0.69"/>
<circle cx="403.74" cy="245.02" r="0.55" fill="#b03a1a" opacity="0.59"/>
<circle cx="417.71" cy="239.52" r="0.45" fill="#c8501a" opacity="0.62"/>
<circle cx="419.48" cy="241.23" r="0.55" fill="#8a2812" opacity="0.61"/>
<circle cx="393.07" cy="243.51" r="0.55" fill="#c07a20" opacity="0.82"/>
<circle cx="410.27" cy="233.67" r="0.55" fill="#c8501a" opacity="0.61"/>
<circle cx="409.96" cy="240.07" r="0.65" fill="#b03a1a" opacity="0.55"/>
<circle cx="405.95" cy="241.41" r="0.45" fill="#c07a20" opacity="0.57"/>
<circle cx="443.71" cy="238.82" r="0.65" fill="#c8501a" opacity="0.76"/>
<circle cx="384.08" cy="244.36" r="0.55" fill="#8a2812" opacity="0.60"/>
<circle cx="364.83" cy="246.56" r="0.55" fill="#8a2812" opacity="0.68"/>
<circle cx="391.74" cy="242.52" r="0.65" fill="#a03018" opacity="0.72"/>
<circle cx="365.11" cy="250.85" r="0.55" fill="#8a2812" opacity="0.75"/>
<circle cx="391.82" cy="239.86" r="0.55" fill="#c8501a" opacity="0.42"/>
<circle cx="372.96" cy="234.06" r="0.55" fill="#a03018" opacity="0.54"/>
<circle cx="378.44" cy="250.80" r="0.65" fill="#8a2812" opacity="0.72"/>
<circle cx="369.25" cy="250.48" r="0.45" fill="#c8501a" opacity="0.53"/>
<circle cx="357.30" cy="231.92" r="0.65" fill="#b03a1a" opacity="0.68"/>
<circle cx="401.06" cy="252.95" r="0.65" fill="#8a2812" opacity="0.70"/>
<circle cx="366.70" cy="239.63" r="0.55" fill="#8a2812" opacity="0.62"/>
<circle cx="368.69" cy="234.75" r="0.65" fill="#c8501a" opacity="0.44"/>
<circle cx="427.64" cy="239.81" r="0.45" fill="#8a2812" opacity="0.81"/>
<circle cx="365.11" cy="251.20" r="0.65" fill="#b03a1a" opacity="0.72"/>
<circle cx="410.34" cy="232.54" r="0.55" fill="#c07a20" opacity="0.57"/>
<circle cx="423.67" cy="231.02" r="0.55" fill="#a03018" opacity="0.40"/>
<circle cx="397.31" cy="248.22" r="0.65" fill="#b03a1a" opacity="0.77"/>
<circle cx="367.45" cy="235.32" r="0.45" fill="#c8501a" opacity="0.55"/>
<circle cx="387.68" cy="239.15" r="0.65" fill="#c8501a" opacity="0.73"/>
<circle cx="390.45" cy="231.91" r="0.55" fill="#a03018" opacity="0.79"/>
<circle cx="389.48" cy="239.83" r="0.55" fill="#8a2812" opacity="0.72"/>
<circle cx="412.35" cy="249.03" r="0.45" fill="#c8501a" opacity="0.57"/>
<circle cx="421.53" cy="235.15" r="0.55" fill="#b03a1a" opacity="0.66"/>
<circle cx="430.23" cy="231.95" r="0.55" fill="#8a2812" opacity="0.73"/>
<circle cx="354.35" cy="243.21" r="0.45" fill="#c07a20" opacity="0.57"/>
<circle cx="397.10" cy="234.31" r="0.45" fill="#c8501a" opacity="0.65"/>
<circle cx="374.66" cy="250.90" r="0.65" fill="#8a2812" opacity="0.66"/>
<circle cx="352.78" cy="235.52" r="0.55" fill="#a03018" opacity="0.65"/>
<circle cx="319.02" cy="248.11" r="0.45" fill="#b03a1a" opacity="0.48"/>
<circle cx="384.88" cy="249.16" r="0.65" fill="#c07a20" opacity="0.43"/>
<circle cx="398.01" cy="245.02" r="0.45" fill="#8a2812" opacity="0.82"/>
<circle cx="432.54" cy="231.60" r="0.65" fill="#c8501a" opacity="0.45"/>
<circle cx="438.21" cy="242.57" r="0.45" fill="#b03a1a" opacity="0.43"/>
<circle cx="384.45" cy="240.19" r="0.45" fill="#a03018" opacity="0.40"/>
<circle cx="413.13" cy="238.02" r="0.65" fill="#b03a1a" opacity="0.54"/>
<circle cx="435.84" cy="247.72" r="0.55" fill="#a03018" opacity="0.71"/>
<circle cx="374.29" cy="242.31" r="0.45" fill="#c07a20" opacity="0.54"/>
<circle cx="395.35" cy="235.61" r="0.55" fill="#c8501a" opacity="0.43"/>
<circle cx="405.64" cy="238.23" r="0.45" fill="#c07a20" opacity="0.62"/>
<circle cx="449.89" cy="239.78" r="0.45" fill="#8a2812" opacity="0.75"/>
<circle cx="392.97" cy="247.43" r="0.65" fill="#c07a20" opacity="0.42"/>
<circle cx="411.06" cy="240.89" r="0.65" fill="#c07a20" opacity="0.84"/>
<circle cx="375.36" cy="249.82" r="0.45" fill="#a03018" opacity="0.57"/>
<circle cx="396.15" cy="251.70" r="0.65" fill="#a03018" opacity="0.60"/>
<circle cx="345.27" cy="232.23" r="0.45" fill="#8a2812" opacity="0.64"/>
<circle cx="353.97" cy="245.01" r="0.65" fill="#c8501a" opacity="0.61"/>
<circle cx="398.24" cy="252.78" r="0.45" fill="#c07a20" opacity="0.51"/>
<circle cx="378.91" cy="250.47" r="0.55" fill="#c8501a" opacity="0.53"/>
<circle cx="416.45" cy="243.49" r="0.45" fill="#c07a20" opacity="0.43"/>
<circle cx="387.34" cy="250.57" r="0.45" fill="#b03a1a" opacity="0.77"/>
<circle cx="381.20" cy="232.99" r="0.65" fill="#c8501a" opacity="0.68"/>
<circle cx="374.29" cy="238.64" r="0.65" fill="#8a2812" opacity="0.83"/>
<circle cx="419.34" cy="235.72" r="0.45" fill="#c8501a" opacity="0.71"/>
<circle cx="381.36" cy="233.61" r="0.65" fill="#8a2812" opacity="0.68"/>
<circle cx="349.83" cy="232.55" r="0.65" fill="#c8501a" opacity="0.72"/>
<circle cx="410.32" cy="234.01" r="0.45" fill="#b03a1a" opacity="0.56"/>
<circle cx="428.32" cy="244.03" r="0.45" fill="#8a2812" opacity="0.79"/>
<circle cx="422.98" cy="252.01" r="0.45" fill="#c07a20" opacity="0.73"/>
<circle cx="408.05" cy="232.44" r="0.55" fill="#c07a20" opacity="0.53"/>
<circle cx="422.07" cy="240.26" r="0.65" fill="#c8501a" opacity="0.80"/>
<circle cx="397.09" cy="251.17" r="0.55" fill="#b03a1a" opacity="0.41"/>
<circle cx="421.26" cy="232.63" r="0.55" fill="#c8501a" opacity="0.63"/>
<circle cx="383.97" cy="232.37" r="0.45" fill="#c8501a" opacity="0.85"/>
<circle cx="417.69" cy="253.45" r="0.55" fill="#b03a1a" opacity="0.70"/>
<circle cx="391.54" cy="242.19" r="0.65" fill="#c8501a" opacity="0.58"/>
<circle cx="435.88" cy="234.75" r="0.65" fill="#a03018" opacity="0.81"/>
<circle cx="374.76" cy="239.35" r="0.45" fill="#8a2812" opacity="0.45"/>
<circle cx="370.76" cy="252.92" r="0.55" fill="#b03a1a" opacity="0.85"/>
<circle cx="400.67" cy="236.35" r="0.65" fill="#b03a1a" opacity="0.63"/>
<circle cx="378.43" cy="241.34" r="0.65" fill="#b03a1a" opacity="0.47"/>
<circle cx="370.85" cy="234.46" r="0.65" fill="#b03a1a" opacity="0.73"/>
<circle cx="363.56" cy="244.92" r="0.45" fill="#c07a20" opacity="0.62"/>
<circle cx="366.17" cy="235.83" r="0.45" fill="#a03018" opacity="0.70"/>
<circle cx="399.90" cy="253.09" r="0.55" fill="#b03a1a" opacity="0.68"/>
<circle cx="417.45" cy="233.63" r="0.65" fill="#8a2812" opacity="0.43"/>
<circle cx="393.52" cy="239.99" r="0.65" fill="#c8501a" opacity="0.44"/>
<circle cx="362.64" cy="241.89" r="0.65" fill="#c8501a" opacity="0.74"/>
<circle cx="385.51" cy="240.15" r="0.45" fill="#b03a1a" opacity="0.71"/>
<circle cx="359.73" cy="252.68" r="0.55" fill="#8a2812" opacity="0.49"/>
<circle cx="440.01" cy="235.13" r="0.65" fill="#b03a1a" opacity="0.74"/>
<circle cx="417.15" cy="233.02" r="0.65" fill="#a03018" opacity="0.44"/>
<circle cx="367.54" cy="236.63" r="0.55" fill="#b03a1a" opacity="0.47"/>
<circle cx="386.09" cy="232.89" r="0.55" fill="#c8501a" opacity="0.69"/>
<circle cx="375.50" cy="238.20" r="0.45" fill="#b03a1a" opacity="0.83"/>
<circle cx="418.25" cy="250.53" r="0.55" fill="#b03a1a" opacity="0.55"/>
<circle cx="428.18" cy="240.83" r="0.65" fill="#c07a20" opacity="0.75"/>
<circle cx="406.10" cy="239.74" r="0.65" fill="#a03018" opacity="0.78"/>
<circle cx="339.90" cy="249.56" r="0.45" fill="#c07a20" opacity="0.72"/>
<circle cx="374.68" cy="243.59" r="0.65" fill="#c07a20" opacity="0.61"/>
<circle cx="385.39" cy="247.95" r="0.65" fill="#b03a1a" opacity="0.54"/>
<circle cx="456.79" cy="246.72" r="0.45" fill="#a03018" opacity="0.65"/>
<circle cx="354.94" cy="252.39" r="0.55" fill="#8a2812" opacity="0.44"/>
<circle cx="444.25" cy="235.48" r="0.65" fill="#a03018" opacity="0.67"/>
<circle cx="404.32" cy="251.79" r="0.55" fill="#8a2812" opacity="0.45"/>
<circle cx="409.43" cy="253.09" r="0.45" fill="#b03a1a" opacity="0.56"/>
<circle cx="421.22" cy="243.62" r="0.55" fill="#8a2812" opacity="0.43"/>
<circle cx="396.80" cy="233.01" r="0.65" fill="#c8501a" opacity="0.74"/>
<circle cx="415.41" cy="240.61" r="0.65" fill="#8a2812" opacity="0.75"/>
<circle cx="401.07" cy="236.22" r="0.45" fill="#a03018" opacity="0.66"/>
<circle cx="348.86" cy="252.00" r="0.45" fill="#b03a1a" opacity="0.84"/>
<circle cx="402.04" cy="246.42" r="0.65" fill="#a03018" opacity="0.43"/>
<circle cx="393.35" cy="242.85" r="0.65" fill="#8a2812" opacity="0.62"/>
<circle cx="371.62" cy="232.77" r="0.45" fill="#c07a20" opacity="0.65"/>
<circle cx="405.95" cy="244.79" r="0.55" fill="#a03018" opacity="0.82"/>
<circle cx="425.32" cy="244.05" r="0.45" fill="#b03a1a" opacity="0.57"/>
<circle cx="367.29" cy="238.89" r="0.55" fill="#c8501a" opacity="0.58"/>
<circle cx="378.37" cy="251.67" r="0.45" fill="#c8501a" opacity="0.71"/>
<circle cx="409.83" cy="243.92" r="0.45" fill="#a03018" opacity="0.48"/>
<circle cx="395.94" cy="248.18" r="0.55" fill="#c8501a" opacity="0.50"/>
<circle cx="362.41" cy="251.50" r="0.45" fill="#c07a20" opacity="0.59"/>
<circle cx="421.75" cy="253.33" r="0.55" fill="#c8501a" opacity="0.81"/>
<circle cx="400.32" cy="232.53" r="0.45" fill="#b03a1a" opacity="0.62"/>
<circle cx="364.32" cy="251.58" r="0.45" fill="#c8501a" opacity="0.49"/>
<circle cx="378.84" cy="233.70" r="0.45" fill="#8a2812" opacity="0.82"/>
<circle cx="357.81" cy="237.91" r="0.65" fill="#c8501a" opacity="0.46"/>
<circle cx="393.33" cy="243.77" r="0.55" fill="#a03018" opacity="0.83"/>
<circle cx="388.75" cy="238.43" r="0.45" fill="#a03018" opacity="0.53"/>
<circle cx="380.03" cy="250.04" r="0.45" fill="#c07a20" opacity="0.49"/>
<circle cx="368.31" cy="234.66" r="0.55" fill="#c8501a" opacity="0.73"/>
<circle cx="330.90" cy="235.94" r="0.65" fill="#c07a20" opacity="0.69"/>
<circle cx="381.09" cy="231.34" r="0.45" fill="#8a2812" opacity="0.55"/>
<circle cx="425.17" cy="247.71" r="0.55" fill="#c8501a" opacity="0.46"/>
<circle cx="403.71" cy="240.67" r="0.55" fill="#a03018" opacity="0.52"/>
<circle cx="423.18" cy="251.05" r="0.55" fill="#c8501a" opacity="0.63"/>
<circle cx="345.24" cy="246.46" r="0.55" fill="#8a2812" opacity="0.65"/>
<circle cx="387.45" cy="242.57" r="0.65" fill="#c07a20" opacity="0.40"/>
<circle cx="387.31" cy="243.92" r="0.55" fill="#a03018" opacity="0.43"/>
<circle cx="367.92" cy="235.39" r="0.45" fill="#a03018" opacity="0.59"/>
<circle cx="398.92" cy="242.02" r="0.45" fill="#c07a20" opacity="0.53"/>
<circle cx="356.81" cy="235.84" r="0.55" fill="#c07a20" opacity="0.84"/>
<circle cx="471.07" cy="242.52" r="0.55" fill="#8a2812" opacity="0.76"/>
<circle cx="412.33" cy="247.35" r="0.55" fill="#b03a1a" opacity="0.79"/>
<circle cx="386.40" cy="238.95" r="0.45" fill="#b03a1a" opacity="0.62"/>
<circle cx="411.43" cy="234.45" r="0.55" fill="#c07a20" opacity="0.61"/>
<circle cx="425.79" cy="237.00" r="0.55" fill="#b03a1a" opacity="0.55"/>
<circle cx="394.51" cy="237.82" r="0.45" fill="#c07a20" opacity="0.55"/>
<circle cx="385.59" cy="250.41" r="0.45" fill="#a03018" opacity="0.61"/>
<circle cx="436.43" cy="235.48" r="0.55" fill="#a03018" opacity="0.51"/>
<circle cx="353.85" cy="232.17" r="0.55" fill="#8a2812" opacity="0.64"/>
<circle cx="371.05" cy="236.30" r="0.45" fill="#c07a20" opacity="0.45"/>
<circle cx="374.73" cy="248.15" r="0.65" fill="#a03018" opacity="0.82"/>
<circle cx="405.08" cy="231.28" r="0.45" fill="#b03a1a" opacity="0.48"/>
<circle cx="446.86" cy="232.30" r="0.55" fill="#b03a1a" opacity="0.84"/>
<circle cx="397.98" cy="241.46" r="0.55" fill="#a03018" opacity="0.79"/>
<circle cx="368.72" cy="247.72" r="0.65" fill="#c07a20" opacity="0.45"/>
<circle cx="385.36" cy="238.10" r="0.55" fill="#b03a1a" opacity="0.54"/>
<circle cx="389.75" cy="239.97" r="0.55" fill="#c8501a" opacity="0.42"/>
<circle cx="330.82" cy="250.63" r="0.45" fill="#a03018" opacity="0.60"/>
<circle cx="379.02" cy="251.20" r="0.65" fill="#c07a20" opacity="0.43"/>
<circle cx="408.63" cy="253.42" r="0.55" fill="#c07a20" opacity="0.50"/>
<circle cx="374.86" cy="232.16" r="0.65" fill="#c8501a" opacity="0.58"/>
<circle cx="405.89" cy="248.14" r="0.65" fill="#8a2812" opacity="0.62"/>
<circle cx="369.70" cy="231.57" r="0.55" fill="#a03018" opacity="0.76"/>
<circle cx="389.78" cy="248.03" r="0.65" fill="#8a2812" opacity="0.83"/>
<circle cx="380.64" cy="240.89" r="0.55" fill="#b03a1a" opacity="0.56"/>
<circle cx="439.27" cy="237.76" r="0.65" fill="#c8501a" opacity="0.56"/>
<circle cx="390.70" cy="239.95" r="0.45" fill="#c07a20" opacity="0.75"/>
<circle cx="413.02" cy="244.75" r="0.45" fill="#c8501a" opacity="0.41"/>
<circle cx="404.32" cy="237.55" r="0.45" fill="#8a2812" opacity="0.68"/>
<circle cx="360.74" cy="249.26" r="0.55" fill="#c8501a" opacity="0.72"/>
<circle cx="389.04" cy="243.35" r="0.65" fill="#a03018" opacity="0.54"/>
<circle cx="406.35" cy="241.65" r="0.65" fill="#a03018" opacity="0.56"/>
<circle cx="406.51" cy="242.07" r="0.55" fill="#a03018" opacity="0.43"/>
<circle cx="427.00" cy="237.13" r="0.65" fill="#c8501a" opacity="0.71"/>
<circle cx="332.77" cy="236.62" r="0.45" fill="#b03a1a" opacity="0.82"/>
<circle cx="348.35" cy="239.20" r="0.65" fill="#c07a20" opacity="0.48"/>
<circle cx="431.16" cy="249.38" r="0.65" fill="#8a2812" opacity="0.52"/>
<circle cx="376.92" cy="253.45" r="0.55" fill="#c8501a" opacity="0.41"/>
<circle cx="348.61" cy="248.92" r="0.55" fill="#a03018" opacity="0.53"/>
<circle cx="379.02" cy="243.44" r="0.65" fill="#a03018" opacity="0.81"/>
<circle cx="454.42" cy="236.56" r="0.65" fill="#8a2812" opacity="0.59"/>
<circle cx="399.11" cy="237.51" r="0.45" fill="#8a2812" opacity="0.64"/>
<circle cx="406.12" cy="232.26" r="0.45" fill="#c8501a" opacity="0.61"/>
<circle cx="396.63" cy="244.00" r="0.45" fill="#a03018" opacity="0.41"/>
<circle cx="408.59" cy="238.00" r="0.65" fill="#c8501a" opacity="0.64"/>
<circle cx="414.60" cy="250.95" r="0.55" fill="#8a2812" opacity="0.81"/>
<circle cx="435.91" cy="233.59" r="0.65" fill="#b03a1a" opacity="0.42"/>
<circle cx="400.51" cy="249.53" r="0.55" fill="#8a2812" opacity="0.72"/>
<circle cx="422.54" cy="235.20" r="0.55" fill="#c8501a" opacity="0.53"/>
<circle cx="413.32" cy="247.14" r="0.45" fill="#c07a20" opacity="0.43"/>
<circle cx="386.42" cy="242.95" r="0.45" fill="#b03a1a" opacity="0.41"/>
<circle cx="354.34" cy="244.33" r="0.45" fill="#a03018" opacity="0.49"/>
<circle cx="416.56" cy="241.09" r="0.65" fill="#c07a20" opacity="0.42"/>
<circle cx="396.44" cy="233.93" r="0.55" fill="#c07a20" opacity="0.50"/>
<circle cx="375.30" cy="234.67" r="0.65" fill="#8a2812" opacity="0.79"/>
<circle cx="358.45" cy="237.23" r="0.45" fill="#a03018" opacity="0.80"/>
<circle cx="406.33" cy="235.05" r="0.45" fill="#c07a20" opacity="0.60"/>
</g>
<line x1="316.90" y1="238.80" x2="474.00" y2="238.80" stroke="#d4d4d4" stroke-width="1.1" />
<text font-size="4.2" fill="#eee" textLength="13.6" lengthAdjust="spacingAndGlyphs" x="295.1" y="248.5" >500 µm</text>
<rect x="296.20" y="249.90" width="10.90" height="1.10" fill="#fff" />
<text font-size="8.4" fill="#222" textLength="31" lengthAdjust="spacingAndGlyphs" transform="translate(288,294.4) rotate(-90)" >Intensity</text>
<line x1="301.60" y1="257.80" x2="301.60" y2="301.50" stroke="#7a7a7a" stroke-width="0.55" />
<line x1="311.90" y1="257.80" x2="311.90" y2="301.50" stroke="#7a7a7a" stroke-width="0.55" />
<line x1="322.20" y1="257.80" x2="322.20" y2="301.50" stroke="#7a7a7a" stroke-width="0.55" />
<line x1="332.50" y1="257.80" x2="332.50" y2="301.50" stroke="#7a7a7a" stroke-width="0.55" />
<line x1="342.80" y1="257.80" x2="342.80" y2="301.50" stroke="#7a7a7a" stroke-width="0.55" />
<line x1="353.10" y1="257.80" x2="353.10" y2="301.50" stroke="#7a7a7a" stroke-width="0.55" />
<line x1="363.40" y1="257.80" x2="363.40" y2="301.50" stroke="#7a7a7a" stroke-width="0.55" />
<line x1="373.70" y1="257.80" x2="373.70" y2="301.50" stroke="#7a7a7a" stroke-width="0.55" />
<line x1="384.00" y1="257.80" x2="384.00" y2="301.50" stroke="#7a7a7a" stroke-width="0.55" />
<line x1="301.60" y1="268.50" x2="384.00" y2="268.50" stroke="#7a7a7a" stroke-width="0.55" />
<line x1="301.60" y1="285.00" x2="384.00" y2="285.00" stroke="#7a7a7a" stroke-width="0.55" />
<text font-size="3.4" fill="#333" text-anchor="end" x="300.3" y="269.8" >200</text>
<text font-size="3.4" fill="#333" text-anchor="end" x="300.3" y="286.3" >100</text>
<g clip-path="url(#cInt)">
<rect x="301.60" y="296.50" width="78.00" height="5.20" fill="#f7b6ee" opacity="0.6"/>
<rect x="338.00" y="279.00" width="30.00" height="22.00" fill="#f6a6ea" opacity="0.35"/>
<path d="M304.4 301.5 L305.5 296.8 L306.5 301.5 Z M306.1 301.5 L306.7 296.7 L307.4 301.5 Z M307.1 301.5 L307.7 298.3 L308.4 301.5 Z M308.3 301.5 L308.9 294.2 L309.5 301.5 Z M309.1 301.5 L309.7 293.6 L310.3 301.5 Z M315.4 301.5 L316.0 291.2 L316.6 301.5 Z M316.3 301.5 L316.8 286.8 L317.3 301.5 Z M316.9 301.5 L317.7 282.5 L318.5 301.5 Z M320.6 301.5 L321.3 294.3 L322.0 301.5 Z M321.0 301.5 L322.0 298.5 L323.1 301.5 Z M323.6 301.5 L324.5 297.5 L325.3 301.5 Z M326.8 301.5 L327.9 295.7 L328.9 301.5 Z M328.4 301.5 L329.1 283.2 L329.8 301.5 Z M328.8 301.5 L329.9 270.2 L331.0 301.5 Z M330.8 301.5 L331.6 285.4 L332.5 301.5 Z M331.5 301.5 L332.6 289.7 L333.6 301.5 Z M333.5 301.5 L334.4 259.6 L335.3 301.5 Z M334.1 301.5 L335.1 287.7 L336.1 301.5 Z M337.5 301.5 L338.3 268.6 L339.1 301.5 Z M338.1 301.5 L339.2 281.2 L340.3 301.5 Z M339.8 301.5 L340.3 282.4 L340.9 301.5 Z M341.5 301.5 L342.4 266.8 L343.3 301.5 Z M342.9 301.5 L343.6 269.6 L344.2 301.5 Z M343.6 301.5 L344.7 283.8 L345.8 301.5 Z M345.1 301.5 L345.8 275.4 L346.4 301.5 Z M346.9 301.5 L347.8 282.1 L348.7 301.5 Z M348.0 301.5 L349.0 264.1 L350.0 301.5 Z M350.3 301.5 L351.3 287.3 L352.3 301.5 Z M351.4 301.5 L352.3 269.0 L353.2 301.5 Z M352.7 301.5 L353.5 271.1 L354.2 301.5 Z M354.1 301.5 L354.6 269.0 L355.2 301.5 Z M354.7 301.5 L355.6 285.9 L356.5 301.5 Z M355.8 301.5 L356.3 285.7 L356.9 301.5 Z M356.7 301.5 L357.2 286.6 L357.7 301.5 Z M357.5 301.5 L358.1 273.9 L358.8 301.5 Z M358.1 301.5 L358.8 284.2 L359.6 301.5 Z M359.2 301.5 L360.0 290.1 L360.9 301.5 Z M360.0 301.5 L361.1 274.2 L362.2 301.5 Z M362.3 301.5 L363.1 287.9 L364.0 301.5 Z M365.0 301.5 L365.5 262.0 L366.0 301.5 Z M365.6 301.5 L366.5 287.9 L367.4 301.5 Z M366.7 301.5 L367.4 285.7 L368.1 301.5 Z M370.4 301.5 L371.4 294.4 L372.5 301.5 Z M371.4 301.5 L372.3 296.4 L373.2 301.5 Z M373.7 301.5 L374.4 291.6 L375.1 301.5 Z M375.0 301.5 L375.6 295.0 L376.2 301.5 Z M380.3 301.5 L381.0 299.8 L381.8 301.5 Z M381.9 301.5 L382.9 299.9 L384.0 301.5 Z M331.1 301.5 L332.1 258.5 L333.1 301.5 Z M333.7 301.5 L334.7 261.5 L335.7 301.5 Z M338.9 301.5 L339.9 263.5 L340.9 301.5 Z M341.5 301.5 L342.5 258.0 L343.5 301.5 Z M347.5 301.5 L348.5 260.5 L349.5 301.5 Z M351.9 301.5 L352.9 261.5 L353.9 301.5 Z M355.3 301.5 L356.3 264.5 L357.3 301.5 Z M314.4 301.5 L315.4 279.0 L316.4 301.5 Z M317.3 301.5 L318.3 280.5 L319.3 301.5 Z M324.2 301.5 L325.2 284.0 L326.2 301.5 Z M362.5 301.5 L363.5 277.5 L364.5 301.5 Z M365.5 301.5 L366.5 279.5 L367.5 301.5 Z M369.5 301.5 L370.5 285.0 L371.5 301.5 Z " fill="#ee7fe0" fill-opacity="0.6" stroke="#e86fdc" stroke-width="0.3" stroke-opacity="0.7"/>
<path d="M306.7 301 L306.7 296.9 M309.7 301 L309.7 293.8 M316.0 301 L316.0 291.5 M317.7 301 L317.7 283.0 M321.3 301 L321.3 294.5 M322.0 301 L322.0 298.6 M327.9 301 L327.9 295.9 M329.1 301 L329.1 283.8 M329.9 301 L329.9 271.1 M332.6 301 L332.6 290.1 M335.1 301 L335.1 288.1 M338.3 301 L338.3 269.6 M340.3 301 L340.3 283.0 M343.6 301 L343.6 270.5 M352.3 301 L352.3 270.0 M354.6 301 L354.6 269.9 M356.3 301 L356.3 286.2 M357.2 301 L357.2 287.0 M358.8 301 L358.8 284.8 M360.0 301 L360.0 290.4 M363.1 301 L363.1 288.3 M365.5 301 L365.5 263.2 M371.4 301 L371.4 294.6 M372.3 301 L372.3 296.6 M381.0 301 L381.0 299.8 M332.1 301 L332.1 259.8 M334.7 301 L334.7 262.7 M339.9 301 L339.9 264.6 M342.5 301 L342.5 259.3 M348.5 301 L348.5 261.7 M352.9 301 L352.9 262.7 M356.3 301 L356.3 265.6 M315.4 301 L315.4 279.7 M318.3 301 L318.3 281.1 M325.2 301 L325.2 284.5 M363.5 301 L363.5 278.2 M366.5 301 L366.5 280.2 M370.5 301 L370.5 285.5 " fill="none" stroke="#9a48d0" stroke-width="0.35" stroke-opacity="0.75"/>
</g>
<line x1="301.60" y1="300.90" x2="379.00" y2="300.90" stroke="#e030e0" stroke-width="1.4" />
<line x1="301.60" y1="301.50" x2="349.00" y2="301.50" stroke="#5a3ad8" stroke-width="0.6" />
<text font-size="8.8" fill="#222" textLength="24" lengthAdjust="spacingAndGlyphs" x="328.3" y="308.4" >Center</text>
<rect x="391.50" y="254.80" width="47.40" height="47.00" fill="#0c0202" />
<rect x="439.00" y="254.80" width="48.20" height="47.00" fill="#070101" />
<g clip-path="url(#cCen)"><g filter="url(#b0)">
<rect x="391.50" y="254.80" width="15.80" height="17.00" fill="#360808" />
<rect x="423.50" y="254.80" width="15.50" height="9.00" fill="#300707" />
<rect x="405.70" y="271.70" width="12.00" height="15.80" fill="#300707" />
<rect x="423.50" y="271.70" width="15.50" height="15.80" fill="#340808" />
<rect x="391.50" y="287.50" width="16.20" height="14.50" fill="#380808" />
<rect x="415.60" y="287.50" width="23.40" height="14.50" fill="#240505" />
<circle cx="394.11" cy="266.53" r="0.75" fill="#b02a12" opacity="0.74"/>
<circle cx="394.91" cy="268.27" r="0.75" fill="#d8581a" opacity="0.75"/>
<circle cx="395.23" cy="254.85" r="0.6" fill="#c8481a" opacity="0.72"/>
<circle cx="393.79" cy="267.57" r="0.5" fill="#c8401a" opacity="0.72"/>
<circle cx="407.23" cy="267.90" r="0.6" fill="#c8481a" opacity="0.73"/>
<circle cx="406.62" cy="263.98" r="0.75" fill="#c8401a" opacity="0.81"/>
<circle cx="406.32" cy="255.19" r="0.75" fill="#c8401a" opacity="0.60"/>
<circle cx="406.16" cy="262.50" r="0.75" fill="#b02a12" opacity="0.71"/>
<circle cx="393.89" cy="266.11" r="0.6" fill="#d8581a" opacity="0.58"/>
<circle cx="394.62" cy="266.25" r="0.75" fill="#c8481a" opacity="0.95"/>
<circle cx="392.62" cy="264.32" r="0.75" fill="#d08a1a" opacity="0.63"/>
<circle cx="406.09" cy="269.89" r="0.6" fill="#b02a12" opacity="0.70"/>
<circle cx="398.63" cy="261.36" r="0.6" fill="#d08a1a" opacity="0.66"/>
<circle cx="404.68" cy="257.50" r="0.75" fill="#d08a1a" opacity="0.55"/>
<circle cx="392.61" cy="264.99" r="0.75" fill="#d8581a" opacity="0.78"/>
<circle cx="396.53" cy="271.46" r="0.5" fill="#d8581a" opacity="0.82"/>
<circle cx="401.40" cy="268.97" r="0.6" fill="#b02a12" opacity="0.85"/>
<circle cx="406.19" cy="258.98" r="0.5" fill="#c8401a" opacity="0.92"/>
<circle cx="394.25" cy="262.09" r="0.5" fill="#c8401a" opacity="0.82"/>
<circle cx="405.70" cy="271.09" r="0.6" fill="#d8581a" opacity="0.93"/>
<circle cx="400.83" cy="269.81" r="0.6" fill="#c8481a" opacity="0.70"/>
<circle cx="395.41" cy="269.69" r="0.5" fill="#c8481a" opacity="0.58"/>
<circle cx="404.22" cy="267.96" r="0.6" fill="#c8401a" opacity="0.88"/>
<circle cx="392.32" cy="259.19" r="0.6" fill="#c8401a" opacity="0.72"/>
<circle cx="394.20" cy="255.98" r="0.6" fill="#d8581a" opacity="0.94"/>
<circle cx="403.28" cy="262.94" r="0.6" fill="#d8581a" opacity="0.93"/>
<circle cx="399.80" cy="267.19" r="0.5" fill="#d8581a" opacity="0.91"/>
<circle cx="397.28" cy="257.42" r="0.6" fill="#c8481a" opacity="0.86"/>
<circle cx="399.15" cy="270.14" r="0.6" fill="#b02a12" opacity="0.61"/>
<circle cx="400.80" cy="257.17" r="0.75" fill="#c8401a" opacity="0.70"/>
<circle cx="393.49" cy="266.97" r="0.6" fill="#c8481a" opacity="0.68"/>
<circle cx="395.45" cy="271.05" r="0.6" fill="#b02a12" opacity="0.82"/>
<circle cx="403.38" cy="268.61" r="0.5" fill="#d8581a" opacity="0.61"/>
<circle cx="397.77" cy="257.97" r="0.75" fill="#d08a1a" opacity="0.86"/>
<circle cx="392.64" cy="256.82" r="0.6" fill="#d8581a" opacity="0.67"/>
<circle cx="406.39" cy="261.54" r="0.5" fill="#c8481a" opacity="0.62"/>
<circle cx="394.41" cy="261.22" r="0.75" fill="#c8481a" opacity="0.85"/>
<circle cx="401.04" cy="263.38" r="0.75" fill="#c8401a" opacity="0.87"/>
<circle cx="391.62" cy="262.69" r="0.5" fill="#d08a1a" opacity="0.86"/>
<circle cx="394.27" cy="266.90" r="0.6" fill="#c8481a" opacity="0.68"/>
<circle cx="424.15" cy="258.30" r="0.6" fill="#b02a12" opacity="0.88"/>
<circle cx="435.95" cy="259.21" r="0.75" fill="#c8401a" opacity="0.77"/>
<circle cx="424.43" cy="260.15" r="0.6" fill="#c8481a" opacity="0.67"/>
<circle cx="434.34" cy="259.53" r="0.75" fill="#d8581a" opacity="0.58"/>
<circle cx="436.13" cy="263.59" r="0.6" fill="#c8401a" opacity="0.68"/>
<circle cx="438.89" cy="255.77" r="0.5" fill="#c8401a" opacity="0.80"/>
<circle cx="436.02" cy="263.60" r="0.75" fill="#c8481a" opacity="0.93"/>
<circle cx="434.04" cy="261.15" r="0.6" fill="#c8481a" opacity="0.76"/>
<circle cx="437.07" cy="255.43" r="0.5" fill="#c8401a" opacity="0.81"/>
<circle cx="424.15" cy="257.28" r="0.75" fill="#d08a1a" opacity="0.84"/>
<circle cx="430.57" cy="256.93" r="0.6" fill="#b02a12" opacity="0.74"/>
<circle cx="433.29" cy="263.47" r="0.5" fill="#c8401a" opacity="0.74"/>
<circle cx="431.12" cy="261.25" r="0.5" fill="#d08a1a" opacity="0.80"/>
<circle cx="435.26" cy="260.81" r="0.75" fill="#b02a12" opacity="0.65"/>
<circle cx="437.71" cy="258.27" r="0.75" fill="#d08a1a" opacity="0.88"/>
<circle cx="438.44" cy="263.70" r="0.5" fill="#d8581a" opacity="0.68"/>
<circle cx="428.33" cy="258.32" r="0.5" fill="#c8401a" opacity="0.77"/>
<circle cx="424.73" cy="257.52" r="0.6" fill="#d08a1a" opacity="0.94"/>
<circle cx="438.86" cy="256.30" r="0.6" fill="#d8581a" opacity="0.82"/>
<circle cx="429.27" cy="260.04" r="0.5" fill="#b02a12" opacity="0.58"/>
<circle cx="406.04" cy="279.83" r="0.5" fill="#c8481a" opacity="0.63"/>
<circle cx="412.88" cy="276.08" r="0.6" fill="#d8581a" opacity="0.93"/>
<circle cx="411.30" cy="278.60" r="0.75" fill="#b02a12" opacity="0.82"/>
<circle cx="413.71" cy="281.52" r="0.5" fill="#d8581a" opacity="0.94"/>
<circle cx="408.28" cy="277.24" r="0.75" fill="#b02a12" opacity="0.56"/>
<circle cx="411.71" cy="272.32" r="0.75" fill="#d08a1a" opacity="0.83"/>
<circle cx="408.58" cy="271.82" r="0.75" fill="#d8581a" opacity="0.59"/>
<circle cx="409.41" cy="278.87" r="0.5" fill="#b02a12" opacity="0.62"/>
<circle cx="412.55" cy="286.11" r="0.6" fill="#c8481a" opacity="0.89"/>
<circle cx="409.40" cy="278.29" r="0.75" fill="#d8581a" opacity="0.64"/>
<circle cx="415.33" cy="285.03" r="0.6" fill="#c8401a" opacity="0.81"/>
<circle cx="406.58" cy="278.59" r="0.75" fill="#d8581a" opacity="0.61"/>
<circle cx="411.67" cy="280.02" r="0.75" fill="#c8481a" opacity="0.75"/>
<circle cx="413.85" cy="282.38" r="0.5" fill="#b02a12" opacity="0.61"/>
<circle cx="409.16" cy="281.81" r="0.5" fill="#c8401a" opacity="0.82"/>
<circle cx="407.94" cy="273.25" r="0.5" fill="#b02a12" opacity="0.66"/>
<circle cx="406.41" cy="272.29" r="0.6" fill="#b02a12" opacity="0.82"/>
<circle cx="413.54" cy="274.20" r="0.5" fill="#d8581a" opacity="0.92"/>
<circle cx="412.16" cy="278.15" r="0.75" fill="#d8581a" opacity="0.84"/>
<circle cx="411.99" cy="272.94" r="0.5" fill="#d8581a" opacity="0.75"/>
<circle cx="414.43" cy="281.29" r="0.75" fill="#d8581a" opacity="0.56"/>
<circle cx="410.12" cy="279.26" r="0.6" fill="#c8401a" opacity="0.91"/>
<circle cx="413.85" cy="275.13" r="0.75" fill="#c8481a" opacity="0.76"/>
<circle cx="416.60" cy="287.03" r="0.6" fill="#d8581a" opacity="0.93"/>
<circle cx="416.94" cy="284.24" r="0.5" fill="#b02a12" opacity="0.62"/>
<circle cx="408.88" cy="272.10" r="0.6" fill="#d8581a" opacity="0.62"/>
<circle cx="417.39" cy="279.61" r="0.6" fill="#d8581a" opacity="0.64"/>
<circle cx="411.88" cy="276.22" r="0.6" fill="#b02a12" opacity="0.91"/>
<circle cx="427.22" cy="281.17" r="0.6" fill="#c8481a" opacity="0.82"/>
<circle cx="436.93" cy="280.75" r="0.5" fill="#d08a1a" opacity="0.93"/>
<circle cx="435.21" cy="287.25" r="0.75" fill="#d8581a" opacity="0.85"/>
<circle cx="426.80" cy="280.11" r="0.6" fill="#c8481a" opacity="0.67"/>
<circle cx="426.00" cy="282.16" r="0.75" fill="#d08a1a" opacity="0.86"/>
<circle cx="435.15" cy="281.98" r="0.6" fill="#d8581a" opacity="0.72"/>
<circle cx="429.36" cy="279.44" r="0.6" fill="#c8401a" opacity="0.77"/>
<circle cx="430.61" cy="272.26" r="0.6" fill="#c8481a" opacity="0.73"/>
<circle cx="428.18" cy="273.90" r="0.5" fill="#d8581a" opacity="0.70"/>
<circle cx="429.60" cy="271.76" r="0.75" fill="#c8481a" opacity="0.67"/>
<circle cx="436.40" cy="278.93" r="0.6" fill="#d8581a" opacity="0.90"/>
<circle cx="432.08" cy="283.79" r="0.75" fill="#c8401a" opacity="0.56"/>
<circle cx="437.70" cy="273.79" r="0.6" fill="#d08a1a" opacity="0.69"/>
<circle cx="432.22" cy="278.78" r="0.75" fill="#c8401a" opacity="0.90"/>
<circle cx="435.15" cy="277.62" r="0.6" fill="#d08a1a" opacity="0.87"/>
<circle cx="437.89" cy="274.84" r="0.6" fill="#c8401a" opacity="0.85"/>
<circle cx="427.36" cy="273.75" r="0.6" fill="#c8401a" opacity="0.82"/>
<circle cx="428.08" cy="275.15" r="0.5" fill="#d8581a" opacity="0.75"/>
<circle cx="434.55" cy="275.14" r="0.75" fill="#b02a12" opacity="0.92"/>
<circle cx="431.60" cy="271.84" r="0.5" fill="#b02a12" opacity="0.57"/>
<circle cx="434.29" cy="278.24" r="0.5" fill="#c8481a" opacity="0.81"/>
<circle cx="423.83" cy="283.15" r="0.75" fill="#d08a1a" opacity="0.75"/>
<circle cx="431.83" cy="280.37" r="0.6" fill="#c8401a" opacity="0.80"/>
<circle cx="429.17" cy="277.17" r="0.6" fill="#d08a1a" opacity="0.84"/>
<circle cx="432.59" cy="278.64" r="0.5" fill="#c8401a" opacity="0.89"/>
<circle cx="437.41" cy="285.03" r="0.75" fill="#c8481a" opacity="0.85"/>
<circle cx="428.85" cy="274.14" r="0.5" fill="#b02a12" opacity="0.68"/>
<circle cx="428.59" cy="275.10" r="0.5" fill="#d08a1a" opacity="0.62"/>
<circle cx="425.85" cy="281.56" r="0.5" fill="#d8581a" opacity="0.77"/>
<circle cx="426.08" cy="281.87" r="0.75" fill="#d08a1a" opacity="0.60"/>
<circle cx="425.42" cy="282.77" r="0.5" fill="#c8481a" opacity="0.56"/>
<circle cx="435.59" cy="275.17" r="0.75" fill="#c8401a" opacity="0.65"/>
<circle cx="430.19" cy="284.16" r="0.75" fill="#c8401a" opacity="0.71"/>
<circle cx="438.37" cy="284.44" r="0.75" fill="#b02a12" opacity="0.90"/>
<circle cx="429.97" cy="280.82" r="0.5" fill="#d08a1a" opacity="0.86"/>
<circle cx="432.48" cy="274.58" r="0.75" fill="#c8401a" opacity="0.86"/>
<circle cx="395.66" cy="294.34" r="0.6" fill="#c8481a" opacity="0.88"/>
<circle cx="396.18" cy="292.88" r="0.6" fill="#b02a12" opacity="0.71"/>
<circle cx="404.48" cy="288.27" r="0.6" fill="#c8481a" opacity="0.59"/>
<circle cx="396.76" cy="299.00" r="0.75" fill="#d8581a" opacity="0.67"/>
<circle cx="397.83" cy="291.41" r="0.75" fill="#d08a1a" opacity="0.91"/>
<circle cx="392.29" cy="298.31" r="0.6" fill="#c8481a" opacity="0.83"/>
<circle cx="401.67" cy="294.37" r="0.75" fill="#b02a12" opacity="0.84"/>
<circle cx="392.26" cy="296.58" r="0.75" fill="#b02a12" opacity="0.72"/>
<circle cx="403.98" cy="287.77" r="0.75" fill="#d8581a" opacity="0.62"/>
<circle cx="395.03" cy="289.90" r="0.6" fill="#c8401a" opacity="0.82"/>
<circle cx="395.23" cy="296.93" r="0.6" fill="#d8581a" opacity="0.84"/>
<circle cx="400.06" cy="292.94" r="0.6" fill="#c8481a" opacity="0.91"/>
<circle cx="394.44" cy="292.85" r="0.5" fill="#b02a12" opacity="0.70"/>
<circle cx="406.12" cy="296.95" r="0.6" fill="#c8401a" opacity="0.90"/>
<circle cx="395.49" cy="301.95" r="0.6" fill="#c8481a" opacity="0.70"/>
<circle cx="407.32" cy="289.93" r="0.6" fill="#c8401a" opacity="0.80"/>
<circle cx="395.92" cy="291.37" r="0.75" fill="#d8581a" opacity="0.87"/>
<circle cx="405.63" cy="300.46" r="0.6" fill="#d8581a" opacity="0.75"/>
<circle cx="402.87" cy="294.95" r="0.5" fill="#d08a1a" opacity="0.70"/>
<circle cx="406.54" cy="298.66" r="0.75" fill="#d08a1a" opacity="0.57"/>
<circle cx="403.05" cy="298.44" r="0.5" fill="#d08a1a" opacity="0.59"/>
<circle cx="399.17" cy="288.58" r="0.6" fill="#c8401a" opacity="0.62"/>
<circle cx="400.94" cy="296.96" r="0.75" fill="#b02a12" opacity="0.72"/>
<circle cx="397.85" cy="298.06" r="0.5" fill="#b02a12" opacity="0.69"/>
<circle cx="402.87" cy="299.61" r="0.6" fill="#d08a1a" opacity="0.80"/>
<circle cx="396.56" cy="297.68" r="0.6" fill="#d8581a" opacity="0.76"/>
<circle cx="402.05" cy="296.64" r="0.5" fill="#d8581a" opacity="0.88"/>
<circle cx="396.01" cy="298.86" r="0.5" fill="#b02a12" opacity="0.57"/>
<circle cx="404.28" cy="297.55" r="0.75" fill="#c8401a" opacity="0.57"/>
<circle cx="391.97" cy="292.21" r="0.75" fill="#c8481a" opacity="0.64"/>
<circle cx="393.58" cy="292.18" r="0.75" fill="#d8581a" opacity="0.79"/>
<circle cx="394.72" cy="290.02" r="0.75" fill="#b02a12" opacity="0.71"/>
<circle cx="396.79" cy="298.04" r="0.6" fill="#b02a12" opacity="0.85"/>
<circle cx="403.31" cy="291.04" r="0.6" fill="#d8581a" opacity="0.67"/>
<circle cx="398.52" cy="300.18" r="0.5" fill="#c8481a" opacity="0.94"/>
<circle cx="437.09" cy="294.18" r="0.75" fill="#d8581a" opacity="0.62"/>
<circle cx="430.01" cy="301.73" r="0.6" fill="#d08a1a" opacity="0.58"/>
<circle cx="432.32" cy="294.55" r="0.5" fill="#c8481a" opacity="0.91"/>
<circle cx="430.02" cy="287.63" r="0.5" fill="#b02a12" opacity="0.76"/>
<circle cx="432.49" cy="287.53" r="0.5" fill="#d08a1a" opacity="0.59"/>
<circle cx="425.13" cy="301.76" r="0.6" fill="#d08a1a" opacity="0.75"/>
<circle cx="421.81" cy="295.70" r="0.75" fill="#d8581a" opacity="0.67"/>
<circle cx="437.30" cy="289.56" r="0.6" fill="#b02a12" opacity="0.77"/>
<circle cx="433.60" cy="293.19" r="0.75" fill="#c8401a" opacity="0.70"/>
<circle cx="427.55" cy="300.72" r="0.75" fill="#d8581a" opacity="0.91"/>
<circle cx="426.37" cy="294.35" r="0.75" fill="#d8581a" opacity="0.81"/>
<circle cx="426.67" cy="298.68" r="0.75" fill="#c8481a" opacity="0.68"/>
<circle cx="430.01" cy="298.31" r="0.75" fill="#d08a1a" opacity="0.85"/>
<circle cx="430.41" cy="300.95" r="0.6" fill="#d8581a" opacity="0.82"/>
<circle cx="438.46" cy="295.16" r="0.5" fill="#c8401a" opacity="0.93"/>
<circle cx="419.94" cy="299.57" r="0.6" fill="#d08a1a" opacity="0.79"/>
<circle cx="421.93" cy="294.78" r="0.5" fill="#c8481a" opacity="0.81"/>
<circle cx="430.31" cy="289.18" r="0.6" fill="#c8481a" opacity="0.94"/>
<circle cx="420.36" cy="295.30" r="0.75" fill="#c8401a" opacity="0.75"/>
<circle cx="428.57" cy="301.57" r="0.75" fill="#d8581a" opacity="0.81"/>
<circle cx="431.95" cy="301.95" r="0.75" fill="#d08a1a" opacity="0.65"/>
<circle cx="431.80" cy="293.75" r="0.5" fill="#b02a12" opacity="0.94"/>
<circle cx="425.38" cy="300.43" r="0.75" fill="#b02a12" opacity="0.92"/>
<circle cx="430.33" cy="299.93" r="0.6" fill="#b02a12" opacity="0.78"/>
<circle cx="436.51" cy="288.37" r="0.6" fill="#b02a12" opacity="0.70"/>
<circle cx="423.58" cy="293.70" r="0.5" fill="#b02a12" opacity="0.82"/>
<circle cx="437.99" cy="290.90" r="0.5" fill="#c8401a" opacity="0.68"/>
<circle cx="434.24" cy="290.78" r="0.75" fill="#d8581a" opacity="0.68"/>
<circle cx="427.92" cy="300.83" r="0.75" fill="#c8401a" opacity="0.56"/>
<circle cx="416.80" cy="297.26" r="0.75" fill="#c8481a" opacity="0.62"/>
<circle cx="438.07" cy="292.97" r="0.6" fill="#d08a1a" opacity="0.86"/>
<circle cx="438.57" cy="289.62" r="0.75" fill="#d08a1a" opacity="0.81"/>
<circle cx="426.08" cy="293.35" r="0.6" fill="#b02a12" opacity="0.60"/>
<circle cx="431.27" cy="296.84" r="0.5" fill="#c8401a" opacity="0.60"/>
<circle cx="423.48" cy="289.17" r="0.6" fill="#b02a12" opacity="0.77"/>
<circle cx="434.22" cy="294.42" r="0.5" fill="#d08a1a" opacity="0.57"/>
<circle cx="433.53" cy="300.75" r="0.75" fill="#b02a12" opacity="0.61"/>
<circle cx="427.68" cy="288.79" r="0.5" fill="#d08a1a" opacity="0.71"/>
<circle cx="430.95" cy="299.33" r="0.6" fill="#c8481a" opacity="0.87"/>
<circle cx="425.23" cy="296.84" r="0.5" fill="#c8481a" opacity="0.66"/>
<circle cx="426.65" cy="291.44" r="0.75" fill="#d08a1a" opacity="0.64"/>
<circle cx="437.58" cy="298.19" r="0.6" fill="#d08a1a" opacity="0.91"/>
<circle cx="436.44" cy="300.23" r="0.5" fill="#b02a12" opacity="0.69"/>
<circle cx="434.04" cy="298.47" r="0.6" fill="#d08a1a" opacity="0.56"/>
<circle cx="430.36" cy="301.73" r="0.5" fill="#c8401a" opacity="0.91"/>
<circle cx="437.76" cy="294.31" r="0.6" fill="#b02a12" opacity="0.71"/>
<circle cx="427.91" cy="288.60" r="0.5" fill="#d8581a" opacity="0.77"/>
<circle cx="437.36" cy="290.42" r="0.75" fill="#d08a1a" opacity="0.76"/>
<circle cx="438.21" cy="294.95" r="0.6" fill="#c8401a" opacity="0.91"/>
<circle cx="433.20" cy="289.61" r="0.75" fill="#d08a1a" opacity="0.93"/>
<circle cx="425.13" cy="298.85" r="0.45" fill="#d08a1a" opacity="0.72"/>
<circle cx="402.24" cy="293.24" r="0.45" fill="#d8581a" opacity="0.66"/>
<circle cx="401.02" cy="270.49" r="0.55" fill="#c8481a" opacity="0.68"/>
<circle cx="400.79" cy="260.00" r="0.55" fill="#b02a12" opacity="0.74"/>
<circle cx="430.33" cy="297.85" r="0.45" fill="#d8581a" opacity="0.77"/>
<circle cx="428.97" cy="274.68" r="0.45" fill="#b02a12" opacity="0.79"/>
<circle cx="426.42" cy="267.60" r="0.45" fill="#c8481a" opacity="0.76"/>
<circle cx="393.05" cy="277.58" r="0.55" fill="#b02a12" opacity="0.78"/>
<circle cx="413.30" cy="290.33" r="0.45" fill="#c8481a" opacity="0.74"/>
<circle cx="429.80" cy="287.06" r="0.55" fill="#b02a12" opacity="0.52"/>
<circle cx="425.31" cy="261.00" r="0.45" fill="#c8481a" opacity="0.41"/>
<circle cx="403.90" cy="294.68" r="0.55" fill="#c8481a" opacity="0.61"/>
<circle cx="428.65" cy="300.78" r="0.55" fill="#d08a1a" opacity="0.68"/>
<circle cx="428.25" cy="292.11" r="0.55" fill="#d08a1a" opacity="0.59"/>
<circle cx="428.34" cy="266.59" r="0.55" fill="#b02a12" opacity="0.50"/>
<circle cx="422.77" cy="265.01" r="0.45" fill="#d08a1a" opacity="0.68"/>
<circle cx="421.34" cy="273.37" r="0.45" fill="#c8401a" opacity="0.61"/>
<circle cx="414.06" cy="266.97" r="0.45" fill="#d8581a" opacity="0.47"/>
<circle cx="430.49" cy="261.33" r="0.45" fill="#d08a1a" opacity="0.77"/>
<circle cx="421.34" cy="264.27" r="0.55" fill="#d08a1a" opacity="0.53"/>
<circle cx="432.15" cy="260.92" r="0.55" fill="#b02a12" opacity="0.57"/>
<circle cx="436.39" cy="268.84" r="0.55" fill="#b02a12" opacity="0.48"/>
<circle cx="430.01" cy="263.43" r="0.55" fill="#c8481a" opacity="0.41"/>
<circle cx="428.38" cy="266.35" r="0.55" fill="#c8481a" opacity="0.63"/>
<circle cx="410.65" cy="285.16" r="0.55" fill="#b02a12" opacity="0.46"/>
<circle cx="391.92" cy="283.27" r="0.45" fill="#d08a1a" opacity="0.46"/>
<circle cx="423.12" cy="276.11" r="0.45" fill="#c8481a" opacity="0.57"/>
<circle cx="423.68" cy="265.51" r="0.45" fill="#b02a12" opacity="0.59"/>
<circle cx="435.94" cy="300.80" r="0.55" fill="#b02a12" opacity="0.51"/>
<circle cx="435.51" cy="268.17" r="0.45" fill="#b02a12" opacity="0.50"/>
<circle cx="413.62" cy="286.46" r="0.45" fill="#b02a12" opacity="0.53"/>
<circle cx="425.70" cy="270.99" r="0.45" fill="#d08a1a" opacity="0.54"/>
<circle cx="430.06" cy="265.25" r="0.45" fill="#c8481a" opacity="0.73"/>
<circle cx="425.42" cy="277.84" r="0.45" fill="#d08a1a" opacity="0.47"/>
<circle cx="408.11" cy="261.86" r="0.55" fill="#c8481a" opacity="0.74"/>
<circle cx="417.39" cy="301.54" r="0.55" fill="#d08a1a" opacity="0.79"/>
<circle cx="395.29" cy="272.59" r="0.45" fill="#c8481a" opacity="0.42"/>
<circle cx="406.72" cy="268.87" r="0.55" fill="#c8481a" opacity="0.65"/>
<circle cx="399.65" cy="290.40" r="0.55" fill="#b02a12" opacity="0.58"/>
<circle cx="428.83" cy="293.98" r="0.45" fill="#c8401a" opacity="0.48"/>
</g></g>
<g clip-path="url(#cPer)">
<ellipse cx="452" cy="266" rx="12" ry="9" fill="#2a0605" opacity="0.6" filter="url(#b3)"/>
<circle cx="472.36" cy="298.25" r="0.55" fill="#6a1a0a" opacity="0.79"/>
<circle cx="471.70" cy="262.26" r="0.55" fill="#6a1a0a" opacity="0.43"/>
<circle cx="439.81" cy="258.50" r="0.55" fill="#4a1208" opacity="0.60"/>
<circle cx="468.40" cy="261.07" r="0.55" fill="#4a1208" opacity="0.57"/>
<circle cx="467.34" cy="261.28" r="0.55" fill="#4a1208" opacity="0.74"/>
<circle cx="486.63" cy="281.39" r="0.55" fill="#4a1208" opacity="0.69"/>
<circle cx="445.18" cy="264.06" r="0.55" fill="#4a1208" opacity="0.77"/>
<circle cx="475.47" cy="295.38" r="0.55" fill="#4a1208" opacity="0.44"/>
<circle cx="447.50" cy="271.59" r="0.55" fill="#7a2a10" opacity="0.43"/>
<circle cx="467.39" cy="290.83" r="0.55" fill="#4a1208" opacity="0.58"/>
<circle cx="453.65" cy="284.99" r="0.55" fill="#7a2a10" opacity="0.49"/>
<circle cx="441.46" cy="269.12" r="0.55" fill="#7a2a10" opacity="0.65"/>
<circle cx="461.03" cy="258.46" r="0.55" fill="#4a1208" opacity="0.69"/>
<circle cx="464.72" cy="272.85" r="0.55" fill="#4a1208" opacity="0.61"/>
<circle cx="443.33" cy="295.19" r="0.55" fill="#7a2a10" opacity="0.49"/>
<circle cx="451.65" cy="274.75" r="0.55" fill="#6a1a0a" opacity="0.74"/>
<circle cx="456.64" cy="294.62" r="0.55" fill="#6a1a0a" opacity="0.54"/>
<circle cx="485.34" cy="255.58" r="0.55" fill="#4a1208" opacity="0.68"/>
<circle cx="445.84" cy="269.48" r="0.55" fill="#6a1a0a" opacity="0.58"/>
<circle cx="443.94" cy="271.28" r="0.55" fill="#6a1a0a" opacity="0.46"/>
<circle cx="447.86" cy="276.35" r="0.55" fill="#4a1208" opacity="0.64"/>
<circle cx="460.42" cy="260.41" r="0.55" fill="#7a2a10" opacity="0.63"/>
<circle cx="446.68" cy="256.51" r="0.55" fill="#7a2a10" opacity="0.43"/>
<circle cx="442.85" cy="291.92" r="0.55" fill="#4a1208" opacity="0.51"/>
<circle cx="480.00" cy="258.17" r="0.55" fill="#7a2a10" opacity="0.49"/>
<circle cx="463.02" cy="298.60" r="0.55" fill="#6a1a0a" opacity="0.59"/>
<circle cx="442.00" cy="269.24" r="0.55" fill="#7a2a10" opacity="0.75"/>
<circle cx="446.27" cy="283.34" r="0.55" fill="#6a1a0a" opacity="0.66"/>
<circle cx="452.28" cy="280.66" r="0.55" fill="#6a1a0a" opacity="0.56"/>
<circle cx="457.46" cy="275.38" r="0.55" fill="#6a1a0a" opacity="0.75"/>
<circle cx="477.17" cy="301.26" r="0.55" fill="#6a1a0a" opacity="0.43"/>
<circle cx="477.32" cy="275.97" r="0.55" fill="#4a1208" opacity="0.58"/>
<circle cx="483.22" cy="299.66" r="0.55" fill="#7a2a10" opacity="0.65"/>
<circle cx="451.90" cy="263.89" r="0.55" fill="#4a1208" opacity="0.68"/>
<circle cx="442.15" cy="254.97" r="0.55" fill="#4a1208" opacity="0.54"/>
<circle cx="441.00" cy="276.68" r="0.55" fill="#6a1a0a" opacity="0.62"/>
<circle cx="454.86" cy="278.83" r="0.55" fill="#4a1208" opacity="0.77"/>
<circle cx="444.99" cy="264.91" r="0.55" fill="#4a1208" opacity="0.72"/>
<circle cx="439.18" cy="288.86" r="0.55" fill="#4a1208" opacity="0.78"/>
<circle cx="484.53" cy="297.92" r="0.55" fill="#6a1a0a" opacity="0.57"/>
<circle cx="486.67" cy="298.22" r="0.55" fill="#4a1208" opacity="0.61"/>
<circle cx="461.48" cy="300.56" r="0.55" fill="#7a2a10" opacity="0.72"/>
<circle cx="452.21" cy="297.73" r="0.55" fill="#6a1a0a" opacity="0.73"/>
<circle cx="445.71" cy="300.08" r="0.55" fill="#7a2a10" opacity="0.72"/>
<circle cx="447.85" cy="273.09" r="0.55" fill="#4a1208" opacity="0.60"/>
<circle cx="440.42" cy="281.01" r="0.55" fill="#6a1a0a" opacity="0.56"/>
<circle cx="478.67" cy="275.79" r="0.55" fill="#7a2a10" opacity="0.47"/>
<circle cx="460.89" cy="298.34" r="0.55" fill="#4a1208" opacity="0.78"/>
<circle cx="467.36" cy="290.88" r="0.55" fill="#6a1a0a" opacity="0.45"/>
<circle cx="440.90" cy="256.87" r="0.55" fill="#4a1208" opacity="0.40"/>
<circle cx="480.67" cy="260.87" r="0.55" fill="#4a1208" opacity="0.72"/>
<circle cx="447.88" cy="287.74" r="0.55" fill="#7a2a10" opacity="0.53"/>
<circle cx="465.02" cy="300.86" r="0.55" fill="#6a1a0a" opacity="0.68"/>
<circle cx="477.63" cy="280.18" r="0.55" fill="#7a2a10" opacity="0.67"/>
<circle cx="473.64" cy="254.82" r="0.55" fill="#6a1a0a" opacity="0.64"/>
</g>
<line x1="439.00" y1="254.80" x2="439.00" y2="301.80" stroke="#8a2030" stroke-width="0.7" />
<line x1="439.30" y1="254.20" x2="487.30" y2="254.20" stroke="#c8c8c8" stroke-width="0.8" />
<line x1="391.50" y1="254.40" x2="439.00" y2="254.40" stroke="#7a3040" stroke-width="0.6" />
<text font-size="2.6" fill="#eee" textLength="8" lengthAdjust="spacingAndGlyphs" x="393.5" y="296.4" >100 µm</text>
<rect x="393.50" y="297.30" width="8.50" height="0.90" fill="#fff" />
<text font-size="8.8" fill="#222" textLength="24.2" lengthAdjust="spacingAndGlyphs" x="403.4" y="308.2" >Center</text>
<text font-size="8.8" fill="#222" textLength="34.6" lengthAdjust="spacingAndGlyphs" x="444.2" y="308.2" >Periphery</text>
<rect x="496.40" y="230.80" width="48.00" height="33.50" fill="#cacadb" />
<g clip-path="url(#cM1)">
<circle cx="496.99" cy="234.57" r="3.178512084652228" fill="#d4d4e2" opacity="0.7" filter="url(#b1)"/>
<circle cx="503.06" cy="234.57" r="2.695407071221851" fill="#c0c0d2" opacity="0.7" filter="url(#b1)"/>
<circle cx="503.48" cy="255.61" r="3.9864999665457894" fill="#c0c0d2" opacity="0.7" filter="url(#b1)"/>
<circle cx="507.50" cy="255.33" r="3.5782081726022827" fill="#c0c0d2" opacity="0.7" filter="url(#b1)"/>
<circle cx="544.22" cy="233.92" r="2.061099375119386" fill="#c4c4d6" opacity="0.7" filter="url(#b1)"/>
<circle cx="512.79" cy="237.70" r="3.175818972995014" fill="#c0c0d2" opacity="0.7" filter="url(#b1)"/>
<circle cx="506.50" cy="238.07" r="3.7547028287363884" fill="#d4d4e2" opacity="0.7" filter="url(#b1)"/>
<circle cx="542.18" cy="258.90" r="3.0665123343782255" fill="#c0c0d2" opacity="0.7" filter="url(#b1)"/>
<circle cx="503.49" cy="257.47" r="3.129236214541712" fill="#d4d4e2" opacity="0.7" filter="url(#b1)"/>
<circle cx="531.68" cy="259.89" r="3.9534520613150446" fill="#c0c0d2" opacity="0.7" filter="url(#b1)"/>
<circle cx="506.37" cy="245.29" r="3.102415424447027" fill="#cfcfde" opacity="0.7" filter="url(#b1)"/>
<circle cx="527.16" cy="238.14" r="2.1242403074368035" fill="#cfcfde" opacity="0.7" filter="url(#b1)"/>
<circle cx="510.48" cy="249.96" r="3.445471956881067" fill="#cfcfde" opacity="0.7" filter="url(#b1)"/>
<circle cx="542.54" cy="263.51" r="4.980518156930209" fill="#cfcfde" opacity="0.7" filter="url(#b1)"/>
<circle cx="539.43" cy="249.56" r="4.80788692561877" fill="#cfcfde" opacity="0.7" filter="url(#b1)"/>
<circle cx="500.89" cy="237.26" r="4.763051371139822" fill="#cfcfde" opacity="0.7" filter="url(#b1)"/>
<circle cx="529.78" cy="234.00" r="3.1975168127897815" fill="#cfcfde" opacity="0.7" filter="url(#b1)"/>
<circle cx="527.57" cy="264.02" r="2.590679737493283" fill="#c4c4d6" opacity="0.7" filter="url(#b1)"/>
<circle cx="506.12" cy="241.99" r="3.2088002962376416" fill="#d4d4e2" opacity="0.7" filter="url(#b1)"/>
<circle cx="523.36" cy="234.75" r="2.296597843016146" fill="#d4d4e2" opacity="0.7" filter="url(#b1)"/>
<circle cx="542.52" cy="237.54" r="2.487048202308858" fill="#c0c0d2" opacity="0.7" filter="url(#b1)"/>
<circle cx="519.23" cy="247.49" r="4.365311708570281" fill="#cfcfde" opacity="0.7" filter="url(#b1)"/>
<circle cx="537.70" cy="263.68" r="3.470765433525102" fill="#d4d4e2" opacity="0.7" filter="url(#b1)"/>
<circle cx="537.42" cy="247.06" r="4.39189964663524" fill="#c4c4d6" opacity="0.7" filter="url(#b1)"/>
<circle cx="543.11" cy="256.51" r="2.764262143293493" fill="#c4c4d6" opacity="0.7" filter="url(#b1)"/>
<circle cx="513.14" cy="231.17" r="3.125570720047227" fill="#cfcfde" opacity="0.7" filter="url(#b1)"/>
<circle cx="517.80" cy="264.07" r="2.3964331326973305" fill="#d4d4e2" opacity="0.7" filter="url(#b1)"/>
<circle cx="540.72" cy="260.51" r="4.366766397505597" fill="#cfcfde" opacity="0.7" filter="url(#b1)"/>
<circle cx="529.49" cy="249.38" r="3.6755726120233803" fill="#c4c4d6" opacity="0.7" filter="url(#b1)"/>
<circle cx="507.29" cy="237.32" r="3.8436041055964134" fill="#cfcfde" opacity="0.7" filter="url(#b1)"/>
<circle cx="530.82" cy="246.44" r="2.40090873922946" fill="#d4d4e2" opacity="0.7" filter="url(#b1)"/>
<circle cx="521.49" cy="242.42" r="2.5746414425094546" fill="#cfcfde" opacity="0.7" filter="url(#b1)"/>
<circle cx="529.53" cy="250.22" r="2.498516374275258" fill="#d4d4e2" opacity="0.7" filter="url(#b1)"/>
<circle cx="531.57" cy="237.76" r="2.736530424223121" fill="#cfcfde" opacity="0.7" filter="url(#b1)"/>
<circle cx="506.23" cy="260.63" r="2.920890119855574" fill="#c0c0d2" opacity="0.7" filter="url(#b1)"/>
<circle cx="540.53" cy="239.83" r="4.817747469854853" fill="#d4d4e2" opacity="0.7" filter="url(#b1)"/>
<circle cx="497.98" cy="251.39" r="0.6" fill="#5a56a2" opacity="0.71"/>
<circle cx="517.27" cy="254.32" r="0.5" fill="#8682ba" opacity="0.51"/>
<circle cx="517.69" cy="254.49" r="0.5" fill="#7672b2" opacity="0.63"/>
<circle cx="510.66" cy="262.94" r="0.4" fill="#7672b2" opacity="0.53"/>
<circle cx="508.35" cy="251.73" r="0.7" fill="#8682ba" opacity="0.68"/>
<circle cx="527.70" cy="252.85" r="0.7" fill="#6662aa" opacity="0.53"/>
<circle cx="503.79" cy="257.87" r="0.4" fill="#6662aa" opacity="0.61"/>
<circle cx="509.48" cy="240.32" r="0.5" fill="#9490c0" opacity="0.62"/>
<circle cx="539.30" cy="263.27" r="0.5" fill="#9490c0" opacity="0.56"/>
<circle cx="526.77" cy="256.54" r="0.4" fill="#9490c0" opacity="0.78"/>
<circle cx="497.39" cy="261.16" r="0.7" fill="#5a56a2" opacity="0.77"/>
<circle cx="521.33" cy="259.55" r="0.6" fill="#8682ba" opacity="0.66"/>
<circle cx="506.65" cy="260.50" r="0.7" fill="#6662aa" opacity="0.83"/>
<circle cx="508.03" cy="254.45" r="0.4" fill="#8682ba" opacity="0.77"/>
<circle cx="511.94" cy="263.74" r="0.4" fill="#5a56a2" opacity="0.60"/>
<circle cx="520.00" cy="264.24" r="0.5" fill="#6662aa" opacity="0.62"/>
<circle cx="534.74" cy="262.11" r="0.5" fill="#9490c0" opacity="0.84"/>
<circle cx="522.61" cy="233.37" r="0.7" fill="#8682ba" opacity="0.68"/>
<circle cx="519.44" cy="246.81" r="0.4" fill="#5a56a2" opacity="0.59"/>
<circle cx="544.07" cy="246.38" r="0.6" fill="#6662aa" opacity="0.87"/>
<circle cx="515.21" cy="259.93" r="0.7" fill="#7672b2" opacity="0.67"/>
<circle cx="541.73" cy="253.72" r="0.7" fill="#6662aa" opacity="0.85"/>
<circle cx="516.18" cy="255.98" r="0.5" fill="#9490c0" opacity="0.86"/>
<circle cx="516.95" cy="249.43" r="0.4" fill="#8682ba" opacity="0.52"/>
<circle cx="538.21" cy="241.08" r="0.5" fill="#7672b2" opacity="0.76"/>
<circle cx="518.88" cy="240.01" r="0.6" fill="#8682ba" opacity="0.81"/>
<circle cx="536.44" cy="250.83" r="0.7" fill="#5a56a2" opacity="0.53"/>
<circle cx="527.67" cy="260.85" r="0.5" fill="#6662aa" opacity="0.80"/>
<circle cx="501.59" cy="257.13" r="0.6" fill="#8682ba" opacity="0.67"/>
<circle cx="500.15" cy="233.97" r="0.7" fill="#8682ba" opacity="0.64"/>
<circle cx="529.59" cy="246.96" r="0.4" fill="#5a56a2" opacity="0.74"/>
<circle cx="511.46" cy="259.16" r="0.4" fill="#5a56a2" opacity="0.55"/>
<circle cx="530.34" cy="251.25" r="0.5" fill="#9490c0" opacity="0.70"/>
<circle cx="524.47" cy="236.76" r="0.5" fill="#9490c0" opacity="0.62"/>
<circle cx="515.07" cy="245.59" r="0.6" fill="#9490c0" opacity="0.89"/>
<circle cx="508.83" cy="233.31" r="0.5" fill="#7672b2" opacity="0.78"/>
<circle cx="503.26" cy="262.97" r="0.5" fill="#8682ba" opacity="0.68"/>
<circle cx="505.06" cy="246.23" r="0.5" fill="#9490c0" opacity="0.64"/>
<circle cx="515.08" cy="260.87" r="0.7" fill="#5a56a2" opacity="0.51"/>
<circle cx="514.25" cy="256.34" r="0.5" fill="#8682ba" opacity="0.84"/>
<circle cx="504.18" cy="254.51" r="0.7" fill="#9490c0" opacity="0.70"/>
<circle cx="541.63" cy="235.29" r="0.4" fill="#9490c0" opacity="0.62"/>
<circle cx="504.49" cy="234.08" r="0.4" fill="#5a56a2" opacity="0.73"/>
<circle cx="507.82" cy="243.21" r="0.7" fill="#5a56a2" opacity="0.71"/>
<circle cx="542.63" cy="244.20" r="0.4" fill="#6662aa" opacity="0.54"/>
<circle cx="504.25" cy="240.66" r="0.4" fill="#5a56a2" opacity="0.53"/>
<circle cx="503.30" cy="263.44" r="0.4" fill="#5a56a2" opacity="0.60"/>
<circle cx="537.38" cy="263.18" r="0.7" fill="#5a56a2" opacity="0.71"/>
<circle cx="516.92" cy="264.06" r="0.5" fill="#5a56a2" opacity="0.78"/>
<circle cx="526.72" cy="238.87" r="0.5" fill="#9490c0" opacity="0.51"/>
<circle cx="531.43" cy="250.94" r="0.4" fill="#5a56a2" opacity="0.76"/>
<circle cx="519.95" cy="242.33" r="0.5" fill="#5a56a2" opacity="0.69"/>
<circle cx="513.95" cy="238.60" r="0.6" fill="#5a56a2" opacity="0.89"/>
<circle cx="518.77" cy="254.79" r="0.7" fill="#7672b2" opacity="0.67"/>
<circle cx="523.62" cy="263.67" r="0.4" fill="#6662aa" opacity="0.69"/>
<circle cx="512.55" cy="257.76" r="0.7" fill="#8682ba" opacity="0.53"/>
<circle cx="524.93" cy="250.48" r="0.7" fill="#8682ba" opacity="0.72"/>
<circle cx="533.23" cy="231.72" r="0.5" fill="#9490c0" opacity="0.78"/>
<circle cx="543.33" cy="262.40" r="0.6" fill="#8682ba" opacity="0.61"/>
<circle cx="518.13" cy="236.12" r="0.5" fill="#8682ba" opacity="0.57"/>
<circle cx="520.05" cy="238.51" r="0.6" fill="#5a56a2" opacity="0.51"/>
<circle cx="541.47" cy="254.09" r="0.4" fill="#6662aa" opacity="0.86"/>
<circle cx="515.55" cy="246.38" r="0.4" fill="#8682ba" opacity="0.55"/>
<circle cx="520.74" cy="252.22" r="0.7" fill="#5a56a2" opacity="0.87"/>
<circle cx="504.58" cy="242.18" r="0.5" fill="#9490c0" opacity="0.62"/>
<circle cx="509.44" cy="235.03" r="0.5" fill="#5a56a2" opacity="0.73"/>
<circle cx="499.68" cy="238.04" r="0.4" fill="#5a56a2" opacity="0.72"/>
<circle cx="506.84" cy="234.21" r="0.4" fill="#9490c0" opacity="0.65"/>
<circle cx="538.10" cy="232.30" r="0.5" fill="#7672b2" opacity="0.60"/>
<circle cx="517.85" cy="233.50" r="0.4" fill="#6662aa" opacity="0.84"/>
<circle cx="511.88" cy="256.96" r="0.6" fill="#5a56a2" opacity="0.55"/>
<circle cx="533.25" cy="258.17" r="0.4" fill="#7672b2" opacity="0.85"/>
<circle cx="536.90" cy="260.40" r="0.7" fill="#7672b2" opacity="0.76"/>
<circle cx="534.13" cy="260.57" r="0.4" fill="#6662aa" opacity="0.78"/>
<circle cx="536.18" cy="264.17" r="0.5" fill="#9490c0" opacity="0.59"/>
<circle cx="499.11" cy="261.58" r="0.4" fill="#9490c0" opacity="0.66"/>
<circle cx="524.51" cy="233.55" r="0.6" fill="#8682ba" opacity="0.64"/>
<circle cx="534.54" cy="252.96" r="0.7" fill="#9490c0" opacity="0.64"/>
<circle cx="514.86" cy="232.48" r="0.6" fill="#6662aa" opacity="0.86"/>
<circle cx="535.53" cy="239.15" r="0.7" fill="#7672b2" opacity="0.80"/>
<circle cx="506.01" cy="242.73" r="0.5" fill="#5a56a2" opacity="0.51"/>
<circle cx="538.69" cy="253.22" r="0.7" fill="#8682ba" opacity="0.62"/>
<circle cx="538.08" cy="254.64" r="0.5" fill="#5a56a2" opacity="0.58"/>
<circle cx="529.82" cy="253.68" r="0.6" fill="#5a56a2" opacity="0.72"/>
<circle cx="541.49" cy="252.80" r="0.5" fill="#9490c0" opacity="0.69"/>
<circle cx="499.41" cy="254.47" r="0.6" fill="#5a56a2" opacity="0.78"/>
<circle cx="521.09" cy="250.77" r="0.6" fill="#5a56a2" opacity="0.64"/>
<circle cx="520.63" cy="250.27" r="0.4" fill="#9490c0" opacity="0.83"/>
<circle cx="523.45" cy="237.89" r="0.7" fill="#9490c0" opacity="0.63"/>
<circle cx="521.35" cy="252.62" r="0.6" fill="#5a56a2" opacity="0.66"/>
<circle cx="496.85" cy="259.22" r="0.4" fill="#6662aa" opacity="0.89"/>
<circle cx="524.99" cy="255.83" r="0.5" fill="#8682ba" opacity="0.67"/>
<circle cx="540.10" cy="245.38" r="0.6" fill="#7672b2" opacity="0.54"/>
<circle cx="536.17" cy="255.70" r="0.5" fill="#9490c0" opacity="0.53"/>
<circle cx="505.67" cy="233.80" r="0.7" fill="#5a56a2" opacity="0.71"/>
<circle cx="529.18" cy="233.99" r="0.5" fill="#8682ba" opacity="0.86"/>
<circle cx="516.48" cy="263.79" r="0.6" fill="#5a56a2" opacity="0.84"/>
<circle cx="538.56" cy="255.33" r="0.6" fill="#9490c0" opacity="0.79"/>
<circle cx="536.79" cy="244.28" r="0.5" fill="#9490c0" opacity="0.65"/>
<circle cx="505.92" cy="240.35" r="0.4" fill="#8682ba" opacity="0.76"/>
<circle cx="533.54" cy="245.53" r="0.5" fill="#9490c0" opacity="0.85"/>
<circle cx="521.03" cy="262.74" r="0.6" fill="#7672b2" opacity="0.69"/>
<circle cx="518.60" cy="232.06" r="0.7" fill="#9490c0" opacity="0.64"/>
<circle cx="511.17" cy="258.83" r="0.6" fill="#9490c0" opacity="0.66"/>
<circle cx="541.24" cy="241.66" r="0.5" fill="#8682ba" opacity="0.50"/>
<circle cx="514.33" cy="231.84" r="0.6" fill="#5a56a2" opacity="0.69"/>
<circle cx="514.02" cy="238.55" r="0.5" fill="#6662aa" opacity="0.65"/>
<circle cx="536.64" cy="256.33" r="0.5" fill="#5a56a2" opacity="0.83"/>
<circle cx="542.09" cy="239.86" r="0.5" fill="#5a56a2" opacity="0.70"/>
<circle cx="502.91" cy="248.65" r="0.7" fill="#7672b2" opacity="0.60"/>
<circle cx="530.87" cy="256.23" r="0.6" fill="#5a56a2" opacity="0.70"/>
<circle cx="527.77" cy="239.25" r="0.4" fill="#5a56a2" opacity="0.61"/>
<circle cx="499.59" cy="237.02" r="0.6" fill="#9490c0" opacity="0.70"/>
<circle cx="542.43" cy="245.85" r="0.4" fill="#6662aa" opacity="0.84"/>
<circle cx="506.35" cy="263.90" r="0.7" fill="#6662aa" opacity="0.77"/>
<circle cx="539.06" cy="243.43" r="0.7" fill="#8682ba" opacity="0.75"/>
<circle cx="533.38" cy="250.65" r="0.6" fill="#7672b2" opacity="0.81"/>
<circle cx="536.17" cy="254.09" r="0.6" fill="#9490c0" opacity="0.87"/>
<circle cx="543.96" cy="253.58" r="0.5" fill="#9490c0" opacity="0.68"/>
<circle cx="515.09" cy="249.34" r="0.6" fill="#9490c0" opacity="0.75"/>
<circle cx="540.28" cy="242.51" r="0.4" fill="#8682ba" opacity="0.69"/>
<circle cx="539.48" cy="262.31" r="0.6" fill="#9490c0" opacity="0.62"/>
<circle cx="537.46" cy="240.20" r="0.5" fill="#5a56a2" opacity="0.66"/>
<circle cx="529.33" cy="254.41" r="0.6" fill="#6662aa" opacity="0.82"/>
<circle cx="542.24" cy="244.00" r="0.4" fill="#9490c0" opacity="0.89"/>
<circle cx="527.13" cy="242.74" r="0.5" fill="#7672b2" opacity="0.89"/>
<circle cx="516.59" cy="236.99" r="0.5" fill="#8682ba" opacity="0.59"/>
<circle cx="534.15" cy="238.56" r="0.4" fill="#8682ba" opacity="0.83"/>
<circle cx="532.39" cy="236.89" r="0.4" fill="#9490c0" opacity="0.65"/>
<circle cx="519.13" cy="246.92" r="0.6" fill="#9490c0" opacity="0.71"/>
<circle cx="508.62" cy="248.02" r="0.6" fill="#7672b2" opacity="0.52"/>
<circle cx="536.05" cy="248.95" r="0.4" fill="#9490c0" opacity="0.68"/>
<circle cx="530.44" cy="255.92" r="0.7" fill="#5a56a2" opacity="0.70"/>
<circle cx="526.42" cy="255.07" r="0.5" fill="#6662aa" opacity="0.89"/>
<circle cx="502.66" cy="248.63" r="0.5" fill="#6662aa" opacity="0.66"/>
<circle cx="499.91" cy="263.44" r="0.5" fill="#8682ba" opacity="0.74"/>
<circle cx="531.50" cy="254.48" r="0.5" fill="#7672b2" opacity="0.65"/>
<circle cx="514.85" cy="254.36" r="0.4" fill="#9490c0" opacity="0.54"/>
<circle cx="521.38" cy="261.70" r="0.5" fill="#9490c0" opacity="0.70"/>
<circle cx="540.08" cy="248.04" r="0.7" fill="#9490c0" opacity="0.88"/>
<circle cx="503.02" cy="255.19" r="0.7" fill="#9490c0" opacity="0.84"/>
<circle cx="508.53" cy="254.85" r="0.4" fill="#6662aa" opacity="0.51"/>
<circle cx="522.84" cy="264.29" r="0.6" fill="#6662aa" opacity="0.87"/>
<circle cx="516.05" cy="249.22" r="0.6" fill="#6662aa" opacity="0.57"/>
<circle cx="530.06" cy="263.96" r="0.6" fill="#9490c0" opacity="0.67"/>
<circle cx="541.44" cy="259.53" r="0.7" fill="#5a56a2" opacity="0.65"/>
<circle cx="512.17" cy="241.66" r="0.4" fill="#8682ba" opacity="0.75"/>
<circle cx="528.41" cy="258.45" r="0.6" fill="#8682ba" opacity="0.83"/>
<circle cx="518.04" cy="246.87" r="0.7" fill="#6662aa" opacity="0.78"/>
<circle cx="508.08" cy="258.11" r="0.4" fill="#7672b2" opacity="0.72"/>
<circle cx="527.55" cy="262.05" r="0.9" fill="#3e3892" opacity="0.9"/>
<circle cx="538.03" cy="246.15" r="0.9" fill="#524aa8" opacity="0.9"/>
<circle cx="534.68" cy="246.26" r="1.2" fill="#524aa8" opacity="0.9"/>
<circle cx="542.69" cy="235.86" r="0.9" fill="#46409c" opacity="0.9"/>
<circle cx="497.36" cy="252.45" r="1.0" fill="#3e3892" opacity="0.9"/>
<circle cx="497.23" cy="252.73" r="0.9" fill="#524aa8" opacity="0.9"/>
</g>
<rect x="496.60" y="268.10" width="47.60" height="33.80" fill="#cacadb" />
<g clip-path="url(#cM2)">
<circle cx="500.29" cy="275.32" r="2.9093850113083564" fill="#c0c0d2" opacity="0.7" filter="url(#b1)"/>
<circle cx="520.22" cy="292.44" r="2.3007061032515845" fill="#cfcfde" opacity="0.7" filter="url(#b1)"/>
<circle cx="536.73" cy="285.77" r="4.834102265372737" fill="#c4c4d6" opacity="0.7" filter="url(#b1)"/>
<circle cx="514.26" cy="268.13" r="4.265801558975909" fill="#c0c0d2" opacity="0.7" filter="url(#b1)"/>
<circle cx="521.57" cy="284.51" r="4.318981494967087" fill="#c0c0d2" opacity="0.7" filter="url(#b1)"/>
<circle cx="536.42" cy="300.33" r="2.605010742983012" fill="#d4d4e2" opacity="0.7" filter="url(#b1)"/>
<circle cx="512.51" cy="269.29" r="3.576393405614616" fill="#c0c0d2" opacity="0.7" filter="url(#b1)"/>
<circle cx="517.49" cy="282.68" r="4.765424997469781" fill="#cfcfde" opacity="0.7" filter="url(#b1)"/>
<circle cx="507.40" cy="283.92" r="4.185290163654317" fill="#c4c4d6" opacity="0.7" filter="url(#b1)"/>
<circle cx="504.57" cy="295.63" r="4.215072280897685" fill="#d4d4e2" opacity="0.7" filter="url(#b1)"/>
<circle cx="533.26" cy="287.94" r="2.6878864159079567" fill="#cfcfde" opacity="0.7" filter="url(#b1)"/>
<circle cx="500.35" cy="290.51" r="4.524056382192561" fill="#cfcfde" opacity="0.7" filter="url(#b1)"/>
<circle cx="516.91" cy="270.45" r="3.4302374424587976" fill="#c0c0d2" opacity="0.7" filter="url(#b1)"/>
<circle cx="517.81" cy="291.84" r="2.2727155431364494" fill="#d4d4e2" opacity="0.7" filter="url(#b1)"/>
<circle cx="502.90" cy="276.88" r="3.6559942208679295" fill="#c0c0d2" opacity="0.7" filter="url(#b1)"/>
<circle cx="514.91" cy="274.64" r="2.109094191112545" fill="#d4d4e2" opacity="0.7" filter="url(#b1)"/>
<circle cx="520.61" cy="285.83" r="2.9819443811131796" fill="#cfcfde" opacity="0.7" filter="url(#b1)"/>
<circle cx="520.01" cy="300.36" r="4.587641639627702" fill="#cfcfde" opacity="0.7" filter="url(#b1)"/>
<circle cx="521.60" cy="285.29" r="2.676390313733549" fill="#c4c4d6" opacity="0.7" filter="url(#b1)"/>
<circle cx="524.24" cy="280.63" r="4.48464844785448" fill="#c0c0d2" opacity="0.7" filter="url(#b1)"/>
<circle cx="525.36" cy="295.88" r="3.9385800965985416" fill="#c0c0d2" opacity="0.7" filter="url(#b1)"/>
<circle cx="526.17" cy="300.81" r="3.497611180559991" fill="#d4d4e2" opacity="0.7" filter="url(#b1)"/>
<circle cx="541.89" cy="288.14" r="4.906350631271529" fill="#cfcfde" opacity="0.7" filter="url(#b1)"/>
<circle cx="533.62" cy="282.19" r="2.679215329654289" fill="#c4c4d6" opacity="0.7" filter="url(#b1)"/>
<circle cx="500.56" cy="278.86" r="2.49889623985124" fill="#cfcfde" opacity="0.7" filter="url(#b1)"/>
<circle cx="511.02" cy="299.09" r="3.5067092101176898" fill="#c0c0d2" opacity="0.7" filter="url(#b1)"/>
<circle cx="502.78" cy="291.48" r="2.786183792709835" fill="#cfcfde" opacity="0.7" filter="url(#b1)"/>
<circle cx="514.56" cy="295.85" r="2.1042758511211375" fill="#c0c0d2" opacity="0.7" filter="url(#b1)"/>
<circle cx="538.67" cy="269.73" r="3.7938684684357438" fill="#c0c0d2" opacity="0.7" filter="url(#b1)"/>
<circle cx="528.72" cy="293.99" r="3.13208590941054" fill="#d4d4e2" opacity="0.7" filter="url(#b1)"/>
<circle cx="515.65" cy="274.54" r="3.96519783842842" fill="#c0c0d2" opacity="0.7" filter="url(#b1)"/>
<circle cx="507.55" cy="283.05" r="3.3518322187805856" fill="#d4d4e2" opacity="0.7" filter="url(#b1)"/>
<circle cx="496.86" cy="296.13" r="2.76033522224598" fill="#d4d4e2" opacity="0.7" filter="url(#b1)"/>
<circle cx="502.75" cy="270.94" r="4.649248446239522" fill="#c0c0d2" opacity="0.7" filter="url(#b1)"/>
<circle cx="542.86" cy="297.33" r="4.25730775979337" fill="#d4d4e2" opacity="0.7" filter="url(#b1)"/>
<circle cx="511.12" cy="274.24" r="2.695930276133309" fill="#d4d4e2" opacity="0.7" filter="url(#b1)"/>
<circle cx="501.40" cy="300.38" r="0.4" fill="#5a56b8" opacity="0.60"/>
<circle cx="511.76" cy="292.27" r="0.6" fill="#6a66c0" opacity="0.75"/>
<circle cx="497.04" cy="291.45" r="0.4" fill="#5a56b8" opacity="0.72"/>
<circle cx="497.85" cy="299.95" r="0.4" fill="#5a56b8" opacity="0.77"/>
<circle cx="527.01" cy="275.75" r="0.7" fill="#5a56b8" opacity="0.75"/>
<circle cx="521.35" cy="272.44" r="0.6" fill="#6a66c0" opacity="0.85"/>
<circle cx="511.09" cy="290.32" r="0.5" fill="#5a56b8" opacity="0.63"/>
<circle cx="542.45" cy="295.51" r="0.6" fill="#6a66c0" opacity="0.84"/>
<circle cx="506.79" cy="278.31" r="0.4" fill="#5a56b8" opacity="0.71"/>
<circle cx="532.74" cy="283.15" r="0.6" fill="#4e4ab0" opacity="0.62"/>
<circle cx="543.98" cy="291.38" r="0.4" fill="#7a76c4" opacity="0.56"/>
<circle cx="498.92" cy="275.91" r="0.5" fill="#5a56b8" opacity="0.74"/>
<circle cx="496.83" cy="295.98" r="0.4" fill="#4e4ab0" opacity="0.89"/>
<circle cx="510.96" cy="285.81" r="0.7" fill="#4e4ab0" opacity="0.69"/>
<circle cx="497.47" cy="298.29" r="0.7" fill="#7a76c4" opacity="0.60"/>
<circle cx="530.47" cy="298.63" r="0.5" fill="#4e4ab0" opacity="0.64"/>
<circle cx="501.59" cy="279.86" r="0.5" fill="#5a56b8" opacity="0.75"/>
<circle cx="525.20" cy="290.61" r="0.4" fill="#8a86c8" opacity="0.73"/>
<circle cx="509.92" cy="275.88" r="0.7" fill="#4e4ab0" opacity="0.67"/>
<circle cx="497.42" cy="272.22" r="0.7" fill="#4e4ab0" opacity="0.78"/>
<circle cx="500.39" cy="288.96" r="0.6" fill="#7a76c4" opacity="0.58"/>
<circle cx="529.36" cy="272.21" r="0.4" fill="#8a86c8" opacity="0.78"/>
<circle cx="515.84" cy="293.98" r="0.4" fill="#6a66c0" opacity="0.83"/>
<circle cx="523.11" cy="291.98" r="0.5" fill="#6a66c0" opacity="0.66"/>
<circle cx="522.75" cy="281.12" r="0.5" fill="#6a66c0" opacity="0.61"/>
<circle cx="503.80" cy="288.21" r="0.4" fill="#5a56b8" opacity="0.82"/>
<circle cx="505.07" cy="298.02" r="0.6" fill="#5a56b8" opacity="0.71"/>
<circle cx="540.03" cy="272.97" r="0.7" fill="#6a66c0" opacity="0.88"/>
<circle cx="517.02" cy="271.22" r="0.7" fill="#5a56b8" opacity="0.59"/>
<circle cx="518.69" cy="290.75" r="0.7" fill="#5a56b8" opacity="0.72"/>
<circle cx="510.10" cy="294.54" r="0.6" fill="#6a66c0" opacity="0.60"/>
<circle cx="498.54" cy="281.87" r="0.6" fill="#5a56b8" opacity="0.86"/>
<circle cx="518.60" cy="270.84" r="0.5" fill="#5a56b8" opacity="0.51"/>
<circle cx="509.69" cy="281.91" r="0.4" fill="#7a76c4" opacity="0.89"/>
<circle cx="506.84" cy="284.02" r="0.4" fill="#7a76c4" opacity="0.68"/>
<circle cx="536.24" cy="300.04" r="0.5" fill="#4e4ab0" opacity="0.88"/>
<circle cx="532.86" cy="279.08" r="0.5" fill="#7a76c4" opacity="0.68"/>
<circle cx="536.72" cy="294.25" r="0.4" fill="#4e4ab0" opacity="0.52"/>
<circle cx="508.93" cy="296.78" r="0.4" fill="#7a76c4" opacity="0.56"/>
<circle cx="515.62" cy="300.82" r="0.5" fill="#5a56b8" opacity="0.62"/>
<circle cx="517.86" cy="270.71" r="0.4" fill="#5a56b8" opacity="0.58"/>
<circle cx="519.44" cy="270.40" r="0.4" fill="#8a86c8" opacity="0.57"/>
<circle cx="505.83" cy="275.99" r="0.7" fill="#4e4ab0" opacity="0.87"/>
<circle cx="527.92" cy="301.60" r="0.7" fill="#4e4ab0" opacity="0.78"/>
<circle cx="517.19" cy="279.19" r="0.5" fill="#7a76c4" opacity="0.67"/>
<circle cx="528.93" cy="283.10" r="0.6" fill="#8a86c8" opacity="0.77"/>
<circle cx="500.03" cy="274.33" r="0.4" fill="#6a66c0" opacity="0.59"/>
<circle cx="503.65" cy="294.25" r="0.4" fill="#8a86c8" opacity="0.53"/>
<circle cx="525.11" cy="296.68" r="0.4" fill="#6a66c0" opacity="0.54"/>
<circle cx="526.67" cy="292.43" r="0.4" fill="#4e4ab0" opacity="0.69"/>
<circle cx="534.39" cy="294.33" r="0.7" fill="#6a66c0" opacity="0.50"/>
<circle cx="526.01" cy="286.23" r="0.7" fill="#8a86c8" opacity="0.61"/>
<circle cx="533.50" cy="300.18" r="0.5" fill="#8a86c8" opacity="0.63"/>
<circle cx="497.85" cy="283.52" r="0.7" fill="#6a66c0" opacity="0.81"/>
<circle cx="532.72" cy="269.58" r="0.7" fill="#5a56b8" opacity="0.68"/>
<circle cx="501.66" cy="278.04" r="0.7" fill="#7a76c4" opacity="0.50"/>
<circle cx="542.17" cy="268.35" r="0.7" fill="#7a76c4" opacity="0.72"/>
<circle cx="534.95" cy="280.94" r="0.5" fill="#5a56b8" opacity="0.74"/>
<circle cx="508.23" cy="277.34" r="0.6" fill="#8a86c8" opacity="0.75"/>
<circle cx="498.89" cy="282.90" r="0.4" fill="#6a66c0" opacity="0.61"/>
<circle cx="530.04" cy="297.90" r="0.6" fill="#6a66c0" opacity="0.73"/>
<circle cx="529.35" cy="294.20" r="0.5" fill="#7a76c4" opacity="0.73"/>
<circle cx="505.58" cy="281.25" r="0.5" fill="#5a56b8" opacity="0.86"/>
<circle cx="541.76" cy="285.52" r="0.6" fill="#8a86c8" opacity="0.65"/>
<circle cx="519.82" cy="288.55" r="0.6" fill="#7a76c4" opacity="0.62"/>
<circle cx="521.00" cy="293.09" r="0.4" fill="#6a66c0" opacity="0.86"/>
<circle cx="527.53" cy="285.05" r="0.7" fill="#6a66c0" opacity="0.63"/>
<circle cx="500.91" cy="279.40" r="0.4" fill="#7a76c4" opacity="0.60"/>
<circle cx="527.13" cy="280.19" r="0.6" fill="#7a76c4" opacity="0.56"/>
<circle cx="515.31" cy="297.08" r="0.6" fill="#6a66c0" opacity="0.82"/>
<circle cx="521.29" cy="273.32" r="0.4" fill="#7a76c4" opacity="0.68"/>
<circle cx="533.04" cy="289.23" r="0.5" fill="#7a76c4" opacity="0.60"/>
<circle cx="537.63" cy="283.54" r="0.5" fill="#4e4ab0" opacity="0.60"/>
<circle cx="509.40" cy="289.74" r="0.4" fill="#4e4ab0" opacity="0.79"/>
<circle cx="526.59" cy="291.30" r="0.5" fill="#5a56b8" opacity="0.76"/>
<circle cx="536.60" cy="292.61" r="0.5" fill="#4e4ab0" opacity="0.52"/>
<circle cx="504.65" cy="291.88" r="0.7" fill="#7a76c4" opacity="0.52"/>
<circle cx="517.27" cy="279.45" r="0.7" fill="#4e4ab0" opacity="0.77"/>
<circle cx="531.49" cy="274.51" r="0.4" fill="#6a66c0" opacity="0.79"/>
<circle cx="532.19" cy="290.82" r="0.6" fill="#7a76c4" opacity="0.60"/>
<circle cx="543.22" cy="284.12" r="0.5" fill="#4e4ab0" opacity="0.55"/>
<circle cx="533.44" cy="297.90" r="0.6" fill="#8a86c8" opacity="0.54"/>
<circle cx="515.51" cy="281.60" r="0.4" fill="#5a56b8" opacity="0.85"/>
<circle cx="526.61" cy="270.71" r="0.5" fill="#5a56b8" opacity="0.51"/>
<circle cx="542.17" cy="282.66" r="0.4" fill="#5a56b8" opacity="0.71"/>
<circle cx="535.51" cy="288.18" r="0.6" fill="#6a66c0" opacity="0.71"/>
<circle cx="514.06" cy="300.06" r="0.6" fill="#6a66c0" opacity="0.79"/>
<circle cx="530.46" cy="297.54" r="0.4" fill="#6a66c0" opacity="0.88"/>
<circle cx="504.01" cy="292.15" r="0.6" fill="#8a86c8" opacity="0.86"/>
<circle cx="501.13" cy="275.02" r="0.5" fill="#4e4ab0" opacity="0.80"/>
<circle cx="509.82" cy="282.15" r="0.6" fill="#8a86c8" opacity="0.67"/>
<circle cx="524.15" cy="301.37" r="0.6" fill="#5a56b8" opacity="0.72"/>
<circle cx="521.51" cy="298.62" r="0.5" fill="#7a76c4" opacity="0.86"/>
<circle cx="511.23" cy="284.85" r="0.5" fill="#6a66c0" opacity="0.55"/>
<circle cx="527.68" cy="295.30" r="0.4" fill="#7a76c4" opacity="0.70"/>
<circle cx="504.31" cy="280.31" r="0.6" fill="#8a86c8" opacity="0.54"/>
<circle cx="509.00" cy="274.07" r="0.7" fill="#8a86c8" opacity="0.63"/>
<circle cx="518.35" cy="292.30" r="0.6" fill="#8a86c8" opacity="0.64"/>
<circle cx="535.80" cy="298.23" r="0.6" fill="#6a66c0" opacity="0.58"/>
<circle cx="515.94" cy="268.59" r="0.6" fill="#5a56b8" opacity="0.63"/>
<circle cx="543.56" cy="290.35" r="0.5" fill="#4e4ab0" opacity="0.59"/>
<circle cx="511.40" cy="297.98" r="0.5" fill="#8a86c8" opacity="0.88"/>
<circle cx="499.87" cy="288.68" r="0.4" fill="#8a86c8" opacity="0.61"/>
<circle cx="529.19" cy="282.51" r="0.4" fill="#6a66c0" opacity="0.52"/>
<circle cx="525.51" cy="272.76" r="0.5" fill="#4e4ab0" opacity="0.61"/>
<circle cx="522.07" cy="270.83" r="0.6" fill="#7a76c4" opacity="0.61"/>
<circle cx="508.62" cy="293.42" r="0.7" fill="#6a66c0" opacity="0.81"/>
<circle cx="540.93" cy="300.09" r="0.5" fill="#6a66c0" opacity="0.77"/>
<circle cx="531.46" cy="278.05" r="0.6" fill="#6a66c0" opacity="0.62"/>
<circle cx="529.13" cy="274.49" r="0.4" fill="#7a76c4" opacity="0.51"/>
<circle cx="515.87" cy="288.74" r="0.5" fill="#7a76c4" opacity="0.56"/>
<circle cx="521.45" cy="298.73" r="0.5" fill="#6a66c0" opacity="0.54"/>
<circle cx="511.22" cy="300.71" r="0.4" fill="#5a56b8" opacity="0.74"/>
<circle cx="527.44" cy="300.13" r="0.5" fill="#4e4ab0" opacity="0.80"/>
<circle cx="516.97" cy="298.34" r="0.4" fill="#7a76c4" opacity="0.55"/>
<circle cx="511.38" cy="298.80" r="0.5" fill="#4e4ab0" opacity="0.82"/>
<circle cx="498.69" cy="281.50" r="0.4" fill="#6a66c0" opacity="0.80"/>
<circle cx="539.20" cy="298.74" r="0.6" fill="#7a76c4" opacity="0.71"/>
<circle cx="536.84" cy="276.32" r="0.5" fill="#5a56b8" opacity="0.64"/>
<circle cx="508.34" cy="279.98" r="0.7" fill="#8a86c8" opacity="0.51"/>
<circle cx="497.04" cy="292.91" r="0.7" fill="#6a66c0" opacity="0.50"/>
<circle cx="518.33" cy="289.87" r="0.6" fill="#6a66c0" opacity="0.58"/>
<circle cx="538.12" cy="295.37" r="0.7" fill="#4e4ab0" opacity="0.83"/>
<circle cx="529.24" cy="280.38" r="0.4" fill="#6a66c0" opacity="0.82"/>
<circle cx="510.82" cy="268.85" r="0.5" fill="#8a86c8" opacity="0.68"/>
<circle cx="527.64" cy="271.24" r="0.5" fill="#4e4ab0" opacity="0.81"/>
<circle cx="536.40" cy="286.36" r="0.4" fill="#6a66c0" opacity="0.83"/>
<circle cx="522.80" cy="295.01" r="0.6" fill="#6a66c0" opacity="0.82"/>
<circle cx="529.15" cy="295.04" r="0.7" fill="#4e4ab0" opacity="0.85"/>
<circle cx="507.67" cy="294.91" r="0.5" fill="#6a66c0" opacity="0.70"/>
<circle cx="505.61" cy="280.05" r="0.7" fill="#4e4ab0" opacity="0.70"/>
<circle cx="511.80" cy="295.29" r="0.7" fill="#5a56b8" opacity="0.69"/>
<circle cx="517.84" cy="285.04" r="0.6" fill="#6a66c0" opacity="0.69"/>
<circle cx="497.53" cy="285.21" r="0.5" fill="#8a86c8" opacity="0.66"/>
<circle cx="501.82" cy="270.86" r="0.6" fill="#8a86c8" opacity="0.53"/>
<circle cx="496.96" cy="293.25" r="0.6" fill="#4e4ab0" opacity="0.60"/>
<circle cx="541.68" cy="297.16" r="0.4" fill="#6a66c0" opacity="0.81"/>
<circle cx="501.48" cy="277.53" r="0.7" fill="#7a76c4" opacity="0.56"/>
<circle cx="515.41" cy="283.92" r="0.7" fill="#6a66c0" opacity="0.59"/>
<circle cx="524.44" cy="290.69" r="0.6" fill="#5a56b8" opacity="0.68"/>
<circle cx="500.81" cy="280.98" r="0.6" fill="#4e4ab0" opacity="0.53"/>
<circle cx="506.32" cy="301.15" r="0.7" fill="#6a66c0" opacity="0.58"/>
<circle cx="502.61" cy="280.63" r="0.7" fill="#6a66c0" opacity="0.82"/>
<circle cx="496.68" cy="296.45" r="0.5" fill="#5a56b8" opacity="0.60"/>
<circle cx="538.74" cy="284.58" r="0.6" fill="#7a76c4" opacity="0.85"/>
<circle cx="525.98" cy="300.62" r="0.7" fill="#7a76c4" opacity="0.84"/>
<circle cx="542.84" cy="277.01" r="0.7" fill="#5a56b8" opacity="0.84"/>
<circle cx="526.23" cy="301.64" r="0.4" fill="#6a66c0" opacity="0.74"/>
<circle cx="502.72" cy="296.74" r="0.4" fill="#6a66c0" opacity="0.79"/>
<circle cx="539.94" cy="277.85" r="0.6" fill="#7a76c4" opacity="0.69"/>
<circle cx="496.82" cy="270.89" r="0.6" fill="#6a66c0" opacity="0.74"/>
<circle cx="538.98" cy="283.70" r="0.5" fill="#4e4ab0" opacity="0.87"/>
<circle cx="531.22" cy="281.84" r="0.4" fill="#7a76c4" opacity="0.66"/>
<circle cx="507.26" cy="301.07" r="0.7" fill="#7a76c4" opacity="0.62"/>
<circle cx="513.26" cy="279.32" r="0.4" fill="#7a76c4" opacity="0.55"/>
<circle cx="534.97" cy="272.96" r="0.4" fill="#5a56b8" opacity="0.87"/>
<circle cx="508.20" cy="293.80" r="0.6" fill="#8a86c8" opacity="0.88"/>
<circle cx="502.45" cy="276.70" r="0.6" fill="#6a66c0" opacity="0.58"/>
<circle cx="538.53" cy="277.73" r="0.7" fill="#8a86c8" opacity="0.69"/>
<circle cx="509.05" cy="270.55" r="0.6" fill="#5a56b8" opacity="0.55"/>
<circle cx="516.73" cy="272.27" r="0.7" fill="#6a66c0" opacity="0.63"/>
<circle cx="535.91" cy="296.72" r="0.5" fill="#8a86c8" opacity="0.62"/>
<circle cx="524.75" cy="272.68" r="0.5" fill="#6a66c0" opacity="0.67"/>
<circle cx="531.51" cy="275.25" r="0.4" fill="#7a76c4" opacity="0.51"/>
<circle cx="511.69" cy="285.20" r="0.6" fill="#6a66c0" opacity="0.54"/>
<circle cx="507.59" cy="283.19" r="0.4" fill="#4e4ab0" opacity="0.53"/>
<circle cx="503.31" cy="276.27" r="0.4" fill="#6a66c0" opacity="0.51"/>
<circle cx="507.72" cy="272.81" r="0.6" fill="#5a56b8" opacity="0.80"/>
<circle cx="537.48" cy="293.89" r="0.4" fill="#5a56b8" opacity="0.79"/>
<circle cx="529.51" cy="288.26" r="0.5" fill="#8a86c8" opacity="0.69"/>
<circle cx="514.46" cy="293.80" r="1.2" fill="#3c36b0" opacity="0.9"/>
<circle cx="540.45" cy="278.28" r="0.9" fill="#3630a4" opacity="0.9"/>
<circle cx="513.25" cy="291.91" r="1.0" fill="#4840bc" opacity="0.9"/>
<circle cx="502.39" cy="289.31" r="1.2" fill="#3c36b0" opacity="0.9"/>
<circle cx="504.91" cy="279.51" r="1.2" fill="#4840bc" opacity="0.9"/>
<circle cx="518.85" cy="275.71" r="0.9" fill="#4840bc" opacity="0.9"/>
<circle cx="526.91" cy="273.37" r="1.2" fill="#3630a4" opacity="0.9"/>
<circle cx="504.32" cy="286.62" r="1.0" fill="#3630a4" opacity="0.9"/>
<circle cx="533.85" cy="281.71" r="0.9" fill="#4840bc" opacity="0.9"/>
<circle cx="502.23" cy="287.41" r="1.2" fill="#3c36b0" opacity="0.9"/>
<circle cx="537.78" cy="290.79" r="1.2" fill="#3c36b0" opacity="0.9"/>
<circle cx="509.99" cy="286.66" r="0.9" fill="#3630a4" opacity="0.9"/>
<circle cx="517.61" cy="278.37" r="0.9" fill="#4840bc" opacity="0.9"/>
<circle cx="501.62" cy="296.19" r="0.9" fill="#4840bc" opacity="0.9"/>
<circle cx="522.84" cy="274.24" r="1.2" fill="#3630a4" opacity="0.9"/>
<circle cx="527.06" cy="283.65" r="0.9" fill="#3630a4" opacity="0.9"/>
</g>
<text font-size="6" fill="#111" textLength="16" lengthAdjust="spacingAndGlyphs" x="500" y="259.3" >100 µm</text>
<rect x="499.30" y="260.20" width="16.90" height="1.50" fill="#111" />
<text font-size="8.4" fill="#222" text-anchor="middle" textLength="35.2" lengthAdjust="spacingAndGlyphs" transform="translate(493.2,248.4) rotate(-90)" stroke="#222" stroke-width="0.2">Periphery</text>
<text font-size="8.4" fill="#222" text-anchor="middle" textLength="23.6" lengthAdjust="spacingAndGlyphs" transform="translate(493.2,284.9) rotate(-90)" stroke="#222" stroke-width="0.3">Center</text>
</svg>
</body></html>
